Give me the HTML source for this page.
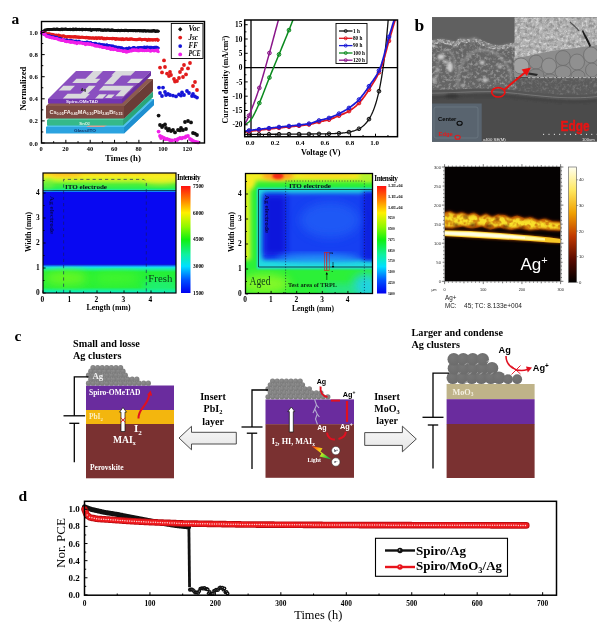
<!DOCTYPE html>
<html lang="en"><head><meta charset="utf-8"><title>Figure</title>
<style>
html,body{margin:0;padding:0;background:#fff;}
body{width:600px;height:625px;overflow:hidden;}
svg{display:block;}
text{font-weight:bold;}
.fs{font-family:"Liberation Serif",serif;}
.fn{font-family:"Liberation Sans",sans-serif;}
</style></head><body>
<svg width="600" height="625" viewBox="0 0 600 625">
<defs>
<linearGradient id="jet" x1="0" y1="1" x2="0" y2="0">
<stop offset="0" stop-color="#0000f0"/><stop offset="0.12" stop-color="#0050ff"/><stop offset="0.25" stop-color="#00e0ff"/>
<stop offset="0.36" stop-color="#10f0a0"/><stop offset="0.5" stop-color="#10f010"/><stop offset="0.62" stop-color="#90f800"/>
<stop offset="0.75" stop-color="#fff000"/><stop offset="0.87" stop-color="#ff8000"/><stop offset="1" stop-color="#ff1010"/>
</linearGradient>
<linearGradient id="h1top" x1="0" y1="0" x2="0" y2="1">
<stop offset="0" stop-color="#ffd020"/><stop offset="0.2" stop-color="#f6f020"/><stop offset="0.42" stop-color="#b0f42c"/><stop offset="0.6" stop-color="#50f038"/><stop offset="0.8" stop-color="#28f050"/><stop offset="0.9" stop-color="#18e8b0"/><stop offset="0.925" stop-color="#0a2a50"/><stop offset="0.955" stop-color="#18c8f8"/><stop offset="1" stop-color="#0a20f4"/>
</linearGradient>
<linearGradient id="h1bot" x1="0" y1="0" x2="0" y2="1">
<stop offset="0" stop-color="#0818c8"/><stop offset="0.05" stop-color="#1070f8"/><stop offset="0.1" stop-color="#18e0f0"/><stop offset="0.17" stop-color="#1cf0a0"/><stop offset="0.27" stop-color="#24f038"/><stop offset="0.8" stop-color="#28f038"/><stop offset="0.9" stop-color="#18f090"/><stop offset="1" stop-color="#08ecd0"/>
</linearGradient>
<filter id="b2" x="-30%" y="-30%" width="160%" height="160%"><feGaussianBlur stdDeviation="2"/></filter>
<filter id="b3" x="-30%" y="-30%" width="160%" height="160%"><feGaussianBlur stdDeviation="3.2"/></filter>
<filter id="b5" x="-30%" y="-30%" width="160%" height="160%"><feGaussianBlur stdDeviation="5"/></filter>
<filter id="b1" x="-30%" y="-30%" width="160%" height="160%"><feGaussianBlur stdDeviation="1.1"/></filter>
<clipPath id="ch1"><rect x="43" y="173" width="133" height="120"/></clipPath>
<clipPath id="ch2"><rect x="245.5" y="173.5" width="127" height="120"/></clipPath>

<filter id="nz2" x="0" y="0" width="100%" height="100%"><feTurbulence type="fractalNoise" baseFrequency="0.33" numOctaves="3" seed="11" result="t"/><feColorMatrix in="t" type="matrix" values="0 0 0 0 1  0 0 0 0 1  0 0 0 0 1  3.4 0 0 0 -1.55"/><feGaussianBlur stdDeviation="0.35"/><feComposite in2="SourceGraphic" operator="in"/></filter>
<filter id="nz3" x="0" y="0" width="100%" height="100%"><feTurbulence type="fractalNoise" baseFrequency="0.28" numOctaves="3" seed="7" result="t"/><feColorMatrix in="t" type="matrix" values="0 0 0 0 0.12  0 0 0 0 0.12  0 0 0 0 0.12  0 3.2 0 0 -1.4"/><feGaussianBlur stdDeviation="0.4"/><feComposite in2="SourceGraphic" operator="in"/></filter>
<filter id="nz4" x="0" y="0" width="100%" height="100%"><feTurbulence type="fractalNoise" baseFrequency="0.4" numOctaves="2" seed="21" result="t"/><feColorMatrix in="t" type="matrix" values="0 0 0 0 1  0 0 0 0 1  0 0 0 0 1  4 0 0 0 -1.6"/><feGaussianBlur stdDeviation="0.3"/><feComposite in2="SourceGraphic" operator="in"/></filter>
<filter id="nzy" x="0" y="0" width="100%" height="100%"><feTurbulence type="fractalNoise" baseFrequency="0.2" numOctaves="2" seed="5" result="t"/><feColorMatrix in="t" type="matrix" values="0 0 0 0 0.5  0 0 0 0 0.08  0 0 0 0 0  4.5 0 0 0 -2.0"/><feGaussianBlur stdDeviation="0.4"/><feComposite in2="SourceGraphic" operator="in"/></filter>
<filter id="bb" x="-20%" y="-40%" width="140%" height="180%"><feGaussianBlur stdDeviation="0.8"/></filter>
<filter id="bbs" x="-20%" y="-40%" width="140%" height="180%"><feGaussianBlur stdDeviation="0.5"/></filter>
<filter id="bb2" x="-20%" y="-40%" width="140%" height="180%"><feGaussianBlur stdDeviation="1.6"/></filter>
<clipPath id="csem"><rect x="432" y="17.3" width="165" height="124.5"/></clipPath>
<clipPath id="cins"><rect x="514.6" y="17" width="82.4" height="59.8"/></clipPath>
<clipPath id="ctof"><rect x="444.6" y="167" width="116" height="114.3"/></clipPath>
<linearGradient id="hot" x1="0" y1="1" x2="0" y2="0">
<stop offset="0" stop-color="#000"/><stop offset="0.2" stop-color="#5a0a00"/><stop offset="0.4" stop-color="#c03800"/><stop offset="0.6" stop-color="#f0a000"/><stop offset="0.8" stop-color="#ffe860"/><stop offset="1" stop-color="#fffff0"/>
</linearGradient>

<radialGradient id="ag1" cx="0.4" cy="0.35" r="0.7"><stop offset="0" stop-color="#8e8e8e"/><stop offset="1" stop-color="#777"/></radialGradient>
<radialGradient id="ag2" cx="0.4" cy="0.35" r="0.7"><stop offset="0" stop-color="#767676"/><stop offset="1" stop-color="#6b6b6b"/></radialGradient>
<linearGradient id="arr" x1="0" y1="0" x2="0" y2="1"><stop offset="0" stop-color="#f8f8f8"/><stop offset="1" stop-color="#e6e6e6"/></linearGradient>
<linearGradient id="rain" x1="0" y1="0" x2="1" y2="0.6"><stop offset="0" stop-color="#ff2010"/><stop offset="0.35" stop-color="#ffb010"/><stop offset="0.6" stop-color="#d0f020"/><stop offset="1" stop-color="#20c040"/></linearGradient>
</defs>
<rect width="600" height="625" fill="#fff"/>
<g id="pa"><polygon points="46,127 124,127 154,99 154,105 124,133.5 46,133.5" fill="#2ba3e0" stroke="none" stroke-width="1" />
<polygon points="46,127 124,127 154,99 76,99" fill="#4fc3ee" stroke="none" stroke-width="1" />
<polygon points="124,127 154,99 154,105 124,133.5" fill="#1e8fd0" stroke="none" stroke-width="1" />
<polygon points="86,127 104,127 110,123.5 92,123.5" fill="#d9a39a" stroke="none" stroke-width="1" />
<polygon points="47,120 123,120 153,92 77,92" fill="#4fcfa0" stroke="none" stroke-width="1" />
<polygon points="47,120 123,120 153,92 153,97 123,125.5 47,125.5" fill="#35b98a" stroke="none" stroke-width="1" />
<polygon points="123,120 153,92 153,97 123,125.5" fill="#2aa57a" stroke="none" stroke-width="1" />
<polygon points="46,106 124,106 153,79 153,91 124,118.5 46,118.5" fill="#7d4a42" stroke="none" stroke-width="1" />
<polygon points="124,106 153,79 153,91 124,118.5" fill="#6a3c36" stroke="none" stroke-width="1" />
<polygon points="46,106 124,106 153,79 75,79" fill="#8d5a50" stroke="none" stroke-width="1" />
<polygon points="48,99 122,99 151,71 76,71" fill="#8a4fc0" stroke="none" stroke-width="1" />
<polygon points="48,99 122,99 122,103.5 48,103.5" fill="#7335b0" stroke="none" stroke-width="1" />
<polygon points="122,99 151,71 151,75.5 122,103.5" fill="#6a2fa3" stroke="none" stroke-width="1" />
<polygon points="93.25,71 103,71 94.6,79.4 84.85,79.4" fill="#d9d9dc" stroke="none" stroke-width="1" />
<polygon points="76.41,78.84 100.41,78.84 96.21,83.04 72.21,83.04" fill="#d9d9dc" stroke="none" stroke-width="1" />
<polygon points="115.75,71 135.25,71 130.77,75.48 111.27,75.48" fill="#d9d9dc" stroke="none" stroke-width="1" />
<polygon points="113.89,74.36 122.89,74.36 113.09,84.16 104.09,84.16" fill="#d9d9dc" stroke="none" stroke-width="1" />
<polygon points="131.16,78.84 143.16,78.84 138.96,83.04 126.96,83.04" fill="#d9d9dc" stroke="none" stroke-width="1" />
<polygon points="63.41,85.84 75.03,85.84 70.28,90.6 58.65,90.6" fill="#d9d9dc" stroke="none" stroke-width="1" />
<polygon points="103.53,85.84 133.91,85.84 129.15,90.6 98.78,90.6" fill="#d9d9dc" stroke="none" stroke-width="1" />
<polygon points="122.02,89.48 130.27,89.48 123.55,96.2 115.3,96.2" fill="#d9d9dc" stroke="none" stroke-width="1" />
<polygon points="67.57,93.68 90.07,93.68 85.31,98.44 62.81,98.44" fill="#d9d9dc" stroke="none" stroke-width="1" />
<polygon points="88.91,85.84 95.66,85.84 86.7,94.8 79.95,94.8" fill="#d9d9dc" stroke="none" stroke-width="1" />
<polygon points="99.26,94.24 106.76,94.24 102.56,98.44 95.06,98.44" fill="#d9d9dc" stroke="none" stroke-width="1" />
<polygon points="108.36,94.52 114.73,94.52 111.37,97.88 105,97.88" fill="#d9d9dc" stroke="none" stroke-width="1" />
<text class="fn" x="83.5" y="90.6" font-size="4.2" text-anchor="middle" fill="#222" >Ag</text>
<text class="fn" x="82" y="103" font-size="4.4" text-anchor="middle" fill="#efe6fa" textLength="32" lengthAdjust="spacingAndGlyphs">Spiro-OMeTAD</text>
<text class="fn" x="86" y="113.8" font-size="4.6" text-anchor="middle" fill="#f6ece8" textLength="73" lengthAdjust="spacingAndGlyphs">Cs<tspan font-size="3" dy="0.8">0.05</tspan><tspan dy="-0.8">FA</tspan><tspan font-size="3" dy="0.8">0.85</tspan><tspan dy="-0.8">MA</tspan><tspan font-size="3" dy="0.8">0.10</tspan><tspan dy="-0.8">PbI</tspan><tspan font-size="3" dy="0.8">2.85</tspan><tspan dy="-0.8">Br</tspan><tspan font-size="3" dy="0.8">0.15</tspan></text>
<text class="fn" x="84.5" y="124.6" font-size="4.2" text-anchor="middle" fill="#e6f8ee" >SnO<tspan font-size="3" dy="0.8">2</tspan></text>
<text class="fn" x="85" y="132.2" font-size="4.4" text-anchor="middle" fill="#14356a" textLength="22" lengthAdjust="spacingAndGlyphs">Glass/ITO</text>
<circle cx="41.5" cy="32.48" r="1.45" fill="#111" stroke="none" stroke-width="1" /><circle cx="42.11" cy="31.86" r="1.45" fill="#111" stroke="none" stroke-width="1" /><circle cx="42.72" cy="31.97" r="1.45" fill="#111" stroke="none" stroke-width="1" /><circle cx="43.33" cy="31.18" r="1.45" fill="#111" stroke="none" stroke-width="1" /><circle cx="43.94" cy="31.08" r="1.45" fill="#111" stroke="none" stroke-width="1" /><circle cx="44.54" cy="30.72" r="1.45" fill="#111" stroke="none" stroke-width="1" /><circle cx="45.15" cy="29.87" r="1.45" fill="#111" stroke="none" stroke-width="1" /><circle cx="45.76" cy="30.14" r="1.45" fill="#111" stroke="none" stroke-width="1" /><circle cx="46.37" cy="30.08" r="1.45" fill="#111" stroke="none" stroke-width="1" /><circle cx="46.98" cy="29.8" r="1.45" fill="#111" stroke="none" stroke-width="1" /><circle cx="47.59" cy="29.6" r="1.45" fill="#111" stroke="none" stroke-width="1" /><circle cx="48.2" cy="29.74" r="1.45" fill="#111" stroke="none" stroke-width="1" /><circle cx="48.8" cy="29.5" r="1.45" fill="#111" stroke="none" stroke-width="1" /><circle cx="49.41" cy="29.73" r="1.45" fill="#111" stroke="none" stroke-width="1" /><circle cx="50.02" cy="29.49" r="1.45" fill="#111" stroke="none" stroke-width="1" /><circle cx="50.63" cy="29.39" r="1.45" fill="#111" stroke="none" stroke-width="1" /><circle cx="51.24" cy="29.48" r="1.45" fill="#111" stroke="none" stroke-width="1" /><circle cx="51.85" cy="29.52" r="1.45" fill="#111" stroke="none" stroke-width="1" /><circle cx="52.46" cy="29.55" r="1.45" fill="#111" stroke="none" stroke-width="1" /><circle cx="53.07" cy="29.25" r="1.45" fill="#111" stroke="none" stroke-width="1" /><circle cx="53.67" cy="29.24" r="1.45" fill="#111" stroke="none" stroke-width="1" /><circle cx="54.28" cy="29.28" r="1.45" fill="#111" stroke="none" stroke-width="1" /><circle cx="54.89" cy="29.2" r="1.45" fill="#111" stroke="none" stroke-width="1" /><circle cx="55.5" cy="29.52" r="1.45" fill="#111" stroke="none" stroke-width="1" /><circle cx="56.11" cy="29.24" r="1.45" fill="#111" stroke="none" stroke-width="1" /><circle cx="56.72" cy="29.18" r="1.45" fill="#111" stroke="none" stroke-width="1" /><circle cx="57.33" cy="29.07" r="1.45" fill="#111" stroke="none" stroke-width="1" /><circle cx="57.94" cy="29.43" r="1.45" fill="#111" stroke="none" stroke-width="1" /><circle cx="58.55" cy="29.33" r="1.45" fill="#111" stroke="none" stroke-width="1" /><circle cx="59.15" cy="29.7" r="1.45" fill="#111" stroke="none" stroke-width="1" /><circle cx="59.76" cy="29.37" r="1.45" fill="#111" stroke="none" stroke-width="1" /><circle cx="60.37" cy="29.75" r="1.45" fill="#111" stroke="none" stroke-width="1" /><circle cx="60.98" cy="29.58" r="1.45" fill="#111" stroke="none" stroke-width="1" /><circle cx="61.59" cy="29.03" r="1.45" fill="#111" stroke="none" stroke-width="1" /><circle cx="62.2" cy="29.76" r="1.45" fill="#111" stroke="none" stroke-width="1" /><circle cx="62.81" cy="29.1" r="1.45" fill="#111" stroke="none" stroke-width="1" /><circle cx="63.41" cy="29.21" r="1.45" fill="#111" stroke="none" stroke-width="1" /><circle cx="64.02" cy="29.36" r="1.45" fill="#111" stroke="none" stroke-width="1" /><circle cx="64.63" cy="29.19" r="1.45" fill="#111" stroke="none" stroke-width="1" /><circle cx="65.24" cy="29.18" r="1.45" fill="#111" stroke="none" stroke-width="1" /><circle cx="65.85" cy="29.07" r="1.45" fill="#111" stroke="none" stroke-width="1" /><circle cx="66.46" cy="29.36" r="1.45" fill="#111" stroke="none" stroke-width="1" /><circle cx="67.07" cy="29.45" r="1.45" fill="#111" stroke="none" stroke-width="1" /><circle cx="67.68" cy="29.45" r="1.45" fill="#111" stroke="none" stroke-width="1" /><circle cx="68.28" cy="29.54" r="1.45" fill="#111" stroke="none" stroke-width="1" /><circle cx="68.89" cy="29.34" r="1.45" fill="#111" stroke="none" stroke-width="1" /><circle cx="69.5" cy="29.51" r="1.45" fill="#111" stroke="none" stroke-width="1" /><circle cx="70.11" cy="29.1" r="1.45" fill="#111" stroke="none" stroke-width="1" /><circle cx="70.72" cy="29.76" r="1.45" fill="#111" stroke="none" stroke-width="1" /><circle cx="71.33" cy="29.59" r="1.45" fill="#111" stroke="none" stroke-width="1" /><circle cx="71.94" cy="29.57" r="1.45" fill="#111" stroke="none" stroke-width="1" /><circle cx="72.55" cy="29.82" r="1.45" fill="#111" stroke="none" stroke-width="1" /><circle cx="73.16" cy="28.95" r="1.45" fill="#111" stroke="none" stroke-width="1" /><circle cx="73.76" cy="29.9" r="1.45" fill="#111" stroke="none" stroke-width="1" /><circle cx="74.37" cy="29.44" r="1.45" fill="#111" stroke="none" stroke-width="1" /><circle cx="74.98" cy="29.5" r="1.45" fill="#111" stroke="none" stroke-width="1" /><circle cx="75.59" cy="29.02" r="1.45" fill="#111" stroke="none" stroke-width="1" /><circle cx="76.2" cy="29.83" r="1.45" fill="#111" stroke="none" stroke-width="1" /><circle cx="76.81" cy="29.16" r="1.45" fill="#111" stroke="none" stroke-width="1" /><circle cx="77.42" cy="29.56" r="1.45" fill="#111" stroke="none" stroke-width="1" /><circle cx="78.03" cy="29.44" r="1.45" fill="#111" stroke="none" stroke-width="1" /><circle cx="78.63" cy="29.57" r="1.45" fill="#111" stroke="none" stroke-width="1" /><circle cx="79.24" cy="29.29" r="1.45" fill="#111" stroke="none" stroke-width="1" /><circle cx="79.85" cy="29.7" r="1.45" fill="#111" stroke="none" stroke-width="1" /><circle cx="80.46" cy="29.48" r="1.45" fill="#111" stroke="none" stroke-width="1" /><circle cx="81.07" cy="29.4" r="1.45" fill="#111" stroke="none" stroke-width="1" /><circle cx="81.68" cy="29.09" r="1.45" fill="#111" stroke="none" stroke-width="1" /><circle cx="82.29" cy="30.04" r="1.45" fill="#111" stroke="none" stroke-width="1" /><circle cx="82.9" cy="29.19" r="1.45" fill="#111" stroke="none" stroke-width="1" /><circle cx="83.5" cy="29.33" r="1.45" fill="#111" stroke="none" stroke-width="1" /><circle cx="84.11" cy="29.66" r="1.45" fill="#111" stroke="none" stroke-width="1" /><circle cx="84.72" cy="29.5" r="1.45" fill="#111" stroke="none" stroke-width="1" /><circle cx="85.33" cy="29.69" r="1.45" fill="#111" stroke="none" stroke-width="1" /><circle cx="85.94" cy="29.23" r="1.45" fill="#111" stroke="none" stroke-width="1" /><circle cx="86.55" cy="29.57" r="1.45" fill="#111" stroke="none" stroke-width="1" /><circle cx="87.16" cy="29.67" r="1.45" fill="#111" stroke="none" stroke-width="1" /><circle cx="87.77" cy="29.69" r="1.45" fill="#111" stroke="none" stroke-width="1" /><circle cx="88.37" cy="29.7" r="1.45" fill="#111" stroke="none" stroke-width="1" /><circle cx="88.98" cy="29.71" r="1.45" fill="#111" stroke="none" stroke-width="1" /><circle cx="89.59" cy="29.88" r="1.45" fill="#111" stroke="none" stroke-width="1" /><circle cx="90.2" cy="29.25" r="1.45" fill="#111" stroke="none" stroke-width="1" /><circle cx="90.81" cy="30.14" r="1.45" fill="#111" stroke="none" stroke-width="1" /><circle cx="91.42" cy="30.53" r="1.45" fill="#111" stroke="none" stroke-width="1" /><circle cx="92.03" cy="29.77" r="1.45" fill="#111" stroke="none" stroke-width="1" /><circle cx="92.63" cy="29.79" r="1.45" fill="#111" stroke="none" stroke-width="1" /><circle cx="93.24" cy="29.69" r="1.45" fill="#111" stroke="none" stroke-width="1" /><circle cx="93.85" cy="29.83" r="1.45" fill="#111" stroke="none" stroke-width="1" /><circle cx="94.46" cy="29.84" r="1.45" fill="#111" stroke="none" stroke-width="1" /><circle cx="95.07" cy="29.75" r="1.45" fill="#111" stroke="none" stroke-width="1" /><circle cx="95.68" cy="29.62" r="1.45" fill="#111" stroke="none" stroke-width="1" /><circle cx="96.29" cy="29.95" r="1.45" fill="#111" stroke="none" stroke-width="1" /><circle cx="96.9" cy="29.95" r="1.45" fill="#111" stroke="none" stroke-width="1" /><circle cx="97.5" cy="29.45" r="1.45" fill="#111" stroke="none" stroke-width="1" /><circle cx="98.11" cy="29.78" r="1.45" fill="#111" stroke="none" stroke-width="1" /><circle cx="98.72" cy="30.12" r="1.45" fill="#111" stroke="none" stroke-width="1" /><circle cx="99.33" cy="29.41" r="1.45" fill="#111" stroke="none" stroke-width="1" /><circle cx="99.94" cy="29.76" r="1.45" fill="#111" stroke="none" stroke-width="1" /><circle cx="100.55" cy="30.08" r="1.45" fill="#111" stroke="none" stroke-width="1" /><circle cx="101.16" cy="30.23" r="1.45" fill="#111" stroke="none" stroke-width="1" /><circle cx="101.77" cy="29.91" r="1.45" fill="#111" stroke="none" stroke-width="1" /><circle cx="102.38" cy="30.18" r="1.45" fill="#111" stroke="none" stroke-width="1" /><circle cx="102.98" cy="30.24" r="1.45" fill="#111" stroke="none" stroke-width="1" /><circle cx="103.59" cy="30.31" r="1.45" fill="#111" stroke="none" stroke-width="1" /><circle cx="104.2" cy="30.15" r="1.45" fill="#111" stroke="none" stroke-width="1" /><circle cx="104.81" cy="29.81" r="1.45" fill="#111" stroke="none" stroke-width="1" /><circle cx="105.42" cy="30.16" r="1.45" fill="#111" stroke="none" stroke-width="1" /><circle cx="106.03" cy="30.4" r="1.45" fill="#111" stroke="none" stroke-width="1" /><circle cx="106.64" cy="29.95" r="1.45" fill="#111" stroke="none" stroke-width="1" /><circle cx="107.25" cy="30.1" r="1.45" fill="#111" stroke="none" stroke-width="1" /><circle cx="107.85" cy="29.94" r="1.45" fill="#111" stroke="none" stroke-width="1" /><circle cx="108.46" cy="29.88" r="1.45" fill="#111" stroke="none" stroke-width="1" /><circle cx="109.07" cy="30.19" r="1.45" fill="#111" stroke="none" stroke-width="1" /><circle cx="109.68" cy="30.2" r="1.45" fill="#111" stroke="none" stroke-width="1" /><circle cx="110.29" cy="30.2" r="1.45" fill="#111" stroke="none" stroke-width="1" /><circle cx="110.9" cy="30.45" r="1.45" fill="#111" stroke="none" stroke-width="1" /><circle cx="111.51" cy="30.07" r="1.45" fill="#111" stroke="none" stroke-width="1" /><circle cx="112.11" cy="29.93" r="1.45" fill="#111" stroke="none" stroke-width="1" /><circle cx="112.72" cy="30.21" r="1.45" fill="#111" stroke="none" stroke-width="1" /><circle cx="113.33" cy="30.31" r="1.45" fill="#111" stroke="none" stroke-width="1" /><circle cx="113.94" cy="30.33" r="1.45" fill="#111" stroke="none" stroke-width="1" /><circle cx="114.55" cy="30.46" r="1.45" fill="#111" stroke="none" stroke-width="1" /><circle cx="115.16" cy="30.48" r="1.45" fill="#111" stroke="none" stroke-width="1" /><circle cx="115.77" cy="30.4" r="1.45" fill="#111" stroke="none" stroke-width="1" /><circle cx="116.38" cy="30.51" r="1.45" fill="#111" stroke="none" stroke-width="1" /><circle cx="116.98" cy="30.44" r="1.45" fill="#111" stroke="none" stroke-width="1" /><circle cx="117.59" cy="30.7" r="1.45" fill="#111" stroke="none" stroke-width="1" /><circle cx="118.2" cy="30.29" r="1.45" fill="#111" stroke="none" stroke-width="1" /><circle cx="118.81" cy="30.37" r="1.45" fill="#111" stroke="none" stroke-width="1" /><circle cx="119.42" cy="30.64" r="1.45" fill="#111" stroke="none" stroke-width="1" /><circle cx="120.03" cy="30.91" r="1.45" fill="#111" stroke="none" stroke-width="1" /><circle cx="120.64" cy="30.41" r="1.45" fill="#111" stroke="none" stroke-width="1" /><circle cx="121.25" cy="30.18" r="1.45" fill="#111" stroke="none" stroke-width="1" /><circle cx="121.86" cy="30.6" r="1.45" fill="#111" stroke="none" stroke-width="1" /><circle cx="122.46" cy="30.56" r="1.45" fill="#111" stroke="none" stroke-width="1" /><circle cx="123.07" cy="30.59" r="1.45" fill="#111" stroke="none" stroke-width="1" /><circle cx="123.68" cy="30.33" r="1.45" fill="#111" stroke="none" stroke-width="1" /><circle cx="124.29" cy="30.69" r="1.45" fill="#111" stroke="none" stroke-width="1" /><circle cx="124.9" cy="30.28" r="1.45" fill="#111" stroke="none" stroke-width="1" /><circle cx="125.51" cy="30.58" r="1.45" fill="#111" stroke="none" stroke-width="1" /><circle cx="126.12" cy="30.32" r="1.45" fill="#111" stroke="none" stroke-width="1" /><circle cx="126.73" cy="30.53" r="1.45" fill="#111" stroke="none" stroke-width="1" /><circle cx="127.33" cy="30.6" r="1.45" fill="#111" stroke="none" stroke-width="1" /><circle cx="127.94" cy="30.89" r="1.45" fill="#111" stroke="none" stroke-width="1" /><circle cx="128.55" cy="30.72" r="1.45" fill="#111" stroke="none" stroke-width="1" /><circle cx="129.16" cy="30.64" r="1.45" fill="#111" stroke="none" stroke-width="1" /><circle cx="129.77" cy="30.45" r="1.45" fill="#111" stroke="none" stroke-width="1" /><circle cx="130.38" cy="30.56" r="1.45" fill="#111" stroke="none" stroke-width="1" /><circle cx="130.99" cy="30.78" r="1.45" fill="#111" stroke="none" stroke-width="1" /><circle cx="131.59" cy="30.54" r="1.45" fill="#111" stroke="none" stroke-width="1" /><circle cx="132.2" cy="30.43" r="1.45" fill="#111" stroke="none" stroke-width="1" /><circle cx="132.81" cy="30.69" r="1.45" fill="#111" stroke="none" stroke-width="1" /><circle cx="133.42" cy="30.77" r="1.45" fill="#111" stroke="none" stroke-width="1" /><circle cx="134.03" cy="30.77" r="1.45" fill="#111" stroke="none" stroke-width="1" /><circle cx="134.64" cy="30.52" r="1.45" fill="#111" stroke="none" stroke-width="1" /><circle cx="135.25" cy="30.59" r="1.45" fill="#111" stroke="none" stroke-width="1" /><circle cx="135.86" cy="30.93" r="1.45" fill="#111" stroke="none" stroke-width="1" /><circle cx="136.47" cy="30.65" r="1.45" fill="#111" stroke="none" stroke-width="1" /><circle cx="137.07" cy="30.85" r="1.45" fill="#111" stroke="none" stroke-width="1" /><circle cx="137.68" cy="30.92" r="1.45" fill="#111" stroke="none" stroke-width="1" /><circle cx="138.29" cy="30.49" r="1.45" fill="#111" stroke="none" stroke-width="1" /><circle cx="138.9" cy="30.6" r="1.45" fill="#111" stroke="none" stroke-width="1" /><circle cx="139.51" cy="30.95" r="1.45" fill="#111" stroke="none" stroke-width="1" /><circle cx="140.12" cy="30.79" r="1.45" fill="#111" stroke="none" stroke-width="1" /><circle cx="140.73" cy="30.71" r="1.45" fill="#111" stroke="none" stroke-width="1" /><circle cx="141.34" cy="30.97" r="1.45" fill="#111" stroke="none" stroke-width="1" /><circle cx="141.94" cy="30.87" r="1.45" fill="#111" stroke="none" stroke-width="1" /><circle cx="142.55" cy="30.71" r="1.45" fill="#111" stroke="none" stroke-width="1" /><circle cx="143.16" cy="31.26" r="1.45" fill="#111" stroke="none" stroke-width="1" /><circle cx="143.77" cy="30.81" r="1.45" fill="#111" stroke="none" stroke-width="1" /><circle cx="144.38" cy="30.73" r="1.45" fill="#111" stroke="none" stroke-width="1" /><circle cx="144.99" cy="30.79" r="1.45" fill="#111" stroke="none" stroke-width="1" /><circle cx="145.6" cy="31.21" r="1.45" fill="#111" stroke="none" stroke-width="1" /><circle cx="146.2" cy="30.86" r="1.45" fill="#111" stroke="none" stroke-width="1" /><circle cx="146.81" cy="31.13" r="1.45" fill="#111" stroke="none" stroke-width="1" /><circle cx="147.42" cy="30.83" r="1.45" fill="#111" stroke="none" stroke-width="1" /><circle cx="148.03" cy="30.83" r="1.45" fill="#111" stroke="none" stroke-width="1" /><circle cx="148.64" cy="30.93" r="1.45" fill="#111" stroke="none" stroke-width="1" /><circle cx="149.25" cy="31.16" r="1.45" fill="#111" stroke="none" stroke-width="1" /><circle cx="149.86" cy="31.13" r="1.45" fill="#111" stroke="none" stroke-width="1" /><circle cx="150.47" cy="30.83" r="1.45" fill="#111" stroke="none" stroke-width="1" /><circle cx="151.07" cy="31.23" r="1.45" fill="#111" stroke="none" stroke-width="1" /><circle cx="151.68" cy="30.93" r="1.45" fill="#111" stroke="none" stroke-width="1" /><circle cx="152.29" cy="30.94" r="1.45" fill="#111" stroke="none" stroke-width="1" /><circle cx="152.9" cy="31.13" r="1.45" fill="#111" stroke="none" stroke-width="1" /><circle cx="153.51" cy="30.55" r="1.45" fill="#111" stroke="none" stroke-width="1" /><circle cx="154.12" cy="31.07" r="1.45" fill="#111" stroke="none" stroke-width="1" /><circle cx="154.73" cy="30.63" r="1.45" fill="#111" stroke="none" stroke-width="1" /><circle cx="155.34" cy="31.56" r="1.45" fill="#111" stroke="none" stroke-width="1" /><circle cx="155.94" cy="31.62" r="1.45" fill="#111" stroke="none" stroke-width="1" /><circle cx="156.55" cy="30.92" r="1.45" fill="#111" stroke="none" stroke-width="1" /><circle cx="157.16" cy="31.01" r="1.45" fill="#111" stroke="none" stroke-width="1" /><circle cx="157.77" cy="31.23" r="1.45" fill="#111" stroke="none" stroke-width="1" /><circle cx="158.38" cy="31.19" r="1.45" fill="#111" stroke="none" stroke-width="1" />
<circle cx="41.5" cy="33.13" r="1.45" fill="#e11b1b" stroke="none" stroke-width="1" /><circle cx="42.11" cy="32.87" r="1.45" fill="#e11b1b" stroke="none" stroke-width="1" /><circle cx="42.72" cy="33.17" r="1.45" fill="#e11b1b" stroke="none" stroke-width="1" /><circle cx="43.33" cy="33.07" r="1.45" fill="#e11b1b" stroke="none" stroke-width="1" /><circle cx="43.94" cy="32.87" r="1.45" fill="#e11b1b" stroke="none" stroke-width="1" /><circle cx="44.54" cy="33.31" r="1.45" fill="#e11b1b" stroke="none" stroke-width="1" /><circle cx="45.15" cy="33.37" r="1.45" fill="#e11b1b" stroke="none" stroke-width="1" /><circle cx="45.76" cy="33.89" r="1.45" fill="#e11b1b" stroke="none" stroke-width="1" /><circle cx="46.37" cy="33.97" r="1.45" fill="#e11b1b" stroke="none" stroke-width="1" /><circle cx="46.98" cy="33.95" r="1.45" fill="#e11b1b" stroke="none" stroke-width="1" /><circle cx="47.59" cy="34.25" r="1.45" fill="#e11b1b" stroke="none" stroke-width="1" /><circle cx="48.2" cy="33.82" r="1.45" fill="#e11b1b" stroke="none" stroke-width="1" /><circle cx="48.8" cy="34.62" r="1.45" fill="#e11b1b" stroke="none" stroke-width="1" /><circle cx="49.41" cy="33.78" r="1.45" fill="#e11b1b" stroke="none" stroke-width="1" /><circle cx="50.02" cy="34.82" r="1.45" fill="#e11b1b" stroke="none" stroke-width="1" /><circle cx="50.63" cy="34.23" r="1.45" fill="#e11b1b" stroke="none" stroke-width="1" /><circle cx="51.24" cy="34.92" r="1.45" fill="#e11b1b" stroke="none" stroke-width="1" /><circle cx="51.85" cy="34.2" r="1.45" fill="#e11b1b" stroke="none" stroke-width="1" /><circle cx="52.46" cy="34.79" r="1.45" fill="#e11b1b" stroke="none" stroke-width="1" /><circle cx="53.07" cy="34.79" r="1.45" fill="#e11b1b" stroke="none" stroke-width="1" /><circle cx="53.67" cy="34.76" r="1.45" fill="#e11b1b" stroke="none" stroke-width="1" /><circle cx="54.28" cy="35.3" r="1.45" fill="#e11b1b" stroke="none" stroke-width="1" /><circle cx="54.89" cy="35.52" r="1.45" fill="#e11b1b" stroke="none" stroke-width="1" /><circle cx="55.5" cy="35.93" r="1.45" fill="#e11b1b" stroke="none" stroke-width="1" /><circle cx="56.11" cy="34.94" r="1.45" fill="#e11b1b" stroke="none" stroke-width="1" /><circle cx="56.72" cy="35.66" r="1.45" fill="#e11b1b" stroke="none" stroke-width="1" /><circle cx="57.33" cy="35.71" r="1.45" fill="#e11b1b" stroke="none" stroke-width="1" /><circle cx="57.94" cy="35.61" r="1.45" fill="#e11b1b" stroke="none" stroke-width="1" /><circle cx="58.55" cy="35.02" r="1.45" fill="#e11b1b" stroke="none" stroke-width="1" /><circle cx="59.15" cy="36.34" r="1.45" fill="#e11b1b" stroke="none" stroke-width="1" /><circle cx="59.76" cy="35.77" r="1.45" fill="#e11b1b" stroke="none" stroke-width="1" /><circle cx="60.37" cy="36.07" r="1.45" fill="#e11b1b" stroke="none" stroke-width="1" /><circle cx="60.98" cy="35.84" r="1.45" fill="#e11b1b" stroke="none" stroke-width="1" /><circle cx="61.59" cy="36.7" r="1.45" fill="#e11b1b" stroke="none" stroke-width="1" /><circle cx="62.2" cy="36.32" r="1.45" fill="#e11b1b" stroke="none" stroke-width="1" /><circle cx="62.81" cy="36" r="1.45" fill="#e11b1b" stroke="none" stroke-width="1" /><circle cx="63.41" cy="35.84" r="1.45" fill="#e11b1b" stroke="none" stroke-width="1" /><circle cx="64.02" cy="35.92" r="1.45" fill="#e11b1b" stroke="none" stroke-width="1" /><circle cx="64.63" cy="36.81" r="1.45" fill="#e11b1b" stroke="none" stroke-width="1" /><circle cx="65.24" cy="36.6" r="1.45" fill="#e11b1b" stroke="none" stroke-width="1" /><circle cx="65.85" cy="36.74" r="1.45" fill="#e11b1b" stroke="none" stroke-width="1" /><circle cx="66.46" cy="37.18" r="1.45" fill="#e11b1b" stroke="none" stroke-width="1" /><circle cx="67.07" cy="37.23" r="1.45" fill="#e11b1b" stroke="none" stroke-width="1" /><circle cx="67.68" cy="36.53" r="1.45" fill="#e11b1b" stroke="none" stroke-width="1" /><circle cx="68.28" cy="36.73" r="1.45" fill="#e11b1b" stroke="none" stroke-width="1" /><circle cx="68.89" cy="36.88" r="1.45" fill="#e11b1b" stroke="none" stroke-width="1" /><circle cx="69.5" cy="36.46" r="1.45" fill="#e11b1b" stroke="none" stroke-width="1" /><circle cx="70.11" cy="37.22" r="1.45" fill="#e11b1b" stroke="none" stroke-width="1" /><circle cx="70.72" cy="36.75" r="1.45" fill="#e11b1b" stroke="none" stroke-width="1" /><circle cx="71.33" cy="36.94" r="1.45" fill="#e11b1b" stroke="none" stroke-width="1" /><circle cx="71.94" cy="36.99" r="1.45" fill="#e11b1b" stroke="none" stroke-width="1" /><circle cx="72.55" cy="36.84" r="1.45" fill="#e11b1b" stroke="none" stroke-width="1" /><circle cx="73.16" cy="36.97" r="1.45" fill="#e11b1b" stroke="none" stroke-width="1" /><circle cx="73.76" cy="36.97" r="1.45" fill="#e11b1b" stroke="none" stroke-width="1" /><circle cx="74.37" cy="37" r="1.45" fill="#e11b1b" stroke="none" stroke-width="1" /><circle cx="74.98" cy="36.47" r="1.45" fill="#e11b1b" stroke="none" stroke-width="1" /><circle cx="75.59" cy="37.24" r="1.45" fill="#e11b1b" stroke="none" stroke-width="1" /><circle cx="76.2" cy="36.83" r="1.45" fill="#e11b1b" stroke="none" stroke-width="1" /><circle cx="76.81" cy="36.99" r="1.45" fill="#e11b1b" stroke="none" stroke-width="1" /><circle cx="77.42" cy="37.34" r="1.45" fill="#e11b1b" stroke="none" stroke-width="1" /><circle cx="78.03" cy="36.99" r="1.45" fill="#e11b1b" stroke="none" stroke-width="1" /><circle cx="78.63" cy="37.56" r="1.45" fill="#e11b1b" stroke="none" stroke-width="1" /><circle cx="79.24" cy="36.92" r="1.45" fill="#e11b1b" stroke="none" stroke-width="1" /><circle cx="79.85" cy="37.6" r="1.45" fill="#e11b1b" stroke="none" stroke-width="1" /><circle cx="80.46" cy="37.52" r="1.45" fill="#e11b1b" stroke="none" stroke-width="1" /><circle cx="81.07" cy="37.28" r="1.45" fill="#e11b1b" stroke="none" stroke-width="1" /><circle cx="81.68" cy="37.14" r="1.45" fill="#e11b1b" stroke="none" stroke-width="1" /><circle cx="82.29" cy="37.14" r="1.45" fill="#e11b1b" stroke="none" stroke-width="1" /><circle cx="82.9" cy="37.18" r="1.45" fill="#e11b1b" stroke="none" stroke-width="1" /><circle cx="83.5" cy="37.57" r="1.45" fill="#e11b1b" stroke="none" stroke-width="1" /><circle cx="84.11" cy="37.84" r="1.45" fill="#e11b1b" stroke="none" stroke-width="1" /><circle cx="84.72" cy="37.37" r="1.45" fill="#e11b1b" stroke="none" stroke-width="1" /><circle cx="85.33" cy="37.48" r="1.45" fill="#e11b1b" stroke="none" stroke-width="1" /><circle cx="85.94" cy="37.93" r="1.45" fill="#e11b1b" stroke="none" stroke-width="1" /><circle cx="86.55" cy="37.32" r="1.45" fill="#e11b1b" stroke="none" stroke-width="1" /><circle cx="87.16" cy="37.6" r="1.45" fill="#e11b1b" stroke="none" stroke-width="1" /><circle cx="87.77" cy="38.01" r="1.45" fill="#e11b1b" stroke="none" stroke-width="1" /><circle cx="88.37" cy="37.57" r="1.45" fill="#e11b1b" stroke="none" stroke-width="1" /><circle cx="88.98" cy="38.19" r="1.45" fill="#e11b1b" stroke="none" stroke-width="1" /><circle cx="89.59" cy="38.07" r="1.45" fill="#e11b1b" stroke="none" stroke-width="1" /><circle cx="90.2" cy="37.67" r="1.45" fill="#e11b1b" stroke="none" stroke-width="1" /><circle cx="90.81" cy="38.35" r="1.45" fill="#e11b1b" stroke="none" stroke-width="1" /><circle cx="91.42" cy="37.85" r="1.45" fill="#e11b1b" stroke="none" stroke-width="1" /><circle cx="92.03" cy="38.33" r="1.45" fill="#e11b1b" stroke="none" stroke-width="1" /><circle cx="92.63" cy="37.67" r="1.45" fill="#e11b1b" stroke="none" stroke-width="1" /><circle cx="93.24" cy="38.18" r="1.45" fill="#e11b1b" stroke="none" stroke-width="1" /><circle cx="93.85" cy="37.91" r="1.45" fill="#e11b1b" stroke="none" stroke-width="1" /><circle cx="94.46" cy="38.5" r="1.45" fill="#e11b1b" stroke="none" stroke-width="1" /><circle cx="95.07" cy="38.14" r="1.45" fill="#e11b1b" stroke="none" stroke-width="1" /><circle cx="95.68" cy="37.74" r="1.45" fill="#e11b1b" stroke="none" stroke-width="1" /><circle cx="96.29" cy="37.93" r="1.45" fill="#e11b1b" stroke="none" stroke-width="1" /><circle cx="96.9" cy="38.72" r="1.45" fill="#e11b1b" stroke="none" stroke-width="1" /><circle cx="97.5" cy="37.83" r="1.45" fill="#e11b1b" stroke="none" stroke-width="1" /><circle cx="98.11" cy="37.87" r="1.45" fill="#e11b1b" stroke="none" stroke-width="1" /><circle cx="98.72" cy="38.32" r="1.45" fill="#e11b1b" stroke="none" stroke-width="1" /><circle cx="99.33" cy="37.75" r="1.45" fill="#e11b1b" stroke="none" stroke-width="1" /><circle cx="99.94" cy="38.6" r="1.45" fill="#e11b1b" stroke="none" stroke-width="1" /><circle cx="100.55" cy="38.3" r="1.45" fill="#e11b1b" stroke="none" stroke-width="1" /><circle cx="101.16" cy="37.93" r="1.45" fill="#e11b1b" stroke="none" stroke-width="1" /><circle cx="101.77" cy="37.89" r="1.45" fill="#e11b1b" stroke="none" stroke-width="1" /><circle cx="102.38" cy="37.93" r="1.45" fill="#e11b1b" stroke="none" stroke-width="1" /><circle cx="102.98" cy="38.75" r="1.45" fill="#e11b1b" stroke="none" stroke-width="1" /><circle cx="103.59" cy="39" r="1.45" fill="#e11b1b" stroke="none" stroke-width="1" /><circle cx="104.2" cy="38.31" r="1.45" fill="#e11b1b" stroke="none" stroke-width="1" /><circle cx="104.81" cy="38.94" r="1.45" fill="#e11b1b" stroke="none" stroke-width="1" /><circle cx="105.42" cy="38.54" r="1.45" fill="#e11b1b" stroke="none" stroke-width="1" /><circle cx="106.03" cy="38.95" r="1.45" fill="#e11b1b" stroke="none" stroke-width="1" /><circle cx="106.64" cy="38.2" r="1.45" fill="#e11b1b" stroke="none" stroke-width="1" /><circle cx="107.25" cy="38.31" r="1.45" fill="#e11b1b" stroke="none" stroke-width="1" /><circle cx="107.85" cy="38.42" r="1.45" fill="#e11b1b" stroke="none" stroke-width="1" /><circle cx="108.46" cy="38.63" r="1.45" fill="#e11b1b" stroke="none" stroke-width="1" /><circle cx="109.07" cy="38.65" r="1.45" fill="#e11b1b" stroke="none" stroke-width="1" /><circle cx="109.68" cy="38.79" r="1.45" fill="#e11b1b" stroke="none" stroke-width="1" /><circle cx="110.29" cy="38.59" r="1.45" fill="#e11b1b" stroke="none" stroke-width="1" /><circle cx="110.9" cy="38.66" r="1.45" fill="#e11b1b" stroke="none" stroke-width="1" /><circle cx="111.51" cy="38.62" r="1.45" fill="#e11b1b" stroke="none" stroke-width="1" /><circle cx="112.11" cy="38.94" r="1.45" fill="#e11b1b" stroke="none" stroke-width="1" /><circle cx="112.72" cy="38.2" r="1.45" fill="#e11b1b" stroke="none" stroke-width="1" /><circle cx="113.33" cy="38.76" r="1.45" fill="#e11b1b" stroke="none" stroke-width="1" /><circle cx="113.94" cy="38.42" r="1.45" fill="#e11b1b" stroke="none" stroke-width="1" /><circle cx="114.55" cy="38.47" r="1.45" fill="#e11b1b" stroke="none" stroke-width="1" /><circle cx="115.16" cy="39.21" r="1.45" fill="#e11b1b" stroke="none" stroke-width="1" /><circle cx="115.77" cy="39.5" r="1.45" fill="#e11b1b" stroke="none" stroke-width="1" /><circle cx="116.38" cy="38.53" r="1.45" fill="#e11b1b" stroke="none" stroke-width="1" /><circle cx="116.98" cy="39.09" r="1.45" fill="#e11b1b" stroke="none" stroke-width="1" /><circle cx="117.59" cy="38.95" r="1.45" fill="#e11b1b" stroke="none" stroke-width="1" /><circle cx="118.2" cy="39.08" r="1.45" fill="#e11b1b" stroke="none" stroke-width="1" /><circle cx="118.81" cy="38.96" r="1.45" fill="#e11b1b" stroke="none" stroke-width="1" /><circle cx="119.42" cy="39.41" r="1.45" fill="#e11b1b" stroke="none" stroke-width="1" /><circle cx="120.03" cy="39.07" r="1.45" fill="#e11b1b" stroke="none" stroke-width="1" /><circle cx="120.64" cy="39.2" r="1.45" fill="#e11b1b" stroke="none" stroke-width="1" /><circle cx="121.25" cy="39.07" r="1.45" fill="#e11b1b" stroke="none" stroke-width="1" /><circle cx="121.86" cy="39.85" r="1.45" fill="#e11b1b" stroke="none" stroke-width="1" /><circle cx="122.46" cy="38.82" r="1.45" fill="#e11b1b" stroke="none" stroke-width="1" /><circle cx="123.07" cy="38.99" r="1.45" fill="#e11b1b" stroke="none" stroke-width="1" /><circle cx="123.68" cy="39.69" r="1.45" fill="#e11b1b" stroke="none" stroke-width="1" /><circle cx="124.29" cy="39.37" r="1.45" fill="#e11b1b" stroke="none" stroke-width="1" /><circle cx="124.9" cy="39.13" r="1.45" fill="#e11b1b" stroke="none" stroke-width="1" /><circle cx="125.51" cy="38.95" r="1.45" fill="#e11b1b" stroke="none" stroke-width="1" /><circle cx="126.12" cy="39.17" r="1.45" fill="#e11b1b" stroke="none" stroke-width="1" /><circle cx="126.73" cy="38.73" r="1.45" fill="#e11b1b" stroke="none" stroke-width="1" /><circle cx="127.33" cy="39.19" r="1.45" fill="#e11b1b" stroke="none" stroke-width="1" /><circle cx="127.94" cy="39.54" r="1.45" fill="#e11b1b" stroke="none" stroke-width="1" /><circle cx="128.55" cy="39.45" r="1.45" fill="#e11b1b" stroke="none" stroke-width="1" /><circle cx="129.16" cy="38.99" r="1.45" fill="#e11b1b" stroke="none" stroke-width="1" /><circle cx="129.77" cy="39.46" r="1.45" fill="#e11b1b" stroke="none" stroke-width="1" /><circle cx="130.38" cy="38.99" r="1.45" fill="#e11b1b" stroke="none" stroke-width="1" /><circle cx="130.99" cy="38.94" r="1.45" fill="#e11b1b" stroke="none" stroke-width="1" /><circle cx="131.59" cy="39.1" r="1.45" fill="#e11b1b" stroke="none" stroke-width="1" /><circle cx="132.2" cy="38.97" r="1.45" fill="#e11b1b" stroke="none" stroke-width="1" /><circle cx="132.81" cy="39.38" r="1.45" fill="#e11b1b" stroke="none" stroke-width="1" /><circle cx="133.42" cy="39.34" r="1.45" fill="#e11b1b" stroke="none" stroke-width="1" /><circle cx="134.03" cy="39.55" r="1.45" fill="#e11b1b" stroke="none" stroke-width="1" /><circle cx="134.64" cy="39.57" r="1.45" fill="#e11b1b" stroke="none" stroke-width="1" /><circle cx="135.25" cy="39.9" r="1.45" fill="#e11b1b" stroke="none" stroke-width="1" /><circle cx="135.86" cy="39.58" r="1.45" fill="#e11b1b" stroke="none" stroke-width="1" /><circle cx="136.47" cy="39.76" r="1.45" fill="#e11b1b" stroke="none" stroke-width="1" /><circle cx="137.07" cy="39.89" r="1.45" fill="#e11b1b" stroke="none" stroke-width="1" /><circle cx="137.68" cy="39.39" r="1.45" fill="#e11b1b" stroke="none" stroke-width="1" /><circle cx="138.29" cy="39.3" r="1.45" fill="#e11b1b" stroke="none" stroke-width="1" /><circle cx="138.9" cy="39.57" r="1.45" fill="#e11b1b" stroke="none" stroke-width="1" /><circle cx="139.51" cy="39.03" r="1.45" fill="#e11b1b" stroke="none" stroke-width="1" /><circle cx="140.12" cy="39.18" r="1.45" fill="#e11b1b" stroke="none" stroke-width="1" /><circle cx="140.73" cy="39.17" r="1.45" fill="#e11b1b" stroke="none" stroke-width="1" /><circle cx="141.34" cy="39.73" r="1.45" fill="#e11b1b" stroke="none" stroke-width="1" /><circle cx="141.94" cy="40.04" r="1.45" fill="#e11b1b" stroke="none" stroke-width="1" /><circle cx="142.55" cy="39.38" r="1.45" fill="#e11b1b" stroke="none" stroke-width="1" /><circle cx="143.16" cy="39.48" r="1.45" fill="#e11b1b" stroke="none" stroke-width="1" /><circle cx="143.77" cy="39.36" r="1.45" fill="#e11b1b" stroke="none" stroke-width="1" /><circle cx="144.38" cy="39.48" r="1.45" fill="#e11b1b" stroke="none" stroke-width="1" /><circle cx="144.99" cy="39.22" r="1.45" fill="#e11b1b" stroke="none" stroke-width="1" /><circle cx="145.6" cy="39.75" r="1.45" fill="#e11b1b" stroke="none" stroke-width="1" /><circle cx="146.2" cy="39.45" r="1.45" fill="#e11b1b" stroke="none" stroke-width="1" /><circle cx="146.81" cy="39.98" r="1.45" fill="#e11b1b" stroke="none" stroke-width="1" /><circle cx="147.42" cy="40.47" r="1.45" fill="#e11b1b" stroke="none" stroke-width="1" /><circle cx="148.03" cy="39.87" r="1.45" fill="#e11b1b" stroke="none" stroke-width="1" /><circle cx="148.64" cy="39.24" r="1.45" fill="#e11b1b" stroke="none" stroke-width="1" /><circle cx="149.25" cy="40.31" r="1.45" fill="#e11b1b" stroke="none" stroke-width="1" /><circle cx="149.86" cy="39.44" r="1.45" fill="#e11b1b" stroke="none" stroke-width="1" /><circle cx="150.47" cy="40.01" r="1.45" fill="#e11b1b" stroke="none" stroke-width="1" /><circle cx="151.07" cy="39.94" r="1.45" fill="#e11b1b" stroke="none" stroke-width="1" /><circle cx="151.68" cy="39.81" r="1.45" fill="#e11b1b" stroke="none" stroke-width="1" /><circle cx="152.29" cy="39.77" r="1.45" fill="#e11b1b" stroke="none" stroke-width="1" /><circle cx="152.9" cy="40.18" r="1.45" fill="#e11b1b" stroke="none" stroke-width="1" /><circle cx="153.51" cy="39.83" r="1.45" fill="#e11b1b" stroke="none" stroke-width="1" /><circle cx="154.12" cy="39.75" r="1.45" fill="#e11b1b" stroke="none" stroke-width="1" /><circle cx="154.73" cy="39.63" r="1.45" fill="#e11b1b" stroke="none" stroke-width="1" /><circle cx="155.34" cy="40.18" r="1.45" fill="#e11b1b" stroke="none" stroke-width="1" /><circle cx="155.94" cy="39.43" r="1.45" fill="#e11b1b" stroke="none" stroke-width="1" /><circle cx="156.55" cy="39.33" r="1.45" fill="#e11b1b" stroke="none" stroke-width="1" /><circle cx="157.16" cy="39.18" r="1.45" fill="#e11b1b" stroke="none" stroke-width="1" /><circle cx="157.77" cy="40.44" r="1.45" fill="#e11b1b" stroke="none" stroke-width="1" /><circle cx="158.38" cy="39.96" r="1.45" fill="#e11b1b" stroke="none" stroke-width="1" />
<circle cx="41.5" cy="33.32" r="1.45" fill="#1515d8" stroke="none" stroke-width="1" /><circle cx="42.11" cy="32.66" r="1.45" fill="#1515d8" stroke="none" stroke-width="1" /><circle cx="42.72" cy="32.92" r="1.45" fill="#1515d8" stroke="none" stroke-width="1" /><circle cx="43.33" cy="34" r="1.45" fill="#1515d8" stroke="none" stroke-width="1" /><circle cx="43.94" cy="34.53" r="1.45" fill="#1515d8" stroke="none" stroke-width="1" /><circle cx="44.54" cy="34.07" r="1.45" fill="#1515d8" stroke="none" stroke-width="1" /><circle cx="45.15" cy="34.21" r="1.45" fill="#1515d8" stroke="none" stroke-width="1" /><circle cx="45.76" cy="35.17" r="1.45" fill="#1515d8" stroke="none" stroke-width="1" /><circle cx="46.37" cy="35.27" r="1.45" fill="#1515d8" stroke="none" stroke-width="1" /><circle cx="46.98" cy="36.6" r="1.45" fill="#1515d8" stroke="none" stroke-width="1" /><circle cx="47.59" cy="36.13" r="1.45" fill="#1515d8" stroke="none" stroke-width="1" /><circle cx="48.2" cy="35.91" r="1.45" fill="#1515d8" stroke="none" stroke-width="1" /><circle cx="48.8" cy="36.06" r="1.45" fill="#1515d8" stroke="none" stroke-width="1" /><circle cx="49.41" cy="35.59" r="1.45" fill="#1515d8" stroke="none" stroke-width="1" /><circle cx="50.02" cy="36.95" r="1.45" fill="#1515d8" stroke="none" stroke-width="1" /><circle cx="50.63" cy="37.6" r="1.45" fill="#1515d8" stroke="none" stroke-width="1" /><circle cx="51.24" cy="36.57" r="1.45" fill="#1515d8" stroke="none" stroke-width="1" /><circle cx="51.85" cy="37.19" r="1.45" fill="#1515d8" stroke="none" stroke-width="1" /><circle cx="52.46" cy="36.96" r="1.45" fill="#1515d8" stroke="none" stroke-width="1" /><circle cx="53.07" cy="36.92" r="1.45" fill="#1515d8" stroke="none" stroke-width="1" /><circle cx="53.67" cy="37.13" r="1.45" fill="#1515d8" stroke="none" stroke-width="1" /><circle cx="54.28" cy="36.92" r="1.45" fill="#1515d8" stroke="none" stroke-width="1" /><circle cx="54.89" cy="37.12" r="1.45" fill="#1515d8" stroke="none" stroke-width="1" /><circle cx="55.5" cy="38.61" r="1.45" fill="#1515d8" stroke="none" stroke-width="1" /><circle cx="56.11" cy="38.06" r="1.45" fill="#1515d8" stroke="none" stroke-width="1" /><circle cx="56.72" cy="37.31" r="1.45" fill="#1515d8" stroke="none" stroke-width="1" /><circle cx="57.33" cy="38.53" r="1.45" fill="#1515d8" stroke="none" stroke-width="1" /><circle cx="57.94" cy="38.08" r="1.45" fill="#1515d8" stroke="none" stroke-width="1" /><circle cx="58.55" cy="38.69" r="1.45" fill="#1515d8" stroke="none" stroke-width="1" /><circle cx="59.15" cy="39.01" r="1.45" fill="#1515d8" stroke="none" stroke-width="1" /><circle cx="59.76" cy="38.28" r="1.45" fill="#1515d8" stroke="none" stroke-width="1" /><circle cx="60.37" cy="38.68" r="1.45" fill="#1515d8" stroke="none" stroke-width="1" /><circle cx="60.98" cy="39.41" r="1.45" fill="#1515d8" stroke="none" stroke-width="1" /><circle cx="61.59" cy="39.06" r="1.45" fill="#1515d8" stroke="none" stroke-width="1" /><circle cx="62.2" cy="40.2" r="1.45" fill="#1515d8" stroke="none" stroke-width="1" /><circle cx="62.81" cy="40.1" r="1.45" fill="#1515d8" stroke="none" stroke-width="1" /><circle cx="63.41" cy="39.53" r="1.45" fill="#1515d8" stroke="none" stroke-width="1" /><circle cx="64.02" cy="40.07" r="1.45" fill="#1515d8" stroke="none" stroke-width="1" /><circle cx="64.63" cy="40.72" r="1.45" fill="#1515d8" stroke="none" stroke-width="1" /><circle cx="65.24" cy="40.21" r="1.45" fill="#1515d8" stroke="none" stroke-width="1" /><circle cx="65.85" cy="40.42" r="1.45" fill="#1515d8" stroke="none" stroke-width="1" /><circle cx="66.46" cy="40.06" r="1.45" fill="#1515d8" stroke="none" stroke-width="1" /><circle cx="67.07" cy="40.27" r="1.45" fill="#1515d8" stroke="none" stroke-width="1" /><circle cx="67.68" cy="40.87" r="1.45" fill="#1515d8" stroke="none" stroke-width="1" /><circle cx="68.28" cy="41.02" r="1.45" fill="#1515d8" stroke="none" stroke-width="1" /><circle cx="68.89" cy="40.93" r="1.45" fill="#1515d8" stroke="none" stroke-width="1" /><circle cx="69.5" cy="41.03" r="1.45" fill="#1515d8" stroke="none" stroke-width="1" /><circle cx="70.11" cy="40.35" r="1.45" fill="#1515d8" stroke="none" stroke-width="1" /><circle cx="70.72" cy="40.35" r="1.45" fill="#1515d8" stroke="none" stroke-width="1" /><circle cx="71.33" cy="40.51" r="1.45" fill="#1515d8" stroke="none" stroke-width="1" /><circle cx="71.94" cy="41.01" r="1.45" fill="#1515d8" stroke="none" stroke-width="1" /><circle cx="72.55" cy="41.34" r="1.45" fill="#1515d8" stroke="none" stroke-width="1" /><circle cx="73.16" cy="40.9" r="1.45" fill="#1515d8" stroke="none" stroke-width="1" /><circle cx="73.76" cy="41.51" r="1.45" fill="#1515d8" stroke="none" stroke-width="1" /><circle cx="74.37" cy="41.31" r="1.45" fill="#1515d8" stroke="none" stroke-width="1" /><circle cx="74.98" cy="42.21" r="1.45" fill="#1515d8" stroke="none" stroke-width="1" /><circle cx="75.59" cy="41.73" r="1.45" fill="#1515d8" stroke="none" stroke-width="1" /><circle cx="76.2" cy="40.96" r="1.45" fill="#1515d8" stroke="none" stroke-width="1" /><circle cx="76.81" cy="42.11" r="1.45" fill="#1515d8" stroke="none" stroke-width="1" /><circle cx="77.42" cy="42.38" r="1.45" fill="#1515d8" stroke="none" stroke-width="1" /><circle cx="78.03" cy="41.85" r="1.45" fill="#1515d8" stroke="none" stroke-width="1" /><circle cx="78.63" cy="41.11" r="1.45" fill="#1515d8" stroke="none" stroke-width="1" /><circle cx="79.24" cy="41.26" r="1.45" fill="#1515d8" stroke="none" stroke-width="1" /><circle cx="79.85" cy="42.12" r="1.45" fill="#1515d8" stroke="none" stroke-width="1" /><circle cx="80.46" cy="42.24" r="1.45" fill="#1515d8" stroke="none" stroke-width="1" /><circle cx="81.07" cy="42.13" r="1.45" fill="#1515d8" stroke="none" stroke-width="1" /><circle cx="81.68" cy="42.56" r="1.45" fill="#1515d8" stroke="none" stroke-width="1" /><circle cx="82.29" cy="42.19" r="1.45" fill="#1515d8" stroke="none" stroke-width="1" /><circle cx="82.9" cy="42.4" r="1.45" fill="#1515d8" stroke="none" stroke-width="1" /><circle cx="83.5" cy="42.98" r="1.45" fill="#1515d8" stroke="none" stroke-width="1" /><circle cx="84.11" cy="42.65" r="1.45" fill="#1515d8" stroke="none" stroke-width="1" /><circle cx="84.72" cy="42.56" r="1.45" fill="#1515d8" stroke="none" stroke-width="1" /><circle cx="85.33" cy="42.89" r="1.45" fill="#1515d8" stroke="none" stroke-width="1" /><circle cx="85.94" cy="43.07" r="1.45" fill="#1515d8" stroke="none" stroke-width="1" /><circle cx="86.55" cy="42.23" r="1.45" fill="#1515d8" stroke="none" stroke-width="1" /><circle cx="87.16" cy="41.86" r="1.45" fill="#1515d8" stroke="none" stroke-width="1" /><circle cx="87.77" cy="42.88" r="1.45" fill="#1515d8" stroke="none" stroke-width="1" /><circle cx="88.37" cy="43" r="1.45" fill="#1515d8" stroke="none" stroke-width="1" /><circle cx="88.98" cy="42.65" r="1.45" fill="#1515d8" stroke="none" stroke-width="1" /><circle cx="89.59" cy="43.04" r="1.45" fill="#1515d8" stroke="none" stroke-width="1" /><circle cx="90.2" cy="43.34" r="1.45" fill="#1515d8" stroke="none" stroke-width="1" /><circle cx="90.81" cy="42.47" r="1.45" fill="#1515d8" stroke="none" stroke-width="1" /><circle cx="91.42" cy="43.64" r="1.45" fill="#1515d8" stroke="none" stroke-width="1" /><circle cx="92.03" cy="43.59" r="1.45" fill="#1515d8" stroke="none" stroke-width="1" /><circle cx="92.63" cy="43.66" r="1.45" fill="#1515d8" stroke="none" stroke-width="1" /><circle cx="93.24" cy="43.84" r="1.45" fill="#1515d8" stroke="none" stroke-width="1" /><circle cx="93.85" cy="43.65" r="1.45" fill="#1515d8" stroke="none" stroke-width="1" /><circle cx="94.46" cy="43.38" r="1.45" fill="#1515d8" stroke="none" stroke-width="1" /><circle cx="95.07" cy="43.09" r="1.45" fill="#1515d8" stroke="none" stroke-width="1" /><circle cx="95.68" cy="43.53" r="1.45" fill="#1515d8" stroke="none" stroke-width="1" /><circle cx="96.29" cy="43.89" r="1.45" fill="#1515d8" stroke="none" stroke-width="1" /><circle cx="96.9" cy="44.55" r="1.45" fill="#1515d8" stroke="none" stroke-width="1" /><circle cx="97.5" cy="44.12" r="1.45" fill="#1515d8" stroke="none" stroke-width="1" /><circle cx="98.11" cy="44.6" r="1.45" fill="#1515d8" stroke="none" stroke-width="1" /><circle cx="98.72" cy="44.32" r="1.45" fill="#1515d8" stroke="none" stroke-width="1" /><circle cx="99.33" cy="43.93" r="1.45" fill="#1515d8" stroke="none" stroke-width="1" /><circle cx="99.94" cy="44.37" r="1.45" fill="#1515d8" stroke="none" stroke-width="1" /><circle cx="100.55" cy="44.64" r="1.45" fill="#1515d8" stroke="none" stroke-width="1" /><circle cx="101.16" cy="44.97" r="1.45" fill="#1515d8" stroke="none" stroke-width="1" /><circle cx="101.77" cy="44.74" r="1.45" fill="#1515d8" stroke="none" stroke-width="1" /><circle cx="102.38" cy="44.77" r="1.45" fill="#1515d8" stroke="none" stroke-width="1" /><circle cx="102.98" cy="45.32" r="1.45" fill="#1515d8" stroke="none" stroke-width="1" /><circle cx="103.59" cy="45.23" r="1.45" fill="#1515d8" stroke="none" stroke-width="1" /><circle cx="104.2" cy="44.7" r="1.45" fill="#1515d8" stroke="none" stroke-width="1" /><circle cx="104.81" cy="45.92" r="1.45" fill="#1515d8" stroke="none" stroke-width="1" /><circle cx="105.42" cy="45.47" r="1.45" fill="#1515d8" stroke="none" stroke-width="1" /><circle cx="106.03" cy="45.88" r="1.45" fill="#1515d8" stroke="none" stroke-width="1" /><circle cx="106.64" cy="44.78" r="1.45" fill="#1515d8" stroke="none" stroke-width="1" /><circle cx="107.25" cy="45.28" r="1.45" fill="#1515d8" stroke="none" stroke-width="1" /><circle cx="107.85" cy="45.41" r="1.45" fill="#1515d8" stroke="none" stroke-width="1" /><circle cx="108.46" cy="45.56" r="1.45" fill="#1515d8" stroke="none" stroke-width="1" /><circle cx="109.07" cy="45.7" r="1.45" fill="#1515d8" stroke="none" stroke-width="1" /><circle cx="109.68" cy="45.79" r="1.45" fill="#1515d8" stroke="none" stroke-width="1" /><circle cx="110.29" cy="46.71" r="1.45" fill="#1515d8" stroke="none" stroke-width="1" /><circle cx="110.9" cy="45.98" r="1.45" fill="#1515d8" stroke="none" stroke-width="1" /><circle cx="111.51" cy="45.93" r="1.45" fill="#1515d8" stroke="none" stroke-width="1" /><circle cx="112.11" cy="46.91" r="1.45" fill="#1515d8" stroke="none" stroke-width="1" /><circle cx="112.72" cy="46.01" r="1.45" fill="#1515d8" stroke="none" stroke-width="1" /><circle cx="113.33" cy="46.17" r="1.45" fill="#1515d8" stroke="none" stroke-width="1" /><circle cx="113.94" cy="47.23" r="1.45" fill="#1515d8" stroke="none" stroke-width="1" /><circle cx="114.55" cy="46.85" r="1.45" fill="#1515d8" stroke="none" stroke-width="1" /><circle cx="115.16" cy="46.91" r="1.45" fill="#1515d8" stroke="none" stroke-width="1" /><circle cx="115.77" cy="47.14" r="1.45" fill="#1515d8" stroke="none" stroke-width="1" /><circle cx="116.38" cy="46.86" r="1.45" fill="#1515d8" stroke="none" stroke-width="1" /><circle cx="116.98" cy="47.73" r="1.45" fill="#1515d8" stroke="none" stroke-width="1" /><circle cx="117.59" cy="47.4" r="1.45" fill="#1515d8" stroke="none" stroke-width="1" /><circle cx="118.2" cy="47.33" r="1.45" fill="#1515d8" stroke="none" stroke-width="1" /><circle cx="118.81" cy="47.24" r="1.45" fill="#1515d8" stroke="none" stroke-width="1" /><circle cx="119.42" cy="47.67" r="1.45" fill="#1515d8" stroke="none" stroke-width="1" /><circle cx="120.03" cy="47.93" r="1.45" fill="#1515d8" stroke="none" stroke-width="1" /><circle cx="120.64" cy="47.65" r="1.45" fill="#1515d8" stroke="none" stroke-width="1" /><circle cx="121.25" cy="48.97" r="1.45" fill="#1515d8" stroke="none" stroke-width="1" /><circle cx="121.86" cy="47.81" r="1.45" fill="#1515d8" stroke="none" stroke-width="1" /><circle cx="122.46" cy="48.49" r="1.45" fill="#1515d8" stroke="none" stroke-width="1" /><circle cx="123.07" cy="49.03" r="1.45" fill="#1515d8" stroke="none" stroke-width="1" /><circle cx="123.68" cy="48.8" r="1.45" fill="#1515d8" stroke="none" stroke-width="1" /><circle cx="124.29" cy="49.55" r="1.45" fill="#1515d8" stroke="none" stroke-width="1" /><circle cx="124.9" cy="49.61" r="1.45" fill="#1515d8" stroke="none" stroke-width="1" /><circle cx="125.51" cy="48.81" r="1.45" fill="#1515d8" stroke="none" stroke-width="1" /><circle cx="126.12" cy="48.96" r="1.45" fill="#1515d8" stroke="none" stroke-width="1" /><circle cx="126.73" cy="48.25" r="1.45" fill="#1515d8" stroke="none" stroke-width="1" /><circle cx="127.33" cy="48.93" r="1.45" fill="#1515d8" stroke="none" stroke-width="1" /><circle cx="127.94" cy="49.07" r="1.45" fill="#1515d8" stroke="none" stroke-width="1" /><circle cx="128.55" cy="48.88" r="1.45" fill="#1515d8" stroke="none" stroke-width="1" /><circle cx="129.16" cy="47.65" r="1.45" fill="#1515d8" stroke="none" stroke-width="1" /><circle cx="129.77" cy="48.36" r="1.45" fill="#1515d8" stroke="none" stroke-width="1" /><circle cx="130.38" cy="48.6" r="1.45" fill="#1515d8" stroke="none" stroke-width="1" /><circle cx="130.99" cy="48.73" r="1.45" fill="#1515d8" stroke="none" stroke-width="1" /><circle cx="131.59" cy="48.73" r="1.45" fill="#1515d8" stroke="none" stroke-width="1" /><circle cx="132.2" cy="48.28" r="1.45" fill="#1515d8" stroke="none" stroke-width="1" /><circle cx="132.81" cy="47.97" r="1.45" fill="#1515d8" stroke="none" stroke-width="1" /><circle cx="133.42" cy="47.61" r="1.45" fill="#1515d8" stroke="none" stroke-width="1" /><circle cx="134.03" cy="47.57" r="1.45" fill="#1515d8" stroke="none" stroke-width="1" /><circle cx="134.64" cy="47.92" r="1.45" fill="#1515d8" stroke="none" stroke-width="1" /><circle cx="135.25" cy="48.29" r="1.45" fill="#1515d8" stroke="none" stroke-width="1" /><circle cx="135.86" cy="48.34" r="1.45" fill="#1515d8" stroke="none" stroke-width="1" /><circle cx="136.47" cy="48.94" r="1.45" fill="#1515d8" stroke="none" stroke-width="1" /><circle cx="137.07" cy="48.32" r="1.45" fill="#1515d8" stroke="none" stroke-width="1" /><circle cx="137.68" cy="47.65" r="1.45" fill="#1515d8" stroke="none" stroke-width="1" /><circle cx="138.29" cy="47.94" r="1.45" fill="#1515d8" stroke="none" stroke-width="1" /><circle cx="138.9" cy="47.59" r="1.45" fill="#1515d8" stroke="none" stroke-width="1" /><circle cx="139.51" cy="48.34" r="1.45" fill="#1515d8" stroke="none" stroke-width="1" /><circle cx="140.12" cy="47.34" r="1.45" fill="#1515d8" stroke="none" stroke-width="1" /><circle cx="140.73" cy="47.6" r="1.45" fill="#1515d8" stroke="none" stroke-width="1" /><circle cx="141.34" cy="47.7" r="1.45" fill="#1515d8" stroke="none" stroke-width="1" /><circle cx="141.94" cy="47.54" r="1.45" fill="#1515d8" stroke="none" stroke-width="1" /><circle cx="142.55" cy="48.7" r="1.45" fill="#1515d8" stroke="none" stroke-width="1" /><circle cx="143.16" cy="47.95" r="1.45" fill="#1515d8" stroke="none" stroke-width="1" /><circle cx="143.77" cy="48.09" r="1.45" fill="#1515d8" stroke="none" stroke-width="1" /><circle cx="144.38" cy="46.89" r="1.45" fill="#1515d8" stroke="none" stroke-width="1" /><circle cx="144.99" cy="47.76" r="1.45" fill="#1515d8" stroke="none" stroke-width="1" /><circle cx="145.6" cy="47.9" r="1.45" fill="#1515d8" stroke="none" stroke-width="1" /><circle cx="146.2" cy="47.29" r="1.45" fill="#1515d8" stroke="none" stroke-width="1" /><circle cx="146.81" cy="48.13" r="1.45" fill="#1515d8" stroke="none" stroke-width="1" /><circle cx="147.42" cy="47.02" r="1.45" fill="#1515d8" stroke="none" stroke-width="1" /><circle cx="148.03" cy="47.96" r="1.45" fill="#1515d8" stroke="none" stroke-width="1" /><circle cx="148.64" cy="47.66" r="1.45" fill="#1515d8" stroke="none" stroke-width="1" /><circle cx="149.25" cy="48.04" r="1.45" fill="#1515d8" stroke="none" stroke-width="1" /><circle cx="149.86" cy="47.27" r="1.45" fill="#1515d8" stroke="none" stroke-width="1" /><circle cx="150.47" cy="48.58" r="1.45" fill="#1515d8" stroke="none" stroke-width="1" /><circle cx="151.07" cy="47.31" r="1.45" fill="#1515d8" stroke="none" stroke-width="1" /><circle cx="151.68" cy="47.97" r="1.45" fill="#1515d8" stroke="none" stroke-width="1" /><circle cx="152.29" cy="47.58" r="1.45" fill="#1515d8" stroke="none" stroke-width="1" /><circle cx="152.9" cy="48.1" r="1.45" fill="#1515d8" stroke="none" stroke-width="1" /><circle cx="153.51" cy="47.48" r="1.45" fill="#1515d8" stroke="none" stroke-width="1" /><circle cx="154.12" cy="47.49" r="1.45" fill="#1515d8" stroke="none" stroke-width="1" /><circle cx="154.73" cy="47.31" r="1.45" fill="#1515d8" stroke="none" stroke-width="1" /><circle cx="155.34" cy="47.42" r="1.45" fill="#1515d8" stroke="none" stroke-width="1" /><circle cx="155.94" cy="47.28" r="1.45" fill="#1515d8" stroke="none" stroke-width="1" /><circle cx="156.55" cy="47.11" r="1.45" fill="#1515d8" stroke="none" stroke-width="1" /><circle cx="157.16" cy="47.71" r="1.45" fill="#1515d8" stroke="none" stroke-width="1" /><circle cx="157.77" cy="48.06" r="1.45" fill="#1515d8" stroke="none" stroke-width="1" /><circle cx="158.38" cy="48.09" r="1.45" fill="#1515d8" stroke="none" stroke-width="1" />
<circle cx="41.5" cy="32.2" r="1.45" fill="#f020e8" stroke="none" stroke-width="1" /><circle cx="42.11" cy="33.08" r="1.45" fill="#f020e8" stroke="none" stroke-width="1" /><circle cx="42.72" cy="32.85" r="1.45" fill="#f020e8" stroke="none" stroke-width="1" /><circle cx="43.33" cy="33.71" r="1.45" fill="#f020e8" stroke="none" stroke-width="1" /><circle cx="43.94" cy="34.58" r="1.45" fill="#f020e8" stroke="none" stroke-width="1" /><circle cx="44.54" cy="34.14" r="1.45" fill="#f020e8" stroke="none" stroke-width="1" /><circle cx="45.15" cy="34.09" r="1.45" fill="#f020e8" stroke="none" stroke-width="1" /><circle cx="45.76" cy="35.44" r="1.45" fill="#f020e8" stroke="none" stroke-width="1" /><circle cx="46.37" cy="36.19" r="1.45" fill="#f020e8" stroke="none" stroke-width="1" /><circle cx="46.98" cy="36.55" r="1.45" fill="#f020e8" stroke="none" stroke-width="1" /><circle cx="47.59" cy="36.2" r="1.45" fill="#f020e8" stroke="none" stroke-width="1" /><circle cx="48.2" cy="37.01" r="1.45" fill="#f020e8" stroke="none" stroke-width="1" /><circle cx="48.8" cy="37.08" r="1.45" fill="#f020e8" stroke="none" stroke-width="1" /><circle cx="49.41" cy="36.76" r="1.45" fill="#f020e8" stroke="none" stroke-width="1" /><circle cx="50.02" cy="37.22" r="1.45" fill="#f020e8" stroke="none" stroke-width="1" /><circle cx="50.63" cy="37.33" r="1.45" fill="#f020e8" stroke="none" stroke-width="1" /><circle cx="51.24" cy="37.78" r="1.45" fill="#f020e8" stroke="none" stroke-width="1" /><circle cx="51.85" cy="37.98" r="1.45" fill="#f020e8" stroke="none" stroke-width="1" /><circle cx="52.46" cy="37.78" r="1.45" fill="#f020e8" stroke="none" stroke-width="1" /><circle cx="53.07" cy="37.95" r="1.45" fill="#f020e8" stroke="none" stroke-width="1" /><circle cx="53.67" cy="37.91" r="1.45" fill="#f020e8" stroke="none" stroke-width="1" /><circle cx="54.28" cy="38.55" r="1.45" fill="#f020e8" stroke="none" stroke-width="1" /><circle cx="54.89" cy="38.34" r="1.45" fill="#f020e8" stroke="none" stroke-width="1" /><circle cx="55.5" cy="38.44" r="1.45" fill="#f020e8" stroke="none" stroke-width="1" /><circle cx="56.11" cy="38.77" r="1.45" fill="#f020e8" stroke="none" stroke-width="1" /><circle cx="56.72" cy="38.71" r="1.45" fill="#f020e8" stroke="none" stroke-width="1" /><circle cx="57.33" cy="38.68" r="1.45" fill="#f020e8" stroke="none" stroke-width="1" /><circle cx="57.94" cy="39.19" r="1.45" fill="#f020e8" stroke="none" stroke-width="1" /><circle cx="58.55" cy="39.4" r="1.45" fill="#f020e8" stroke="none" stroke-width="1" /><circle cx="59.15" cy="40.03" r="1.45" fill="#f020e8" stroke="none" stroke-width="1" /><circle cx="59.76" cy="39.61" r="1.45" fill="#f020e8" stroke="none" stroke-width="1" /><circle cx="60.37" cy="39.96" r="1.45" fill="#f020e8" stroke="none" stroke-width="1" /><circle cx="60.98" cy="40.21" r="1.45" fill="#f020e8" stroke="none" stroke-width="1" /><circle cx="61.59" cy="40.6" r="1.45" fill="#f020e8" stroke="none" stroke-width="1" /><circle cx="62.2" cy="40.14" r="1.45" fill="#f020e8" stroke="none" stroke-width="1" /><circle cx="62.81" cy="39.42" r="1.45" fill="#f020e8" stroke="none" stroke-width="1" /><circle cx="63.41" cy="40.52" r="1.45" fill="#f020e8" stroke="none" stroke-width="1" /><circle cx="64.02" cy="40.83" r="1.45" fill="#f020e8" stroke="none" stroke-width="1" /><circle cx="64.63" cy="40.83" r="1.45" fill="#f020e8" stroke="none" stroke-width="1" /><circle cx="65.24" cy="41.44" r="1.45" fill="#f020e8" stroke="none" stroke-width="1" /><circle cx="65.85" cy="41.3" r="1.45" fill="#f020e8" stroke="none" stroke-width="1" /><circle cx="66.46" cy="41.71" r="1.45" fill="#f020e8" stroke="none" stroke-width="1" /><circle cx="67.07" cy="41.78" r="1.45" fill="#f020e8" stroke="none" stroke-width="1" /><circle cx="67.68" cy="41.47" r="1.45" fill="#f020e8" stroke="none" stroke-width="1" /><circle cx="68.28" cy="41.55" r="1.45" fill="#f020e8" stroke="none" stroke-width="1" /><circle cx="68.89" cy="41.78" r="1.45" fill="#f020e8" stroke="none" stroke-width="1" /><circle cx="69.5" cy="42.16" r="1.45" fill="#f020e8" stroke="none" stroke-width="1" /><circle cx="70.11" cy="41.76" r="1.45" fill="#f020e8" stroke="none" stroke-width="1" /><circle cx="70.72" cy="42.44" r="1.45" fill="#f020e8" stroke="none" stroke-width="1" /><circle cx="71.33" cy="41.7" r="1.45" fill="#f020e8" stroke="none" stroke-width="1" /><circle cx="71.94" cy="42.27" r="1.45" fill="#f020e8" stroke="none" stroke-width="1" /><circle cx="72.55" cy="42.19" r="1.45" fill="#f020e8" stroke="none" stroke-width="1" /><circle cx="73.16" cy="41.92" r="1.45" fill="#f020e8" stroke="none" stroke-width="1" /><circle cx="73.76" cy="42.1" r="1.45" fill="#f020e8" stroke="none" stroke-width="1" /><circle cx="74.37" cy="42.99" r="1.45" fill="#f020e8" stroke="none" stroke-width="1" /><circle cx="74.98" cy="42.61" r="1.45" fill="#f020e8" stroke="none" stroke-width="1" /><circle cx="75.59" cy="42.42" r="1.45" fill="#f020e8" stroke="none" stroke-width="1" /><circle cx="76.2" cy="43.14" r="1.45" fill="#f020e8" stroke="none" stroke-width="1" /><circle cx="76.81" cy="43.8" r="1.45" fill="#f020e8" stroke="none" stroke-width="1" /><circle cx="77.42" cy="42.84" r="1.45" fill="#f020e8" stroke="none" stroke-width="1" /><circle cx="78.03" cy="42.91" r="1.45" fill="#f020e8" stroke="none" stroke-width="1" /><circle cx="78.63" cy="42.78" r="1.45" fill="#f020e8" stroke="none" stroke-width="1" /><circle cx="79.24" cy="43.01" r="1.45" fill="#f020e8" stroke="none" stroke-width="1" /><circle cx="79.85" cy="43.06" r="1.45" fill="#f020e8" stroke="none" stroke-width="1" /><circle cx="80.46" cy="43.09" r="1.45" fill="#f020e8" stroke="none" stroke-width="1" /><circle cx="81.07" cy="42.67" r="1.45" fill="#f020e8" stroke="none" stroke-width="1" /><circle cx="81.68" cy="43.14" r="1.45" fill="#f020e8" stroke="none" stroke-width="1" /><circle cx="82.29" cy="43.19" r="1.45" fill="#f020e8" stroke="none" stroke-width="1" /><circle cx="82.9" cy="43.68" r="1.45" fill="#f020e8" stroke="none" stroke-width="1" /><circle cx="83.5" cy="43.09" r="1.45" fill="#f020e8" stroke="none" stroke-width="1" /><circle cx="84.11" cy="43.74" r="1.45" fill="#f020e8" stroke="none" stroke-width="1" /><circle cx="84.72" cy="43.41" r="1.45" fill="#f020e8" stroke="none" stroke-width="1" /><circle cx="85.33" cy="44.75" r="1.45" fill="#f020e8" stroke="none" stroke-width="1" /><circle cx="85.94" cy="43.78" r="1.45" fill="#f020e8" stroke="none" stroke-width="1" /><circle cx="86.55" cy="44.01" r="1.45" fill="#f020e8" stroke="none" stroke-width="1" /><circle cx="87.16" cy="44.25" r="1.45" fill="#f020e8" stroke="none" stroke-width="1" /><circle cx="87.77" cy="43.56" r="1.45" fill="#f020e8" stroke="none" stroke-width="1" /><circle cx="88.37" cy="44.02" r="1.45" fill="#f020e8" stroke="none" stroke-width="1" /><circle cx="88.98" cy="44.34" r="1.45" fill="#f020e8" stroke="none" stroke-width="1" /><circle cx="89.59" cy="44.59" r="1.45" fill="#f020e8" stroke="none" stroke-width="1" /><circle cx="90.2" cy="43.61" r="1.45" fill="#f020e8" stroke="none" stroke-width="1" /><circle cx="90.81" cy="44.23" r="1.45" fill="#f020e8" stroke="none" stroke-width="1" /><circle cx="91.42" cy="44.4" r="1.45" fill="#f020e8" stroke="none" stroke-width="1" /><circle cx="92.03" cy="45.15" r="1.45" fill="#f020e8" stroke="none" stroke-width="1" /><circle cx="92.63" cy="44.37" r="1.45" fill="#f020e8" stroke="none" stroke-width="1" /><circle cx="93.24" cy="44.82" r="1.45" fill="#f020e8" stroke="none" stroke-width="1" /><circle cx="93.85" cy="45.32" r="1.45" fill="#f020e8" stroke="none" stroke-width="1" /><circle cx="94.46" cy="45.37" r="1.45" fill="#f020e8" stroke="none" stroke-width="1" /><circle cx="95.07" cy="46.17" r="1.45" fill="#f020e8" stroke="none" stroke-width="1" /><circle cx="95.68" cy="45.29" r="1.45" fill="#f020e8" stroke="none" stroke-width="1" /><circle cx="96.29" cy="46.19" r="1.45" fill="#f020e8" stroke="none" stroke-width="1" /><circle cx="96.9" cy="45.46" r="1.45" fill="#f020e8" stroke="none" stroke-width="1" /><circle cx="97.5" cy="46.15" r="1.45" fill="#f020e8" stroke="none" stroke-width="1" /><circle cx="98.11" cy="46.36" r="1.45" fill="#f020e8" stroke="none" stroke-width="1" /><circle cx="98.72" cy="46.05" r="1.45" fill="#f020e8" stroke="none" stroke-width="1" /><circle cx="99.33" cy="46.25" r="1.45" fill="#f020e8" stroke="none" stroke-width="1" /><circle cx="99.94" cy="46.96" r="1.45" fill="#f020e8" stroke="none" stroke-width="1" /><circle cx="100.55" cy="46.63" r="1.45" fill="#f020e8" stroke="none" stroke-width="1" /><circle cx="101.16" cy="46.45" r="1.45" fill="#f020e8" stroke="none" stroke-width="1" /><circle cx="101.77" cy="46.96" r="1.45" fill="#f020e8" stroke="none" stroke-width="1" /><circle cx="102.38" cy="47.57" r="1.45" fill="#f020e8" stroke="none" stroke-width="1" /><circle cx="102.98" cy="47.21" r="1.45" fill="#f020e8" stroke="none" stroke-width="1" /><circle cx="103.59" cy="47.65" r="1.45" fill="#f020e8" stroke="none" stroke-width="1" /><circle cx="104.2" cy="47.61" r="1.45" fill="#f020e8" stroke="none" stroke-width="1" /><circle cx="104.81" cy="47.46" r="1.45" fill="#f020e8" stroke="none" stroke-width="1" /><circle cx="105.42" cy="47.63" r="1.45" fill="#f020e8" stroke="none" stroke-width="1" /><circle cx="106.03" cy="47.83" r="1.45" fill="#f020e8" stroke="none" stroke-width="1" /><circle cx="106.64" cy="48.59" r="1.45" fill="#f020e8" stroke="none" stroke-width="1" /><circle cx="107.25" cy="47.84" r="1.45" fill="#f020e8" stroke="none" stroke-width="1" /><circle cx="107.85" cy="48.21" r="1.45" fill="#f020e8" stroke="none" stroke-width="1" /><circle cx="108.46" cy="48.43" r="1.45" fill="#f020e8" stroke="none" stroke-width="1" /><circle cx="109.07" cy="48.3" r="1.45" fill="#f020e8" stroke="none" stroke-width="1" /><circle cx="109.68" cy="47.65" r="1.45" fill="#f020e8" stroke="none" stroke-width="1" /><circle cx="110.29" cy="49.2" r="1.45" fill="#f020e8" stroke="none" stroke-width="1" /><circle cx="110.9" cy="49.46" r="1.45" fill="#f020e8" stroke="none" stroke-width="1" /><circle cx="111.51" cy="48.55" r="1.45" fill="#f020e8" stroke="none" stroke-width="1" /><circle cx="112.11" cy="49.36" r="1.45" fill="#f020e8" stroke="none" stroke-width="1" /><circle cx="112.72" cy="48.56" r="1.45" fill="#f020e8" stroke="none" stroke-width="1" /><circle cx="113.33" cy="49.7" r="1.45" fill="#f020e8" stroke="none" stroke-width="1" /><circle cx="113.94" cy="49.6" r="1.45" fill="#f020e8" stroke="none" stroke-width="1" /><circle cx="114.55" cy="49.15" r="1.45" fill="#f020e8" stroke="none" stroke-width="1" /><circle cx="115.16" cy="49.25" r="1.45" fill="#f020e8" stroke="none" stroke-width="1" /><circle cx="115.77" cy="49.6" r="1.45" fill="#f020e8" stroke="none" stroke-width="1" /><circle cx="116.38" cy="49.73" r="1.45" fill="#f020e8" stroke="none" stroke-width="1" /><circle cx="116.98" cy="50.13" r="1.45" fill="#f020e8" stroke="none" stroke-width="1" /><circle cx="117.59" cy="50.4" r="1.45" fill="#f020e8" stroke="none" stroke-width="1" /><circle cx="118.2" cy="50.44" r="1.45" fill="#f020e8" stroke="none" stroke-width="1" /><circle cx="118.81" cy="49.93" r="1.45" fill="#f020e8" stroke="none" stroke-width="1" /><circle cx="119.42" cy="50.31" r="1.45" fill="#f020e8" stroke="none" stroke-width="1" /><circle cx="120.03" cy="50.75" r="1.45" fill="#f020e8" stroke="none" stroke-width="1" /><circle cx="120.64" cy="50.76" r="1.45" fill="#f020e8" stroke="none" stroke-width="1" /><circle cx="121.25" cy="50.67" r="1.45" fill="#f020e8" stroke="none" stroke-width="1" /><circle cx="121.86" cy="50.65" r="1.45" fill="#f020e8" stroke="none" stroke-width="1" /><circle cx="122.46" cy="51.37" r="1.45" fill="#f020e8" stroke="none" stroke-width="1" /><circle cx="123.07" cy="51.49" r="1.45" fill="#f020e8" stroke="none" stroke-width="1" /><circle cx="123.68" cy="51.44" r="1.45" fill="#f020e8" stroke="none" stroke-width="1" /><circle cx="124.29" cy="50.58" r="1.45" fill="#f020e8" stroke="none" stroke-width="1" /><circle cx="124.9" cy="51.56" r="1.45" fill="#f020e8" stroke="none" stroke-width="1" /><circle cx="125.51" cy="51.04" r="1.45" fill="#f020e8" stroke="none" stroke-width="1" /><circle cx="126.12" cy="52.21" r="1.45" fill="#f020e8" stroke="none" stroke-width="1" /><circle cx="126.73" cy="51.1" r="1.45" fill="#f020e8" stroke="none" stroke-width="1" /><circle cx="127.33" cy="52.02" r="1.45" fill="#f020e8" stroke="none" stroke-width="1" /><circle cx="127.94" cy="51.82" r="1.45" fill="#f020e8" stroke="none" stroke-width="1" /><circle cx="128.55" cy="51.55" r="1.45" fill="#f020e8" stroke="none" stroke-width="1" /><circle cx="129.16" cy="51.27" r="1.45" fill="#f020e8" stroke="none" stroke-width="1" /><circle cx="129.77" cy="51.07" r="1.45" fill="#f020e8" stroke="none" stroke-width="1" /><circle cx="130.38" cy="50.92" r="1.45" fill="#f020e8" stroke="none" stroke-width="1" /><circle cx="130.99" cy="50.92" r="1.45" fill="#f020e8" stroke="none" stroke-width="1" /><circle cx="131.59" cy="51.15" r="1.45" fill="#f020e8" stroke="none" stroke-width="1" /><circle cx="132.2" cy="49.75" r="1.45" fill="#f020e8" stroke="none" stroke-width="1" /><circle cx="132.81" cy="50.65" r="1.45" fill="#f020e8" stroke="none" stroke-width="1" /><circle cx="133.42" cy="50.47" r="1.45" fill="#f020e8" stroke="none" stroke-width="1" /><circle cx="134.03" cy="49.81" r="1.45" fill="#f020e8" stroke="none" stroke-width="1" /><circle cx="134.64" cy="50.21" r="1.45" fill="#f020e8" stroke="none" stroke-width="1" /><circle cx="135.25" cy="50.31" r="1.45" fill="#f020e8" stroke="none" stroke-width="1" /><circle cx="135.86" cy="50.36" r="1.45" fill="#f020e8" stroke="none" stroke-width="1" /><circle cx="136.47" cy="49.62" r="1.45" fill="#f020e8" stroke="none" stroke-width="1" /><circle cx="137.07" cy="50.85" r="1.45" fill="#f020e8" stroke="none" stroke-width="1" /><circle cx="137.68" cy="50.73" r="1.45" fill="#f020e8" stroke="none" stroke-width="1" /><circle cx="138.29" cy="50.18" r="1.45" fill="#f020e8" stroke="none" stroke-width="1" /><circle cx="138.9" cy="51.07" r="1.45" fill="#f020e8" stroke="none" stroke-width="1" /><circle cx="139.51" cy="50.55" r="1.45" fill="#f020e8" stroke="none" stroke-width="1" /><circle cx="140.12" cy="49.73" r="1.45" fill="#f020e8" stroke="none" stroke-width="1" /><circle cx="140.73" cy="50.45" r="1.45" fill="#f020e8" stroke="none" stroke-width="1" /><circle cx="141.34" cy="50.2" r="1.45" fill="#f020e8" stroke="none" stroke-width="1" /><circle cx="141.94" cy="50" r="1.45" fill="#f020e8" stroke="none" stroke-width="1" /><circle cx="142.55" cy="50.84" r="1.45" fill="#f020e8" stroke="none" stroke-width="1" /><circle cx="143.16" cy="50.23" r="1.45" fill="#f020e8" stroke="none" stroke-width="1" /><circle cx="143.77" cy="50.65" r="1.45" fill="#f020e8" stroke="none" stroke-width="1" /><circle cx="144.38" cy="50.88" r="1.45" fill="#f020e8" stroke="none" stroke-width="1" /><circle cx="144.99" cy="50.54" r="1.45" fill="#f020e8" stroke="none" stroke-width="1" /><circle cx="145.6" cy="50.47" r="1.45" fill="#f020e8" stroke="none" stroke-width="1" /><circle cx="146.2" cy="50.65" r="1.45" fill="#f020e8" stroke="none" stroke-width="1" /><circle cx="146.81" cy="50.78" r="1.45" fill="#f020e8" stroke="none" stroke-width="1" /><circle cx="147.42" cy="50.1" r="1.45" fill="#f020e8" stroke="none" stroke-width="1" /><circle cx="148.03" cy="50.04" r="1.45" fill="#f020e8" stroke="none" stroke-width="1" /><circle cx="148.64" cy="50.32" r="1.45" fill="#f020e8" stroke="none" stroke-width="1" /><circle cx="149.25" cy="50.63" r="1.45" fill="#f020e8" stroke="none" stroke-width="1" /><circle cx="149.86" cy="51.08" r="1.45" fill="#f020e8" stroke="none" stroke-width="1" /><circle cx="150.47" cy="51" r="1.45" fill="#f020e8" stroke="none" stroke-width="1" /><circle cx="151.07" cy="51.15" r="1.45" fill="#f020e8" stroke="none" stroke-width="1" /><circle cx="151.68" cy="50.6" r="1.45" fill="#f020e8" stroke="none" stroke-width="1" /><circle cx="152.29" cy="50.31" r="1.45" fill="#f020e8" stroke="none" stroke-width="1" /><circle cx="152.9" cy="50.34" r="1.45" fill="#f020e8" stroke="none" stroke-width="1" /><circle cx="153.51" cy="50.77" r="1.45" fill="#f020e8" stroke="none" stroke-width="1" /><circle cx="154.12" cy="50.95" r="1.45" fill="#f020e8" stroke="none" stroke-width="1" /><circle cx="154.73" cy="50.73" r="1.45" fill="#f020e8" stroke="none" stroke-width="1" /><circle cx="155.34" cy="50.78" r="1.45" fill="#f020e8" stroke="none" stroke-width="1" /><circle cx="155.94" cy="50.6" r="1.45" fill="#f020e8" stroke="none" stroke-width="1" /><circle cx="156.55" cy="50.24" r="1.45" fill="#f020e8" stroke="none" stroke-width="1" /><circle cx="157.16" cy="51.2" r="1.45" fill="#f020e8" stroke="none" stroke-width="1" /><circle cx="157.77" cy="50.01" r="1.45" fill="#f020e8" stroke="none" stroke-width="1" /><circle cx="158.38" cy="51.87" r="1.45" fill="#f020e8" stroke="none" stroke-width="1" />
<circle cx="164" cy="60.4" r="1.9" fill="#e11b1b" stroke="none" stroke-width="1" /><circle cx="160" cy="67.6" r="1.9" fill="#e11b1b" stroke="none" stroke-width="1" /><circle cx="165" cy="67" r="1.9" fill="#e11b1b" stroke="none" stroke-width="1" /><circle cx="162" cy="72.4" r="1.9" fill="#e11b1b" stroke="none" stroke-width="1" /><circle cx="167" cy="73.6" r="1.9" fill="#e11b1b" stroke="none" stroke-width="1" /><circle cx="170" cy="72" r="1.9" fill="#e11b1b" stroke="none" stroke-width="1" /><circle cx="169" cy="76" r="1.9" fill="#e11b1b" stroke="none" stroke-width="1" /><circle cx="174" cy="79" r="1.9" fill="#e11b1b" stroke="none" stroke-width="1" /><circle cx="177" cy="81" r="1.9" fill="#e11b1b" stroke="none" stroke-width="1" /><circle cx="175" cy="81.6" r="1.9" fill="#e11b1b" stroke="none" stroke-width="1" /><circle cx="180" cy="72" r="1.9" fill="#e11b1b" stroke="none" stroke-width="1" /><circle cx="182" cy="69" r="1.9" fill="#e11b1b" stroke="none" stroke-width="1" /><circle cx="184" cy="65" r="1.9" fill="#e11b1b" stroke="none" stroke-width="1" /><circle cx="188" cy="68.4" r="1.9" fill="#e11b1b" stroke="none" stroke-width="1" /><circle cx="190" cy="63" r="1.9" fill="#e11b1b" stroke="none" stroke-width="1" /><circle cx="183" cy="77" r="1.9" fill="#e11b1b" stroke="none" stroke-width="1" /><circle cx="186" cy="74.4" r="1.9" fill="#e11b1b" stroke="none" stroke-width="1" /><circle cx="195" cy="82" r="1.9" fill="#e11b1b" stroke="none" stroke-width="1" /><circle cx="193" cy="86" r="1.9" fill="#e11b1b" stroke="none" stroke-width="1" /><circle cx="197" cy="90" r="1.9" fill="#e11b1b" stroke="none" stroke-width="1" /><circle cx="171" cy="75" r="1.9" fill="#e11b1b" stroke="none" stroke-width="1" /><circle cx="179" cy="78" r="1.9" fill="#e11b1b" stroke="none" stroke-width="1" />
<circle cx="159" cy="87.6" r="1.9" fill="#1515d8" stroke="none" stroke-width="1" /><circle cx="163" cy="87.6" r="1.9" fill="#1515d8" stroke="none" stroke-width="1" /><circle cx="160" cy="93" r="1.9" fill="#1515d8" stroke="none" stroke-width="1" /><circle cx="165" cy="92" r="1.9" fill="#1515d8" stroke="none" stroke-width="1" /><circle cx="162" cy="96" r="1.9" fill="#1515d8" stroke="none" stroke-width="1" /><circle cx="168" cy="94" r="1.9" fill="#1515d8" stroke="none" stroke-width="1" /><circle cx="170" cy="95" r="1.9" fill="#1515d8" stroke="none" stroke-width="1" /><circle cx="173" cy="95.6" r="1.9" fill="#1515d8" stroke="none" stroke-width="1" /><circle cx="176" cy="96.4" r="1.9" fill="#1515d8" stroke="none" stroke-width="1" /><circle cx="179" cy="94.4" r="1.9" fill="#1515d8" stroke="none" stroke-width="1" /><circle cx="182" cy="92.4" r="1.9" fill="#1515d8" stroke="none" stroke-width="1" /><circle cx="184" cy="95" r="1.9" fill="#1515d8" stroke="none" stroke-width="1" /><circle cx="187" cy="91" r="1.9" fill="#1515d8" stroke="none" stroke-width="1" /><circle cx="189" cy="93" r="1.9" fill="#1515d8" stroke="none" stroke-width="1" /><circle cx="192" cy="96" r="1.9" fill="#1515d8" stroke="none" stroke-width="1" /><circle cx="195" cy="96.4" r="1.9" fill="#1515d8" stroke="none" stroke-width="1" /><circle cx="197" cy="97.6" r="1.9" fill="#1515d8" stroke="none" stroke-width="1" /><circle cx="193" cy="94" r="1.9" fill="#1515d8" stroke="none" stroke-width="1" /><circle cx="166" cy="95" r="1.9" fill="#1515d8" stroke="none" stroke-width="1" /><circle cx="181" cy="95.6" r="1.9" fill="#1515d8" stroke="none" stroke-width="1" />
<circle cx="158.6" cy="115.6" r="1.9" fill="#111" stroke="none" stroke-width="1" /><circle cx="160" cy="125" r="1.9" fill="#111" stroke="none" stroke-width="1" /><circle cx="163" cy="125.6" r="1.9" fill="#111" stroke="none" stroke-width="1" /><circle cx="165" cy="124.4" r="1.9" fill="#111" stroke="none" stroke-width="1" /><circle cx="166" cy="128" r="1.9" fill="#111" stroke="none" stroke-width="1" /><circle cx="169" cy="129" r="1.9" fill="#111" stroke="none" stroke-width="1" /><circle cx="171" cy="131" r="1.9" fill="#111" stroke="none" stroke-width="1" /><circle cx="173" cy="130" r="1.9" fill="#111" stroke="none" stroke-width="1" /><circle cx="175" cy="132.4" r="1.9" fill="#111" stroke="none" stroke-width="1" /><circle cx="178" cy="130" r="1.9" fill="#111" stroke="none" stroke-width="1" /><circle cx="181" cy="128" r="1.9" fill="#111" stroke="none" stroke-width="1" /><circle cx="183" cy="130" r="1.9" fill="#111" stroke="none" stroke-width="1" /><circle cx="185" cy="122" r="1.9" fill="#111" stroke="none" stroke-width="1" /><circle cx="188" cy="121" r="1.9" fill="#111" stroke="none" stroke-width="1" /><circle cx="191" cy="122.4" r="1.9" fill="#111" stroke="none" stroke-width="1" /><circle cx="186" cy="129" r="1.9" fill="#111" stroke="none" stroke-width="1" /><circle cx="193" cy="133" r="1.9" fill="#111" stroke="none" stroke-width="1" /><circle cx="195" cy="133.6" r="1.9" fill="#111" stroke="none" stroke-width="1" /><circle cx="197" cy="135" r="1.9" fill="#111" stroke="none" stroke-width="1" /><circle cx="162" cy="127" r="1.9" fill="#111" stroke="none" stroke-width="1" /><circle cx="168" cy="130.4" r="1.9" fill="#111" stroke="none" stroke-width="1" /><circle cx="180" cy="130.4" r="1.9" fill="#111" stroke="none" stroke-width="1" />
<circle cx="158.6" cy="131.6" r="1.9" fill="#f020e8" stroke="none" stroke-width="1" /><circle cx="160" cy="136" r="1.9" fill="#f020e8" stroke="none" stroke-width="1" /><circle cx="162" cy="137" r="1.9" fill="#f020e8" stroke="none" stroke-width="1" /><circle cx="164" cy="138" r="1.9" fill="#f020e8" stroke="none" stroke-width="1" /><circle cx="167" cy="139" r="1.9" fill="#f020e8" stroke="none" stroke-width="1" /><circle cx="169" cy="139.6" r="1.9" fill="#f020e8" stroke="none" stroke-width="1" /><circle cx="172" cy="140.4" r="1.9" fill="#f020e8" stroke="none" stroke-width="1" /><circle cx="175" cy="140" r="1.9" fill="#f020e8" stroke="none" stroke-width="1" /><circle cx="178" cy="139" r="1.9" fill="#f020e8" stroke="none" stroke-width="1" /><circle cx="180" cy="138" r="1.9" fill="#f020e8" stroke="none" stroke-width="1" /><circle cx="183" cy="137.6" r="1.9" fill="#f020e8" stroke="none" stroke-width="1" /><circle cx="186" cy="136.4" r="1.9" fill="#f020e8" stroke="none" stroke-width="1" /><circle cx="188" cy="136" r="1.9" fill="#f020e8" stroke="none" stroke-width="1" /><circle cx="190" cy="139" r="1.9" fill="#f020e8" stroke="none" stroke-width="1" /><circle cx="193" cy="141" r="1.9" fill="#f020e8" stroke="none" stroke-width="1" /><circle cx="196" cy="142" r="1.9" fill="#f020e8" stroke="none" stroke-width="1" /><circle cx="198" cy="142.4" r="1.9" fill="#f020e8" stroke="none" stroke-width="1" /><circle cx="161" cy="138" r="1.9" fill="#f020e8" stroke="none" stroke-width="1" /><circle cx="165" cy="139.2" r="1.9" fill="#f020e8" stroke="none" stroke-width="1" /><circle cx="170.4" cy="140.4" r="1.9" fill="#f020e8" stroke="none" stroke-width="1" /><circle cx="177" cy="140" r="1.9" fill="#f020e8" stroke="none" stroke-width="1" /><circle cx="181.6" cy="138.4" r="1.9" fill="#f020e8" stroke="none" stroke-width="1" /><circle cx="185" cy="137.6" r="1.9" fill="#f020e8" stroke="none" stroke-width="1" /><circle cx="191.6" cy="140" r="1.9" fill="#f020e8" stroke="none" stroke-width="1" /><circle cx="194.4" cy="141.6" r="1.9" fill="#f020e8" stroke="none" stroke-width="1" />
<rect x="41.5" y="21.5" width="163" height="121.5" fill="none" stroke="#000" stroke-width="1.4" />
<line x1="41.5" y1="143" x2="41.5" y2="139.8" stroke="#000" stroke-width="1" />
<line x1="53.67" y1="143" x2="53.67" y2="141.2" stroke="#000" stroke-width="1" />
<line x1="65.85" y1="143" x2="65.85" y2="139.8" stroke="#000" stroke-width="1" />
<line x1="78.03" y1="143" x2="78.03" y2="141.2" stroke="#000" stroke-width="1" />
<line x1="90.2" y1="143" x2="90.2" y2="139.8" stroke="#000" stroke-width="1" />
<line x1="102.38" y1="143" x2="102.38" y2="141.2" stroke="#000" stroke-width="1" />
<line x1="114.55" y1="143" x2="114.55" y2="139.8" stroke="#000" stroke-width="1" />
<line x1="126.73" y1="143" x2="126.73" y2="141.2" stroke="#000" stroke-width="1" />
<line x1="138.9" y1="143" x2="138.9" y2="139.8" stroke="#000" stroke-width="1" />
<line x1="151.07" y1="143" x2="151.07" y2="141.2" stroke="#000" stroke-width="1" />
<line x1="163.25" y1="143" x2="163.25" y2="139.8" stroke="#000" stroke-width="1" />
<line x1="175.43" y1="143" x2="175.43" y2="141.2" stroke="#000" stroke-width="1" />
<line x1="187.6" y1="143" x2="187.6" y2="139.8" stroke="#000" stroke-width="1" />
<line x1="199.78" y1="143" x2="199.78" y2="141.2" stroke="#000" stroke-width="1" />
<line x1="41.5" y1="143" x2="44.7" y2="143" stroke="#000" stroke-width="1" />
<line x1="41.5" y1="131.95" x2="43.3" y2="131.95" stroke="#000" stroke-width="1" />
<line x1="41.5" y1="120.9" x2="44.7" y2="120.9" stroke="#000" stroke-width="1" />
<line x1="41.5" y1="109.85" x2="43.3" y2="109.85" stroke="#000" stroke-width="1" />
<line x1="41.5" y1="98.8" x2="44.7" y2="98.8" stroke="#000" stroke-width="1" />
<line x1="41.5" y1="87.75" x2="43.3" y2="87.75" stroke="#000" stroke-width="1" />
<line x1="41.5" y1="76.7" x2="44.7" y2="76.7" stroke="#000" stroke-width="1" />
<line x1="41.5" y1="65.65" x2="43.3" y2="65.65" stroke="#000" stroke-width="1" />
<line x1="41.5" y1="54.6" x2="44.7" y2="54.6" stroke="#000" stroke-width="1" />
<line x1="41.5" y1="43.55" x2="43.3" y2="43.55" stroke="#000" stroke-width="1" />
<line x1="41.5" y1="32.5" x2="44.7" y2="32.5" stroke="#000" stroke-width="1" />
<text class="fs" x="41.2" y="150.6" font-size="6.4" text-anchor="middle" >0</text>
<text class="fs" x="65.55" y="150.6" font-size="6.4" text-anchor="middle" >20</text>
<text class="fs" x="89.9" y="150.6" font-size="6.4" text-anchor="middle" >40</text>
<text class="fs" x="114.25" y="150.6" font-size="6.4" text-anchor="middle" >60</text>
<text class="fs" x="138.6" y="150.6" font-size="6.4" text-anchor="middle" >80</text>
<text class="fs" x="162.95" y="150.6" font-size="6.4" text-anchor="middle" >100</text>
<text class="fs" x="187.3" y="150.6" font-size="6.4" text-anchor="middle" >120</text>
<text class="fs" x="37.8" y="145.5" font-size="6.8" text-anchor="end" >0.0</text>
<text class="fs" x="37.8" y="123.4" font-size="6.8" text-anchor="end" >0.2</text>
<text class="fs" x="37.8" y="101.3" font-size="6.8" text-anchor="end" >0.4</text>
<text class="fs" x="37.8" y="79.2" font-size="6.8" text-anchor="end" >0.6</text>
<text class="fs" x="37.8" y="57.1" font-size="6.8" text-anchor="end" >0.8</text>
<text class="fs" x="37.8" y="35" font-size="6.8" text-anchor="end" >1.0</text>
<text class="fs" x="123" y="161" font-size="8.8" text-anchor="middle" >Times (h)</text>
<text class="fs" font-size="8.8" text-anchor="middle" transform="translate(25.6,88.5) rotate(-90)">Normalized</text>
<rect x="171.3" y="23.5" width="31.7" height="35" fill="#fff" stroke="#000" stroke-width="0.9" />
<polygon points="180.2,26.9 182.4,29.2 180.2,31.5 178,29.2" fill="#111" stroke="none" stroke-width="1" />
<text class="fs" x="188.5" y="31.1" font-size="7.2" font-style="italic" textLength="11.5" lengthAdjust="spacingAndGlyphs">Voc</text>
<circle cx="180.2" cy="37.6" r="1.9" fill="#e11b1b" stroke="none" stroke-width="1" />
<text class="fs" x="188.5" y="39.5" font-size="7.2" font-style="italic" textLength="9.5" lengthAdjust="spacingAndGlyphs">Jsc</text>
<circle cx="180.2" cy="46.1" r="1.9" fill="#1515d8" stroke="none" stroke-width="1" />
<text class="fs" x="188.5" y="48" font-size="7.2" font-style="italic" textLength="9.5" lengthAdjust="spacingAndGlyphs">FF</text>
<circle cx="180.2" cy="54.4" r="1.9" fill="#f020e8" stroke="none" stroke-width="1" />
<text class="fs" x="188.5" y="56.3" font-size="7.2" font-style="italic" textLength="12" lengthAdjust="spacingAndGlyphs">PCE</text>
<text class="fs" x="11.5" y="24.3" font-size="15.5" >a</text></g>
<g id="pjv"><clipPath id="cjv"><rect x="244.7" y="20" width="152.8" height="116.69999999999999"/></clipPath>
<g clip-path="url(#cjv)">
<line x1="244.7" y1="67.6" x2="397.5" y2="67.6" stroke="#000" stroke-width="1.3" />
<line x1="251" y1="20" x2="251" y2="136.7" stroke="#000" stroke-width="1.3" />
<polyline points="243.53,134.42 244.16,134.42 244.78,134.42 245.41,134.41 246.04,134.41 246.67,134.41 247.29,134.4 247.92,134.4 248.55,134.4 249.18,134.39 249.8,134.39 250.43,134.38 251.06,134.38 251.69,134.38 252.31,134.37 252.94,134.37 253.57,134.37 254.2,134.36 254.82,134.36 255.45,134.36 256.08,134.35 256.71,134.35 257.33,134.34 257.96,134.34 258.59,134.34 259.22,134.33 259.84,134.33 260.47,134.33 261.1,134.32 261.73,134.32 262.35,134.32 262.98,134.31 263.61,134.31 264.24,134.3 264.86,134.3 265.49,134.3 266.12,134.29 266.75,134.29 267.37,134.29 268,134.28 268.63,134.28 269.26,134.28 269.88,134.27 270.51,134.27 271.14,134.26 271.77,134.26 272.39,134.26 273.02,134.25 273.65,134.25 274.28,134.25 274.9,134.24 275.53,134.24 276.16,134.24 276.79,134.23 277.41,134.23 278.04,134.22 278.67,134.22 279.3,134.22 279.92,134.21 280.55,134.21 281.18,134.21 281.81,134.2 282.43,134.2 283.06,134.2 283.69,134.19 284.32,134.19 284.94,134.18 285.57,134.18 286.2,134.18 286.83,134.17 287.45,134.17 288.08,134.17 288.71,134.16 289.34,134.16 289.96,134.15 290.59,134.15 291.22,134.15 291.85,134.14 292.47,134.14 293.1,134.13 293.73,134.13 294.36,134.13 294.98,134.12 295.61,134.12 296.24,134.12 296.87,134.11 297.49,134.11 298.12,134.1 298.75,134.1 299.38,134.09 300,134.09 300.63,134.09 301.26,134.08 301.89,134.08 302.51,134.07 303.14,134.07 303.77,134.06 304.4,134.06 305.02,134.06 305.65,134.05 306.28,134.05 306.91,134.04 307.53,134.04 308.16,134.03 308.79,134.03 309.42,134.02 310.04,134.02 310.67,134.01 311.3,134 311.93,134 312.55,133.99 313.18,133.99 313.81,133.98 314.44,133.97 315.06,133.97 315.69,133.96 316.32,133.95 316.95,133.95 317.57,133.94 318.2,133.93 318.83,133.92 319.46,133.91 320.08,133.91 320.71,133.9 321.34,133.89 321.97,133.88 322.59,133.87 323.22,133.86 323.85,133.85 324.47,133.83 325.1,133.82 325.73,133.81 326.36,133.8 326.98,133.78 327.61,133.77 328.24,133.75 328.87,133.73 329.49,133.72 330.12,133.7 330.75,133.68 331.38,133.66 332,133.64 332.63,133.61 333.26,133.59 333.89,133.56 334.51,133.54 335.14,133.51 335.77,133.48 336.4,133.44 337.02,133.41 337.65,133.37 338.28,133.33 338.91,133.29 339.53,133.25 340.16,133.2 340.79,133.15 341.42,133.1 342.04,133.04 342.67,132.98 343.3,132.92 343.93,132.85 344.55,132.77 345.18,132.7 345.81,132.61 346.44,132.53 347.06,132.43 347.69,132.33 348.32,132.22 348.95,132.11 349.57,131.99 350.2,131.85 350.83,131.72 351.46,131.57 352.08,131.41 352.71,131.24 353.34,131.06 353.97,130.86 354.59,130.66 355.22,130.44 355.85,130.2 356.48,129.95 357.1,129.68 357.73,129.39 358.36,129.08 358.99,128.75 359.61,128.4 360.24,128.03 360.87,127.63 361.5,127.2 362.12,126.74 362.75,126.25 363.38,125.73 364.01,125.17 364.63,124.57 365.26,123.93 365.89,123.25 366.52,122.52 367.14,121.74 367.77,120.9 368.4,120.01 369.03,119.05 369.65,118.03 370.28,116.94 370.91,115.78 371.54,114.53 372.16,113.2 372.79,111.77 373.42,110.24 374.05,108.61 374.67,106.87 375.3,105.01 375.93,103.01 376.56,100.88 377.18,98.61 377.81,96.17 378.44,93.56 379.07,90.78 379.69,87.8 380.32,84.61 380.95,81.2 381.58,77.56 382.2,73.67 382.83,69.5 383.46,65.05 384.09,60.28 384.71,55.19 385.34,49.74 385.97,43.92 386.6,37.69 387.22,31.03 387.85,23.9 388.48,16.28 389.11,8.14 389.73,-0.57 390.36,-9.89 390.99,-19.85 391.62,-30.51 392.24,-41.9 392.87,-46.8" fill="none" stroke="#111" stroke-width="1.3" stroke-linejoin="round"/><circle cx="249.01" cy="134.39" r="1.85" fill="#111" stroke="#111" stroke-width="1" fill-opacity="0.35"/><circle cx="259.01" cy="134.33" r="1.85" fill="#111" stroke="#111" stroke-width="1" fill-opacity="0.35"/><circle cx="269" cy="134.28" r="1.85" fill="#111" stroke="#111" stroke-width="1" fill-opacity="0.35"/><circle cx="279" cy="134.22" r="1.85" fill="#111" stroke="#111" stroke-width="1" fill-opacity="0.35"/><circle cx="289" cy="134.16" r="1.85" fill="#111" stroke="#111" stroke-width="1" fill-opacity="0.35"/><circle cx="298.99" cy="134.1" r="1.85" fill="#111" stroke="#111" stroke-width="1" fill-opacity="0.35"/><circle cx="308.99" cy="134.02" r="1.85" fill="#111" stroke="#111" stroke-width="1" fill-opacity="0.35"/><circle cx="318.99" cy="133.92" r="1.85" fill="#111" stroke="#111" stroke-width="1" fill-opacity="0.35"/><circle cx="328.99" cy="133.73" r="1.85" fill="#111" stroke="#111" stroke-width="1" fill-opacity="0.35"/><circle cx="338.98" cy="133.29" r="1.85" fill="#111" stroke="#111" stroke-width="1" fill-opacity="0.35"/><circle cx="348.98" cy="132.1" r="1.85" fill="#111" stroke="#111" stroke-width="1" fill-opacity="0.35"/><circle cx="358.98" cy="128.76" r="1.85" fill="#111" stroke="#111" stroke-width="1" fill-opacity="0.35"/><circle cx="368.98" cy="119.13" r="1.85" fill="#111" stroke="#111" stroke-width="1" fill-opacity="0.35"/><circle cx="378.97" cy="91.2" r="1.85" fill="#111" stroke="#111" stroke-width="1" fill-opacity="0.35"/>
<polyline points="243.53,132.24 244.16,132.14 244.78,132.04 245.41,131.94 246.04,131.84 246.67,131.73 247.29,131.63 247.92,131.53 248.55,131.43 249.18,131.34 249.8,131.25 250.43,131.16 251.06,131.08 251.69,131.01 252.31,130.93 252.94,130.85 253.57,130.78 254.2,130.7 254.82,130.63 255.45,130.55 256.08,130.48 256.71,130.41 257.33,130.33 257.96,130.26 258.59,130.19 259.22,130.11 259.84,130.04 260.47,129.97 261.1,129.9 261.73,129.83 262.35,129.75 262.98,129.68 263.61,129.61 264.24,129.54 264.86,129.47 265.49,129.4 266.12,129.33 266.75,129.26 267.37,129.19 268,129.12 268.63,129.05 269.26,128.98 269.88,128.91 270.51,128.84 271.14,128.77 271.77,128.7 272.39,128.63 273.02,128.56 273.65,128.49 274.28,128.42 274.9,128.34 275.53,128.27 276.16,128.2 276.79,128.13 277.41,128.06 278.04,127.99 278.67,127.93 279.3,127.86 279.92,127.79 280.55,127.72 281.18,127.66 281.81,127.59 282.43,127.53 283.06,127.46 283.69,127.4 284.32,127.34 284.94,127.27 285.57,127.21 286.2,127.14 286.83,127.08 287.45,127.02 288.08,126.95 288.71,126.89 289.34,126.83 289.96,126.76 290.59,126.7 291.22,126.64 291.85,126.57 292.47,126.51 293.1,126.44 293.73,126.38 294.36,126.31 294.98,126.24 295.61,126.18 296.24,126.11 296.87,126.04 297.49,125.97 298.12,125.9 298.75,125.83 299.38,125.76 300,125.69 300.63,125.61 301.26,125.54 301.89,125.46 302.51,125.38 303.14,125.31 303.77,125.23 304.4,125.15 305.02,125.07 305.65,124.98 306.28,124.9 306.91,124.81 307.53,124.73 308.16,124.64 308.79,124.55 309.42,124.45 310.04,124.34 310.67,124.21 311.3,124.07 311.93,123.92 312.55,123.75 313.18,123.58 313.81,123.4 314.44,123.22 315.06,123.03 315.69,122.85 316.32,122.66 316.95,122.48 317.57,122.31 318.2,122.14 318.83,121.98 319.46,121.83 320.08,121.68 320.71,121.55 321.34,121.42 321.97,121.29 322.59,121.17 323.22,121.05 323.85,120.92 324.47,120.79 325.1,120.66 325.73,120.53 326.36,120.38 326.98,120.23 327.61,120.07 328.24,119.9 328.87,119.71 329.49,119.51 330.12,119.3 330.75,119.08 331.38,118.85 332,118.62 332.63,118.37 333.26,118.12 333.89,117.86 334.51,117.6 335.14,117.33 335.77,117.06 336.4,116.79 337.02,116.52 337.65,116.24 338.28,115.97 338.91,115.7 339.53,115.43 340.16,115.17 340.79,114.91 341.42,114.66 342.04,114.41 342.67,114.16 343.3,113.9 343.93,113.64 344.55,113.37 345.18,113.09 345.81,112.8 346.44,112.5 347.06,112.18 347.69,111.84 348.32,111.48 348.95,111.09 349.57,110.69 350.2,110.29 350.83,109.87 351.46,109.45 352.08,109.01 352.71,108.56 353.34,108.09 353.97,107.61 354.59,107.11 355.22,106.59 355.85,106.06 356.48,105.5 357.1,104.91 357.73,104.31 358.36,103.68 358.99,103.02 359.61,102.33 360.24,101.63 360.87,100.91 361.5,100.16 362.12,99.4 362.75,98.61 363.38,97.81 364.01,96.98 364.63,96.13 365.26,95.27 365.89,94.38 366.52,93.47 367.14,92.54 367.77,91.59 368.4,90.62 369.03,89.62 369.65,88.62 370.28,87.63 370.91,86.64 371.54,85.65 372.16,84.66 372.79,83.65 373.42,82.64 374.05,81.6 374.67,80.55 375.3,79.47 375.93,78.36 376.56,77.22 377.18,76.04 377.81,74.82 378.44,73.56 379.07,72.25 379.69,70.88 380.32,69.46 380.95,67.97 381.58,66.39 382.2,64.64 382.83,62.74 383.46,60.71 384.09,58.58 384.71,56.36 385.34,54.09 385.97,51.78 386.6,49.45 387.22,47.13 387.85,44.85 388.48,42.62 389.11,40.46 389.73,38.33 390.36,36.19 390.99,34.05 391.62,31.91 392.24,29.77 392.87,27.63 393.5,25.49 394.13,23.35 394.75,21.21 395.38,19.07 396.01,16.93 396.64,14.79 397.26,12.65 397.89,10.51 398.52,8.38 399.15,6.24 399.77,4.1 400.4,1.96" fill="none" stroke="#e0141e" stroke-width="1.7" stroke-linejoin="round"/><circle cx="249.01" cy="131.37" r="1.85" fill="#e0141e" stroke="#e0141e" stroke-width="1" fill-opacity="0.35"/><circle cx="259.01" cy="130.14" r="1.85" fill="#e0141e" stroke="#e0141e" stroke-width="1" fill-opacity="0.35"/><circle cx="269" cy="129.01" r="1.85" fill="#e0141e" stroke="#e0141e" stroke-width="1" fill-opacity="0.35"/><circle cx="279" cy="127.89" r="1.85" fill="#e0141e" stroke="#e0141e" stroke-width="1" fill-opacity="0.35"/><circle cx="289" cy="126.86" r="1.85" fill="#e0141e" stroke="#e0141e" stroke-width="1" fill-opacity="0.35"/><circle cx="298.99" cy="125.8" r="1.85" fill="#e0141e" stroke="#e0141e" stroke-width="1" fill-opacity="0.35"/><circle cx="308.99" cy="124.52" r="1.85" fill="#e0141e" stroke="#e0141e" stroke-width="1" fill-opacity="0.35"/><circle cx="318.99" cy="121.94" r="1.85" fill="#e0141e" stroke="#e0141e" stroke-width="1" fill-opacity="0.35"/><circle cx="328.99" cy="119.68" r="1.85" fill="#e0141e" stroke="#e0141e" stroke-width="1" fill-opacity="0.35"/><circle cx="338.98" cy="115.66" r="1.85" fill="#e0141e" stroke="#e0141e" stroke-width="1" fill-opacity="0.35"/><circle cx="348.98" cy="111.07" r="1.85" fill="#e0141e" stroke="#e0141e" stroke-width="1" fill-opacity="0.35"/><circle cx="358.98" cy="103.02" r="1.85" fill="#e0141e" stroke="#e0141e" stroke-width="1" fill-opacity="0.35"/><circle cx="368.98" cy="89.7" r="1.85" fill="#e0141e" stroke="#e0141e" stroke-width="1" fill-opacity="0.35"/><circle cx="378.97" cy="72.44" r="1.85" fill="#e0141e" stroke="#e0141e" stroke-width="1" fill-opacity="0.35"/><circle cx="388.97" cy="40.92" r="1.85" fill="#e0141e" stroke="#e0141e" stroke-width="1" fill-opacity="0.35"/>
<polyline points="243.53,131.38 244.16,131.28 244.78,131.18 245.41,131.08 246.04,130.98 246.67,130.88 247.29,130.77 247.92,130.67 248.55,130.58 249.18,130.48 249.8,130.39 250.43,130.31 251.06,130.23 251.69,130.15 252.31,130.07 252.94,130 253.57,129.92 254.2,129.84 254.82,129.77 255.45,129.7 256.08,129.62 256.71,129.55 257.33,129.47 257.96,129.4 258.59,129.33 259.22,129.25 259.84,129.18 260.47,129.11 261.1,129.04 261.73,128.97 262.35,128.9 262.98,128.82 263.61,128.75 264.24,128.68 264.86,128.61 265.49,128.54 266.12,128.47 266.75,128.4 267.37,128.33 268,128.26 268.63,128.19 269.26,128.12 269.88,128.05 270.51,127.98 271.14,127.91 271.77,127.84 272.39,127.77 273.02,127.7 273.65,127.63 274.28,127.56 274.9,127.49 275.53,127.42 276.16,127.34 276.79,127.27 277.41,127.21 278.04,127.14 278.67,127.07 279.3,127 279.92,126.94 280.55,126.87 281.18,126.81 281.81,126.75 282.43,126.68 283.06,126.62 283.69,126.56 284.32,126.5 284.94,126.44 285.57,126.38 286.2,126.32 286.83,126.26 287.45,126.19 288.08,126.13 288.71,126.07 289.34,126.01 289.96,125.95 290.59,125.89 291.22,125.83 291.85,125.77 292.47,125.7 293.1,125.64 293.73,125.58 294.36,125.51 294.98,125.45 295.61,125.38 296.24,125.31 296.87,125.25 297.49,125.18 298.12,125.11 298.75,125.04 299.38,124.96 300,124.89 300.63,124.82 301.26,124.74 301.89,124.66 302.51,124.58 303.14,124.5 303.77,124.42 304.4,124.34 305.02,124.25 305.65,124.16 306.28,124.07 306.91,123.98 307.53,123.89 308.16,123.79 308.79,123.69 309.42,123.59 310.04,123.46 310.67,123.31 311.3,123.14 311.93,122.95 312.55,122.74 313.18,122.53 313.81,122.31 314.44,122.08 315.06,121.85 315.69,121.62 316.32,121.39 316.95,121.16 317.57,120.95 318.2,120.74 318.83,120.55 319.46,120.38 320.08,120.21 320.71,120.05 321.34,119.9 321.97,119.76 322.59,119.61 323.22,119.47 323.85,119.33 324.47,119.19 325.1,119.05 325.73,118.89 326.36,118.74 326.98,118.57 327.61,118.39 328.24,118.2 328.87,118 329.49,117.79 330.12,117.56 330.75,117.33 331.38,117.09 332,116.84 332.63,116.59 333.26,116.33 333.89,116.06 334.51,115.78 335.14,115.5 335.77,115.22 336.4,114.92 337.02,114.63 337.65,114.32 338.28,114.02 338.91,113.7 339.53,113.39 340.16,113.07 340.79,112.75 341.42,112.43 342.04,112.1 342.67,111.76 343.3,111.42 343.93,111.08 344.55,110.72 345.18,110.36 345.81,109.99 346.44,109.6 347.06,109.21 347.69,108.8 348.32,108.38 348.95,107.95 349.57,107.51 350.2,107.06 350.83,106.62 351.46,106.16 352.08,105.7 352.71,105.23 353.34,104.75 353.97,104.25 354.59,103.74 355.22,103.21 355.85,102.66 356.48,102.1 357.1,101.51 357.73,100.89 358.36,100.25 358.99,99.58 359.61,98.89 360.24,98.17 360.87,97.43 361.5,96.66 362.12,95.88 362.75,95.07 363.38,94.25 364.01,93.41 364.63,92.55 365.26,91.68 365.89,90.79 366.52,89.9 367.14,88.98 367.77,88.06 368.4,87.13 369.03,86.19 369.65,85.26 370.28,84.36 370.91,83.48 371.54,82.61 372.16,81.75 372.79,80.88 373.42,80 374.05,79.1 374.67,78.18 375.3,77.22 375.93,76.22 376.56,75.17 377.18,74.06 377.81,72.88 378.44,71.64 379.07,70.31 379.69,68.89 380.32,67.38 380.95,65.7 381.58,63.86 382.2,61.86 382.83,59.74 383.46,57.51 384.09,55.2 384.71,52.83 385.34,50.42 385.97,48 386.6,45.59 387.22,43.2 387.85,40.87 388.48,38.62 389.11,36.46 389.73,34.35 390.36,32.26 390.99,30.19 391.62,28.14 392.24,26.1 392.87,24.08 393.5,22.06 394.13,20.04 394.75,18.02 395.38,16 396.01,13.97 396.64,11.93 397.26,9.88 397.89,7.84 398.52,5.79 399.15,3.74 399.77,1.7 400.4,-0.35" fill="none" stroke="#1a1ad6" stroke-width="1.7" stroke-linejoin="round"/><circle cx="249.01" cy="130.51" r="1.85" fill="#1a1ad6" stroke="#1a1ad6" stroke-width="1" fill-opacity="0.35"/><circle cx="259.01" cy="129.28" r="1.85" fill="#1a1ad6" stroke="#1a1ad6" stroke-width="1" fill-opacity="0.35"/><circle cx="269" cy="128.15" r="1.85" fill="#1a1ad6" stroke="#1a1ad6" stroke-width="1" fill-opacity="0.35"/><circle cx="279" cy="127.04" r="1.85" fill="#1a1ad6" stroke="#1a1ad6" stroke-width="1" fill-opacity="0.35"/><circle cx="289" cy="126.05" r="1.85" fill="#1a1ad6" stroke="#1a1ad6" stroke-width="1" fill-opacity="0.35"/><circle cx="298.99" cy="125.01" r="1.85" fill="#1a1ad6" stroke="#1a1ad6" stroke-width="1" fill-opacity="0.35"/><circle cx="308.99" cy="123.66" r="1.85" fill="#1a1ad6" stroke="#1a1ad6" stroke-width="1" fill-opacity="0.35"/><circle cx="318.99" cy="120.51" r="1.85" fill="#1a1ad6" stroke="#1a1ad6" stroke-width="1" fill-opacity="0.35"/><circle cx="328.99" cy="117.96" r="1.85" fill="#1a1ad6" stroke="#1a1ad6" stroke-width="1" fill-opacity="0.35"/><circle cx="338.98" cy="113.66" r="1.85" fill="#1a1ad6" stroke="#1a1ad6" stroke-width="1" fill-opacity="0.35"/><circle cx="348.98" cy="107.93" r="1.85" fill="#1a1ad6" stroke="#1a1ad6" stroke-width="1" fill-opacity="0.35"/><circle cx="358.98" cy="99.59" r="1.85" fill="#1a1ad6" stroke="#1a1ad6" stroke-width="1" fill-opacity="0.35"/><circle cx="368.98" cy="86.26" r="1.85" fill="#1a1ad6" stroke="#1a1ad6" stroke-width="1" fill-opacity="0.35"/><circle cx="378.97" cy="70.51" r="1.85" fill="#1a1ad6" stroke="#1a1ad6" stroke-width="1" fill-opacity="0.35"/><circle cx="388.97" cy="36.91" r="1.85" fill="#1a1ad6" stroke="#1a1ad6" stroke-width="1" fill-opacity="0.35"/>
<polyline points="243.53,125.37 244.16,124.92 244.78,124.52 245.41,124.16 246.04,123.81 246.67,123.46 247.29,123.1 247.92,122.7 248.55,122.24 249.18,121.72 249.8,121.11 250.43,120.4 251.06,119.57 251.69,118.63 252.31,117.63 252.94,116.55 253.57,115.41 254.2,114.22 254.82,112.97 255.45,111.68 256.08,110.35 256.71,108.99 257.33,107.61 257.96,106.2 258.59,104.78 259.22,103.35 259.84,101.9 260.47,100.42 261.1,98.9 261.73,97.36 262.35,95.79 262.98,94.19 263.61,92.58 264.24,90.96 264.86,89.33 265.49,87.69 266.12,86.05 266.75,84.42 267.37,82.8 268,81.19 268.63,79.6 269.26,78.03 269.88,76.48 270.51,74.94 271.14,73.41 271.77,71.89 272.39,70.37 273.02,68.85 273.65,67.34 274.28,65.84 274.9,64.33 275.53,62.83 276.16,61.32 276.79,59.82 277.41,58.31 278.04,56.8 278.67,55.28 279.3,53.75 279.92,52.23 280.55,50.71 281.18,49.19 281.81,47.66 282.43,46.14 283.06,44.61 283.69,43.09 284.32,41.56 284.94,40.03 285.57,38.5 286.2,36.96 286.83,35.42 287.45,33.88 288.08,32.34 288.71,30.79 289.34,29.23 289.96,27.65 290.59,26.04 291.22,24.43 291.85,22.81 292.47,21.18 293.1,19.57 293.73,17.96 294.36,16.35 294.98,14.75 295.61,13.14 296.24,11.54 296.87,9.93 297.49,8.32 298.12,6.72 298.75,5.11 299.38,3.5 300,1.9 300.63,0.29 301.26,-1.31 301.89,-2.92 302.51,-4.53 303.14,-6.13 303.77,-7.74 304.4,-9.34 305.02,-10.95 305.65,-12.56 306.28,-14.16 306.91,-15.77 307.53,-17.38 308.16,-18.98 308.79,-20.59 309.42,-22.19 310.04,-23.8 310.67,-25.41 311.3,-27.01 311.93,-28.62 312.55,-30.23 313.18,-31.83 313.81,-33.44 314.44,-35.04 315.06,-36.65 315.69,-38.26 316.32,-39.86 316.95,-41.47 317.57,-43.07 318.2,-44.68 318.83,-46.29 319.46,-46.8" fill="none" stroke="#0a8a1e" stroke-width="1.5" stroke-linejoin="round"/><circle cx="259.34" cy="103.06" r="1.85" fill="#0a8a1e" stroke="#0a8a1e" stroke-width="1" fill-opacity="0.35"/><circle cx="269.43" cy="77.61" r="1.85" fill="#0a8a1e" stroke="#0a8a1e" stroke-width="1" fill-opacity="0.35"/><circle cx="279.01" cy="54.44" r="1.85" fill="#0a8a1e" stroke="#0a8a1e" stroke-width="1" fill-opacity="0.35"/><circle cx="288.97" cy="30.13" r="1.85" fill="#0a8a1e" stroke="#0a8a1e" stroke-width="1" fill-opacity="0.35"/>
<polyline points="243.53,126.23 244.16,125.05 244.78,123.91 245.41,122.8 246.04,121.69 246.67,120.55 247.29,119.36 247.92,118.09 248.55,116.72 249.18,115.24 249.8,113.71 250.43,112.17 251.06,110.61 251.69,109.04 252.31,107.44 252.94,105.83 253.57,104.2 254.2,102.55 254.82,100.87 255.45,99.17 256.08,97.43 256.71,95.67 257.33,93.87 257.96,92.05 258.59,90.19 259.22,88.29 259.84,86.35 260.47,84.36 261.1,82.32 261.73,80.24 262.35,78.12 262.98,75.98 263.61,73.8 264.24,71.6 264.86,69.38 265.49,67.14 266.12,64.89 266.75,62.63 267.37,60.37 268,58.11 268.63,55.86 269.26,53.62 269.88,51.38 270.51,49.11 271.14,46.83 271.77,44.53 272.39,42.21 273.02,39.89 273.65,37.56 274.28,35.22 274.9,32.89 275.53,30.56 276.16,28.25 276.79,25.94 277.41,23.65 278.04,21.38 278.67,19.13 279.3,16.96 279.92,14.84 280.55,12.76 281.18,10.69 281.81,8.61 282.43,6.5 283.06,4.39 283.69,2.27 284.32,0.16 284.94,-1.96 285.57,-4.07 286.2,-6.18 286.83,-8.3 287.45,-10.41 288.08,-12.53 288.71,-14.64 289.34,-16.76 289.96,-18.87 290.59,-20.98 291.22,-23.1 291.85,-25.21 292.47,-27.33 293.1,-29.44 293.73,-31.55 294.36,-33.67 294.98,-35.78 295.61,-37.9 296.24,-40.01 296.87,-42.12 297.49,-44.24 298.12,-46.35 298.75,-46.8" fill="none" stroke="#8a168a" stroke-width="1.5" stroke-linejoin="round"/><circle cx="249.01" cy="115.65" r="1.85" fill="#8a168a" stroke="#8a168a" stroke-width="1" fill-opacity="0.35"/><circle cx="259.34" cy="87.91" r="1.85" fill="#8a168a" stroke="#8a168a" stroke-width="1" fill-opacity="0.35"/><circle cx="269.43" cy="53.01" r="1.85" fill="#8a168a" stroke="#8a168a" stroke-width="1" fill-opacity="0.35"/>
</g>
<rect x="244.7" y="20" width="152.8" height="116.7" fill="none" stroke="#000" stroke-width="1.5" />
<line x1="251" y1="136.7" x2="251" y2="133.7" stroke="#000" stroke-width="1" />
<line x1="263.45" y1="136.7" x2="263.45" y2="135" stroke="#000" stroke-width="1" />
<line x1="275.9" y1="136.7" x2="275.9" y2="133.7" stroke="#000" stroke-width="1" />
<line x1="288.35" y1="136.7" x2="288.35" y2="135" stroke="#000" stroke-width="1" />
<line x1="300.8" y1="136.7" x2="300.8" y2="133.7" stroke="#000" stroke-width="1" />
<line x1="313.25" y1="136.7" x2="313.25" y2="135" stroke="#000" stroke-width="1" />
<line x1="325.7" y1="136.7" x2="325.7" y2="133.7" stroke="#000" stroke-width="1" />
<line x1="338.15" y1="136.7" x2="338.15" y2="135" stroke="#000" stroke-width="1" />
<line x1="350.6" y1="136.7" x2="350.6" y2="133.7" stroke="#000" stroke-width="1" />
<line x1="363.05" y1="136.7" x2="363.05" y2="135" stroke="#000" stroke-width="1" />
<line x1="375.5" y1="136.7" x2="375.5" y2="133.7" stroke="#000" stroke-width="1" />
<line x1="387.95" y1="136.7" x2="387.95" y2="135" stroke="#000" stroke-width="1" />
<line x1="244.7" y1="131.95" x2="246.4" y2="131.95" stroke="#000" stroke-width="1" />
<line x1="244.7" y1="124.8" x2="247.7" y2="124.8" stroke="#000" stroke-width="1" />
<line x1="244.7" y1="117.65" x2="246.4" y2="117.65" stroke="#000" stroke-width="1" />
<line x1="244.7" y1="110.5" x2="247.7" y2="110.5" stroke="#000" stroke-width="1" />
<line x1="244.7" y1="103.35" x2="246.4" y2="103.35" stroke="#000" stroke-width="1" />
<line x1="244.7" y1="96.2" x2="247.7" y2="96.2" stroke="#000" stroke-width="1" />
<line x1="244.7" y1="89.05" x2="246.4" y2="89.05" stroke="#000" stroke-width="1" />
<line x1="244.7" y1="81.9" x2="247.7" y2="81.9" stroke="#000" stroke-width="1" />
<line x1="244.7" y1="74.75" x2="246.4" y2="74.75" stroke="#000" stroke-width="1" />
<line x1="244.7" y1="67.6" x2="247.7" y2="67.6" stroke="#000" stroke-width="1" />
<line x1="244.7" y1="60.45" x2="246.4" y2="60.45" stroke="#000" stroke-width="1" />
<line x1="244.7" y1="53.3" x2="247.7" y2="53.3" stroke="#000" stroke-width="1" />
<line x1="244.7" y1="46.15" x2="246.4" y2="46.15" stroke="#000" stroke-width="1" />
<line x1="244.7" y1="39" x2="247.7" y2="39" stroke="#000" stroke-width="1" />
<line x1="244.7" y1="31.85" x2="246.4" y2="31.85" stroke="#000" stroke-width="1" />
<line x1="244.7" y1="24.7" x2="247.7" y2="24.7" stroke="#000" stroke-width="1" />
<text class="fs" x="250.2" y="145.1" font-size="7" text-anchor="middle" >0.0</text>
<text class="fs" x="275.1" y="145.1" font-size="7" text-anchor="middle" >0.2</text>
<text class="fs" x="300" y="145.1" font-size="7" text-anchor="middle" >0.4</text>
<text class="fs" x="324.9" y="145.1" font-size="7" text-anchor="middle" >0.6</text>
<text class="fs" x="349.8" y="145.1" font-size="7" text-anchor="middle" >0.8</text>
<text class="fs" x="374.7" y="145.1" font-size="7" text-anchor="middle" >1.0</text>
<text class="fs" x="242.3" y="27.3" font-size="7.3" text-anchor="end" >15</text>
<text class="fs" x="242.3" y="41.6" font-size="7.3" text-anchor="end" >10</text>
<text class="fs" x="242.3" y="55.9" font-size="7.3" text-anchor="end" >5</text>
<text class="fs" x="242.3" y="70.2" font-size="7.3" text-anchor="end" >0</text>
<text class="fs" x="242.3" y="84.5" font-size="7.3" text-anchor="end" >-5</text>
<text class="fs" x="242.3" y="98.8" font-size="7.3" text-anchor="end" >-10</text>
<text class="fs" x="242.3" y="113.1" font-size="7.3" text-anchor="end" >-15</text>
<text class="fs" x="242.3" y="127.4" font-size="7.3" text-anchor="end" >-20</text>
<text class="fs" x="320.8" y="154.6" font-size="8.2" text-anchor="middle" >Voltage (V)</text>
<text class="fs" font-size="7.9" text-anchor="middle" transform="translate(227.6,79.5) rotate(-90)">Current density (mA/cm<tspan font-size="5" dy="-2.6">2</tspan><tspan dy="2.6">)</tspan></text>
<rect x="336" y="23.5" width="31" height="40" fill="#fff" stroke="#000" stroke-width="0.9" />
<line x1="339" y1="31" x2="352.5" y2="31" stroke="#111" stroke-width="1.3" />
<circle cx="345.7" cy="31" r="1.5" fill="none" stroke="#111" stroke-width="0.9" />
<text class="fs" x="353" y="32.8" font-size="5.2" >1 h</text>
<line x1="339" y1="38.3" x2="352.5" y2="38.3" stroke="#e0141e" stroke-width="1.3" />
<circle cx="345.7" cy="38.3" r="1.5" fill="none" stroke="#e0141e" stroke-width="0.9" />
<text class="fs" x="353" y="40.1" font-size="5.2" >80 h</text>
<line x1="339" y1="45.6" x2="352.5" y2="45.6" stroke="#1a1ad6" stroke-width="1.3" />
<circle cx="345.7" cy="45.6" r="1.5" fill="none" stroke="#1a1ad6" stroke-width="0.9" />
<text class="fs" x="353" y="47.4" font-size="5.2" >90 h</text>
<line x1="339" y1="53" x2="352.5" y2="53" stroke="#0a8a1e" stroke-width="1.3" />
<circle cx="345.7" cy="53" r="1.5" fill="none" stroke="#0a8a1e" stroke-width="0.9" />
<text class="fs" x="353" y="54.8" font-size="5.2" >100 h</text>
<line x1="339" y1="60.2" x2="352.5" y2="60.2" stroke="#8a168a" stroke-width="1.3" />
<circle cx="345.7" cy="60.2" r="1.5" fill="none" stroke="#8a168a" stroke-width="0.9" />
<text class="fs" x="353" y="62" font-size="5.2" >120 h</text>
<text class="fs" x="414.5" y="31" font-size="17.5" >b</text></g>
<g id="h1"><g clip-path="url(#ch1)">
<rect x="43" y="173" width="133" height="120" fill="#0808f2" stroke="none" stroke-width="1" />
<rect x="43" y="173" width="133" height="19" fill="url(#h1top)" stroke="none" stroke-width="1" />
<ellipse cx="66" cy="174.5" rx="16" ry="2.6" fill="#ffb428" filter="url(#b2)" opacity="0.8"/>
<ellipse cx="160" cy="178" rx="18" ry="6" fill="#f8f020" filter="url(#b3)" opacity="0.75"/>
<ellipse cx="48" cy="184" rx="6" ry="5" fill="#70f040" filter="url(#b2)" opacity="0.7"/>
<rect x="43" y="264.3" width="133" height="28.7" fill="url(#h1bot)" stroke="none" stroke-width="1" />
<ellipse cx="66" cy="278" rx="22" ry="7" fill="#70f820" filter="url(#b5)" opacity="0.9"/>
<ellipse cx="116" cy="278" rx="24" ry="6" fill="#50f828" filter="url(#b5)" opacity="0.7"/>
<ellipse cx="160" cy="286" rx="18" ry="6" fill="#18f0a0" filter="url(#b3)" opacity="0.55"/>
</g>
<path d="M63.6,293 V179.4 H144 L146.3,182 V293" fill="none" stroke="#181860" stroke-width="0.75" stroke-dasharray="3.2 3" opacity="0.85"/>
<text class="fs" x="65" y="188.6" font-size="7" fill="#0a0a20" textLength="42" lengthAdjust="spacingAndGlyphs">ITO electrode</text>
<text class="fs" font-size="6.2" fill="#06065a" transform="translate(50,196) rotate(90)" textLength="38" lengthAdjust="spacingAndGlyphs">Ag electrode</text>
<text class="fs" x="148.3" y="281.8" font-size="11" style="font-weight:normal" fill="#0a3a1a" textLength="24" lengthAdjust="spacingAndGlyphs">Fresh</text>
<rect x="43" y="173" width="133" height="120" fill="none" stroke="#000" stroke-width="1.2" />
<line x1="43" y1="293" x2="43" y2="290.4" stroke="#000" stroke-width="0.9" />
<line x1="56.5" y1="293" x2="56.5" y2="291.5" stroke="#000" stroke-width="0.9" />
<line x1="70" y1="293" x2="70" y2="290.4" stroke="#000" stroke-width="0.9" />
<line x1="83.5" y1="293" x2="83.5" y2="291.5" stroke="#000" stroke-width="0.9" />
<line x1="97" y1="293" x2="97" y2="290.4" stroke="#000" stroke-width="0.9" />
<line x1="110.5" y1="293" x2="110.5" y2="291.5" stroke="#000" stroke-width="0.9" />
<line x1="124" y1="293" x2="124" y2="290.4" stroke="#000" stroke-width="0.9" />
<line x1="137.5" y1="293" x2="137.5" y2="291.5" stroke="#000" stroke-width="0.9" />
<line x1="151" y1="293" x2="151" y2="290.4" stroke="#000" stroke-width="0.9" />
<line x1="164.5" y1="293" x2="164.5" y2="291.5" stroke="#000" stroke-width="0.9" />
<line x1="43" y1="293" x2="45.6" y2="293" stroke="#000" stroke-width="0.9" />
<line x1="43" y1="280.5" x2="44.5" y2="280.5" stroke="#000" stroke-width="0.9" />
<line x1="43" y1="268" x2="45.6" y2="268" stroke="#000" stroke-width="0.9" />
<line x1="43" y1="255.5" x2="44.5" y2="255.5" stroke="#000" stroke-width="0.9" />
<line x1="43" y1="243" x2="45.6" y2="243" stroke="#000" stroke-width="0.9" />
<line x1="43" y1="230.5" x2="44.5" y2="230.5" stroke="#000" stroke-width="0.9" />
<line x1="43" y1="218" x2="45.6" y2="218" stroke="#000" stroke-width="0.9" />
<line x1="43" y1="205.5" x2="44.5" y2="205.5" stroke="#000" stroke-width="0.9" />
<line x1="43" y1="193" x2="45.6" y2="193" stroke="#000" stroke-width="0.9" />
<line x1="43" y1="180.5" x2="44.5" y2="180.5" stroke="#000" stroke-width="0.9" />
<text class="fs" x="42.4" y="301.6" font-size="7.4" text-anchor="middle" >0</text>
<text class="fs" x="39.6" y="295.3" font-size="7.4" text-anchor="end" >0</text>
<text class="fs" x="69.4" y="301.6" font-size="7.4" text-anchor="middle" >1</text>
<text class="fs" x="39.6" y="270.3" font-size="7.4" text-anchor="end" >1</text>
<text class="fs" x="96.4" y="301.6" font-size="7.4" text-anchor="middle" >2</text>
<text class="fs" x="39.6" y="245.3" font-size="7.4" text-anchor="end" >2</text>
<text class="fs" x="123.4" y="301.6" font-size="7.4" text-anchor="middle" >3</text>
<text class="fs" x="39.6" y="220.3" font-size="7.4" text-anchor="end" >3</text>
<text class="fs" x="150.4" y="301.6" font-size="7.4" text-anchor="middle" >4</text>
<text class="fs" x="39.6" y="195.3" font-size="7.4" text-anchor="end" >4</text>
<text class="fs" x="108.5" y="309.6" font-size="8" text-anchor="middle" textLength="44" lengthAdjust="spacingAndGlyphs">Length (mm)</text>
<text class="fs" font-size="8" text-anchor="middle" transform="translate(31,232) rotate(-90)" textLength="40" lengthAdjust="spacingAndGlyphs">Width (mm)</text>
<rect x="181" y="186" width="9.5" height="107" fill="url(#jet)" stroke="none" stroke-width="1" /><text class="fs" x="193" y="187.78" font-size="5.4" >7500</text><text class="fs" x="193" y="214.53" font-size="5.4" >6000</text><text class="fs" x="193" y="241.28" font-size="5.4" >4500</text><text class="fs" x="193" y="268.03" font-size="5.4" >3000</text><text class="fs" x="193" y="294.78" font-size="5.4" >1500</text><text class="fs" x="177" y="180" font-size="7.2" textLength="23.5" lengthAdjust="spacing">Intensity</text></g>
<g id="h2"><g clip-path="url(#ch2)">
<rect x="245.5" y="173.5" width="127" height="120" fill="#2cf038" stroke="none" stroke-width="1" />
<rect x="236" y="164" width="144" height="17" fill="#f4ee20" filter="url(#b2)"/>
<ellipse cx="278" cy="175.5" rx="16" ry="4.6" fill="#ffa020" filter="url(#b2)"/>
<ellipse cx="278" cy="176" rx="5.6" ry="3.2" fill="#f42a18" filter="url(#b1)"/>
<ellipse cx="328" cy="174" rx="30" ry="2.6" fill="#ffcc20" filter="url(#b2)" opacity="0.8"/>
<ellipse cx="367" cy="177" rx="8" ry="5" fill="#a8f430" filter="url(#b2)" opacity="0.9"/>
<rect x="236" y="176" width="14.5" height="84" fill="#e0f424" filter="url(#b2)"/>
<ellipse cx="248" cy="181" rx="8" ry="9" fill="#f4ee20" filter="url(#b2)"/>
<ellipse cx="264" cy="284" rx="26" ry="10" fill="#88f828" filter="url(#b5)" opacity="0.95"/>
<ellipse cx="366" cy="287" rx="14" ry="13" fill="#22d4e0" filter="url(#b5)"/>
<ellipse cx="340" cy="290" rx="20" ry="6" fill="#28e0a8" filter="url(#b5)" opacity="0.8"/>
<rect x="257" y="188" width="122" height="81" fill="#24dce0" filter="url(#b1)"/>
<rect x="262.5" y="193" width="122" height="67" fill="#1440f2" filter="url(#b2)"/>
<rect x="264" y="195" width="22" height="60" fill="#1018dc" filter="url(#b3)"/>
<rect x="363" y="192" width="14" height="68" fill="#1020e0" filter="url(#b2)"/>
<ellipse cx="330" cy="220" rx="30" ry="18" fill="#2460f6" filter="url(#b5)" opacity="0.75"/>
<ellipse cx="318" cy="258" rx="42" ry="4" fill="#28a0f8" filter="url(#b3)" opacity="0.85"/>
</g>
<path d="M372.5,189.5 H258.5 V267 H372.5" fill="none" stroke="#0a2a2a" stroke-width="0.8"/>
<path d="M285.6,293 V181 H364.4 V293" fill="none" stroke="#10103a" stroke-width="0.8" stroke-dasharray="1 1.8" opacity="0.85"/>
<text class="fs" x="289" y="188.3" font-size="6.8" fill="#0a0a20" textLength="42" lengthAdjust="spacingAndGlyphs">ITO electrode</text>
<text class="fs" font-size="6.2" fill="#06064a" transform="translate(264.5,195) rotate(90)" textLength="38" lengthAdjust="spacingAndGlyphs">Ag electrode</text>
<text class="fs" x="249.5" y="284.8" font-size="11.5" style="font-weight:normal" fill="#0a3a1a" textLength="21" lengthAdjust="spacingAndGlyphs">Aged</text>
<text class="fs" x="288" y="286.8" font-size="6.4" fill="#0a2a10" textLength="49" lengthAdjust="spacingAndGlyphs">Test area of TRPL</text>
<rect x="324.4" y="252.4" width="2.4" height="18" fill="none" stroke="#d02020" stroke-width="0.6" />
<rect x="326.8" y="252.4" width="2.4" height="18" fill="none" stroke="#d02020" stroke-width="0.6" />
<line x1="329.5" y1="253" x2="333" y2="253" stroke="#000" stroke-width="0.6" />
<text class="fs" x="332" y="254" font-size="2.6" >1</text>
<line x1="333" y1="262" x2="333" y2="267" stroke="#000" stroke-width="0.6" />
<polygon points="331.8,266 334.2,266 333,268" fill="#000" stroke="none" stroke-width="1" />
<text class="fs" x="331.5" y="272" font-size="2.6" >2</text>
<line x1="326.8" y1="280" x2="326.8" y2="273.5" stroke="#000" stroke-width="0.6" />
<polygon points="325.6,274.6 328,274.6 326.8,272" fill="#000" stroke="none" stroke-width="1" />
<rect x="245.5" y="173.5" width="127" height="120" fill="none" stroke="#000" stroke-width="1.3" />
<line x1="245.5" y1="293.5" x2="245.5" y2="290.9" stroke="#000" stroke-width="0.9" />
<line x1="258.3" y1="293.5" x2="258.3" y2="292" stroke="#000" stroke-width="0.9" />
<line x1="271.1" y1="293.5" x2="271.1" y2="290.9" stroke="#000" stroke-width="0.9" />
<line x1="283.9" y1="293.5" x2="283.9" y2="292" stroke="#000" stroke-width="0.9" />
<line x1="296.7" y1="293.5" x2="296.7" y2="290.9" stroke="#000" stroke-width="0.9" />
<line x1="309.5" y1="293.5" x2="309.5" y2="292" stroke="#000" stroke-width="0.9" />
<line x1="322.3" y1="293.5" x2="322.3" y2="290.9" stroke="#000" stroke-width="0.9" />
<line x1="335.1" y1="293.5" x2="335.1" y2="292" stroke="#000" stroke-width="0.9" />
<line x1="347.9" y1="293.5" x2="347.9" y2="290.9" stroke="#000" stroke-width="0.9" />
<line x1="360.7" y1="293.5" x2="360.7" y2="292" stroke="#000" stroke-width="0.9" />
<line x1="245.5" y1="294" x2="248.1" y2="294" stroke="#000" stroke-width="0.9" />
<line x1="245.5" y1="281.5" x2="247" y2="281.5" stroke="#000" stroke-width="0.9" />
<line x1="245.5" y1="269" x2="248.1" y2="269" stroke="#000" stroke-width="0.9" />
<line x1="245.5" y1="256.5" x2="247" y2="256.5" stroke="#000" stroke-width="0.9" />
<line x1="245.5" y1="244" x2="248.1" y2="244" stroke="#000" stroke-width="0.9" />
<line x1="245.5" y1="231.5" x2="247" y2="231.5" stroke="#000" stroke-width="0.9" />
<line x1="245.5" y1="219" x2="248.1" y2="219" stroke="#000" stroke-width="0.9" />
<line x1="245.5" y1="206.5" x2="247" y2="206.5" stroke="#000" stroke-width="0.9" />
<line x1="245.5" y1="194" x2="248.1" y2="194" stroke="#000" stroke-width="0.9" />
<line x1="245.5" y1="181.5" x2="247" y2="181.5" stroke="#000" stroke-width="0.9" />
<text class="fs" x="245.2" y="302" font-size="7.4" text-anchor="middle" >0</text>
<text class="fs" x="241.6" y="296.3" font-size="7.4" text-anchor="end" >0</text>
<text class="fs" x="270.8" y="302" font-size="7.4" text-anchor="middle" >1</text>
<text class="fs" x="241.6" y="271.3" font-size="7.4" text-anchor="end" >1</text>
<text class="fs" x="296.4" y="302" font-size="7.4" text-anchor="middle" >2</text>
<text class="fs" x="241.6" y="246.3" font-size="7.4" text-anchor="end" >2</text>
<text class="fs" x="322" y="302" font-size="7.4" text-anchor="middle" >3</text>
<text class="fs" x="241.6" y="221.3" font-size="7.4" text-anchor="end" >3</text>
<text class="fs" x="347.6" y="302" font-size="7.4" text-anchor="middle" >4</text>
<text class="fs" x="241.6" y="196.3" font-size="7.4" text-anchor="end" >4</text>
<text class="fs" x="313" y="311" font-size="8" text-anchor="middle" textLength="42" lengthAdjust="spacingAndGlyphs">Length (mm)</text>
<text class="fs" font-size="8" text-anchor="middle" transform="translate(233.6,232) rotate(-90)" textLength="40" lengthAdjust="spacingAndGlyphs">Width (mm)</text>
<rect x="377" y="186" width="9.3" height="107.5" fill="url(#jet)" stroke="none" stroke-width="1" /><text class="fs" x="388" y="187.39" font-size="4.22" >1.2E+04</text><text class="fs" x="388" y="198.14" font-size="4.22" >1.1E+04</text><text class="fs" x="388" y="208.89" font-size="4.22" >1.0E+04</text><text class="fs" x="388" y="219.34" font-size="3.3" >9250</text><text class="fs" x="388" y="230.09" font-size="3.3" >8500</text><text class="fs" x="388" y="240.84" font-size="3.3" >7675</text><text class="fs" x="388" y="251.59" font-size="3.3" >6850</text><text class="fs" x="388" y="262.34" font-size="3.3" >5750</text><text class="fs" x="388" y="273.09" font-size="3.3" >5100</text><text class="fs" x="388" y="283.84" font-size="3.3" >4250</text><text class="fs" x="388" y="294.59" font-size="3.3" >3400</text><text class="fs" x="374.3" y="181.2" font-size="7.2" textLength="23.5" lengthAdjust="spacing">Intensity</text></g>
<g id="sem"><g clip-path="url(#csem)">
<rect x="432" y="17" width="165" height="125" fill="#4b4b4b" stroke="none" stroke-width="1" />
<rect x="432" y="17" width="165" height="40" fill="#606060" stroke="none" stroke-width="1" />
<polygon points="432,47 433,40.5 441.7,39 450,41 456.7,42.5 460,38.3 466.7,39 475,37.5 481.7,41 491.7,45 500,46 508,44 516,43 516,78 597,78 597,96.5 575,97.5 555,96 535,93.5 515,92.5 495,91.5 470,92 450,93 432,93.5" fill="#666" stroke="none" stroke-width="1" />
<polygon points="432,47 433,40.5 441.7,39 450,41 456.7,42.5 460,38.3 466.7,39 475,37.5 481.7,41 491.7,45 500,46 508,44 516,43 516,78 597,78 597,96.5 575,97.5 555,96 535,93.5 515,92.5 495,91.5 470,92 450,93 432,93.5" fill="#fff" stroke="none" stroke-width="1" filter="url(#nz2)" opacity="0.3"/>
<polygon points="432,47 433,40.5 441.7,39 450,41 456.7,42.5 460,38.3 466.7,39 475,37.5 481.7,41 491.7,45 500,46 508,44 516,43 516,78 597,78 597,96.5 575,97.5 555,96 535,93.5 515,92.5 495,91.5 470,92 450,93 432,93.5" fill="#fff" stroke="none" stroke-width="1" filter="url(#nz3)" opacity="0.35"/>
<rect x="516" y="78" width="81" height="20" fill="#505050" stroke="none" stroke-width="1" opacity="0.45"/>
<polyline points="432,48.8 433,42.3 441.7,40.8 450,42.8 456.7,44.3 460,40.1 466.7,40.8 475,39.3 481.7,42.8 491.7,46.8 500,47.8 508,45.8 516,44.8" fill="none" stroke="#b0b0b0" stroke-width="4.4" filter="url(#nz4)" stroke-linejoin="round" opacity="0.75"/>
<polyline points="432,48.6 433,42.1 441.7,40.6 450,42.6 456.7,44.1 460,39.9 466.7,40.6 475,39.1 481.7,42.6 491.7,46.6 500,47.6 508,45.6 516,44.6" fill="none" stroke="#8e8e8e" stroke-width="3.6" opacity="0.7" filter="url(#bb)"/>
<path d="M458,88 C456,66 468,50 482,50 C498,50 508,62 512,78" fill="none" stroke="#a8a8a8" stroke-width="2.4" opacity="0.55" filter="url(#bb)"/>
<path d="M436,84 C436,66 440,52 446,50 C452,50 455,60 456,70" fill="none" stroke="#a8a8a8" stroke-width="2" opacity="0.45" filter="url(#bb)"/>
<ellipse cx="441" cy="57" rx="3.5" ry="2.5" fill="#d6d6d6" opacity="0.9" filter="url(#bb)"/>
<ellipse cx="450" cy="67" rx="3" ry="5" fill="#d6d6d6" opacity="0.9" filter="url(#bb)"/>
<ellipse cx="446" cy="62" rx="3" ry="2" fill="#d6d6d6" opacity="0.6" filter="url(#bb)"/>
<ellipse cx="482" cy="62.5" rx="2.6" ry="2" fill="#d6d6d6" opacity="0.85" filter="url(#bb)"/>
<ellipse cx="485" cy="80" rx="2.5" ry="2.5" fill="#d6d6d6" opacity="0.8" filter="url(#bb)"/>
<ellipse cx="463" cy="85.5" rx="1.8" ry="1.5" fill="#d6d6d6" opacity="0.8" filter="url(#bb)"/>
<ellipse cx="434" cy="80" rx="2" ry="3" fill="#d6d6d6" opacity="0.6" filter="url(#bb)"/>
<ellipse cx="438" cy="70" rx="2" ry="2" fill="#d6d6d6" opacity="0.5" filter="url(#bb)"/>
<ellipse cx="500" cy="66" rx="3" ry="2" fill="#d6d6d6" opacity="0.5" filter="url(#bb)"/>
<path d="M432,90 C450,90 470,88.5 490,88.5 C510,89 525,92 545,93.5 C565,95.5 585,95 597,93.5 L597,99 C585,100.5 565,101 545,98.5 C525,96.5 510,94 490,93.5 C470,93.5 450,95.5 432,96 Z" fill="#565656"/>
<path d="M432,93.2 C450,93 470,91.4 490,91.6 C510,92 525,94.8 545,96.4 C565,98.4 585,98 597,96.6" fill="none" stroke="#7a7a7a" stroke-width="1" opacity="0.9"/>
<path d="M432,97.5 C450,97 470,95.5 490,95.5 C510,96 525,98.6 545,100.4 C565,102.4 585,102 597,100.6" fill="none" stroke="#3e3e3e" stroke-width="1.6" opacity="0.8" filter="url(#bb)"/>
<ellipse cx="452" cy="96" rx="7" ry="2.2" fill="#343434" opacity="0.8" filter="url(#bb)"/>
<g clip-path="url(#cins)">
<rect x="514" y="17" width="84" height="62" fill="#b2b2b2" stroke="none" stroke-width="1" />
<rect x="514" y="17" width="84" height="62" fill="#fff" stroke="none" stroke-width="1" filter="url(#nz2)" opacity="0.45"/>
<rect x="514" y="17" width="84" height="62" fill="#fff" stroke="none" stroke-width="1" filter="url(#nz3)" opacity="0.42"/>
<path d="M514,58.5 C525,57 540,53 555,50.5 C570,48.5 585,47 597,45 L597,79 L514,79 Z" fill="#8c8c8c"/>
<ellipse cx="521" cy="66" rx="8" ry="8" fill="#a2a2a2" stroke="#686868" stroke-width="0.7"/>
<ellipse cx="536" cy="62" rx="7" ry="7" fill="#8c8c8c" stroke="#686868" stroke-width="0.7"/>
<ellipse cx="549" cy="66" rx="7.5" ry="8" fill="#929292" stroke="#686868" stroke-width="0.7"/>
<ellipse cx="563" cy="58" rx="7.5" ry="7.5" fill="#8a8a8a" stroke="#686868" stroke-width="0.7"/>
<ellipse cx="577" cy="62" rx="7.5" ry="8" fill="#909090" stroke="#686868" stroke-width="0.7"/>
<ellipse cx="591" cy="55" rx="7.5" ry="8" fill="#949494" stroke="#686868" stroke-width="0.7"/>
<ellipse cx="563" cy="72" rx="8" ry="6.5" fill="#8e8e8e" stroke="#686868" stroke-width="0.7"/>
<ellipse cx="536" cy="75" rx="8" ry="6" fill="#868686" stroke="#686868" stroke-width="0.7"/>
<ellipse cx="578" cy="76" rx="7" ry="6" fill="#8a8a8a" stroke="#686868" stroke-width="0.7"/>
<ellipse cx="592" cy="70" rx="6.5" ry="7" fill="#8c8c8c" stroke="#686868" stroke-width="0.7"/>
<ellipse cx="550" cy="79" rx="7" ry="5" fill="#888" stroke="#686868" stroke-width="0.7"/>
<path d="M583,30 C586,36 589,40 591,46 L589.5,47 C587,41 584,37 582,31 Z" fill="#1c1c1c"/>
<path d="M570,22 C573,25 576,27 579,31" stroke="#555" stroke-width="1.2" fill="none"/>
<path d="M529,72.5 L538,74 L536.5,76 L528,74.5 Z" fill="#2a2a2a"/>
</g>
<path d="M528,77.6 H597" stroke="#d8d8d8" stroke-width="1" stroke-dasharray="2.5 1.2 4 0.8" opacity="0.75"/>
<rect x="432" y="103.5" width="49.7" height="38.5" fill="#59646f" stroke="none" stroke-width="1" />
<rect x="434" y="107" width="44" height="31" fill="none" stroke="#6d7883" stroke-width="0.8" rx="2"/>
<text class="fn" x="438" y="121.3" font-size="5.8" fill="#080808" >Center</text>
<ellipse cx="459.6" cy="123.3" rx="2.6" ry="2" fill="none" stroke="#080808" stroke-width="1.1"/>
<text class="fn" x="438.6" y="136.4" font-size="5.8" fill="#e81818" >Edge</text>
<ellipse cx="457.6" cy="137.3" rx="2.6" ry="2" fill="none" stroke="#e81818" stroke-width="1.1"/>
<text class="fn" x="483" y="140.5" font-size="4.3" style="font-weight:normal" fill="#f0f0f0" >x400 SE(M)</text>
<text class="fn" x="582" y="140.8" font-size="4.2" style="font-weight:normal" fill="#f0f0f0" >100um</text>
<rect x="543.2" y="133.8" width="0.9" height="1.2" fill="#f0f0f0" stroke="none" stroke-width="1" />
<rect x="548.55" y="133.8" width="0.9" height="1.2" fill="#f0f0f0" stroke="none" stroke-width="1" />
<rect x="553.9" y="133.8" width="0.9" height="1.2" fill="#f0f0f0" stroke="none" stroke-width="1" />
<rect x="559.25" y="133.8" width="0.9" height="1.2" fill="#f0f0f0" stroke="none" stroke-width="1" />
<rect x="564.6" y="133.8" width="0.9" height="1.2" fill="#f0f0f0" stroke="none" stroke-width="1" />
<rect x="569.95" y="133.8" width="0.9" height="1.2" fill="#f0f0f0" stroke="none" stroke-width="1" />
<rect x="575.3" y="133.8" width="0.9" height="1.2" fill="#f0f0f0" stroke="none" stroke-width="1" />
<rect x="580.65" y="133.8" width="0.9" height="1.2" fill="#f0f0f0" stroke="none" stroke-width="1" />
<rect x="586" y="133.8" width="0.9" height="1.2" fill="#f0f0f0" stroke="none" stroke-width="1" />
<rect x="591.35" y="133.8" width="0.9" height="1.2" fill="#f0f0f0" stroke="none" stroke-width="1" />
<rect x="596.7" y="133.8" width="0.9" height="1.2" fill="#f0f0f0" stroke="none" stroke-width="1" />
<text class="fn" x="560.5" y="130.6" font-size="15.5" fill="#e81414" textLength="29" lengthAdjust="spacingAndGlyphs" stroke="#e81414" stroke-width="0.5">Edge</text>
<ellipse cx="498.3" cy="92.3" rx="6.6" ry="4.7" fill="none" stroke="#ee1010" stroke-width="1.7"/>
<line x1="504.6" y1="89.4" x2="526.5" y2="71.3" stroke="#ee1010" stroke-width="1.9" />
<polygon points="531,67.6 521.6,69.6 526.8,76" fill="#ee1010" stroke="none" stroke-width="1" />
</g></g>
<g id="tof"><rect x="444.6" y="167" width="116" height="114.3" fill="#050202" stroke="none" stroke-width="1" />
<g clip-path="url(#ctof)">
<polygon points="444,212.5 450,211 456,213.5 462,212 468,214.5 474,212.5 480,216 486,213.5 492,216.5 498,214.5 505,215 511,217.5 517,215.5 524,218 531,217 538,220 545,218.5 552,221 561,221.5 561,231 550,230.5 540,229.5 530,230.5 520,228.5 510,230 500,227.5 490,229.5 482,226.5 472,228.5 462,226.5 452,228.5 444,228" fill="#8a2400" stroke="none" stroke-width="1" filter="url(#bb2)"/>
<polygon points="444,213.5 450,212 456,214.5 462,213 468,215.5 474,213.5 480,217 486,214.5 492,217.5 498,215.5 505,216 511,218.5 517,216.5 524,219 531,218 538,221 545,219.5 552,222 561,222.5 561,230 550,229.5 540,228.5 530,229.5 520,227.5 510,229 500,226.5 490,228.5 482,225.5 472,227.5 462,225.5 452,227.5 444,227" fill="#e08a10" stroke="none" stroke-width="1" filter="url(#bb)"/>
<polygon points="444,214.7 450,213.2 456,215.7 462,214.2 468,216.7 474,214.7 480,218.2 486,215.7 492,218.7 498,216.7 505,217.2 511,219.7 517,217.7 524,220.2 531,219.2 538,222.2 545,220.7 552,223.2 561,223.7 561,229 550,228.5 540,227.5 530,228.5 520,226.5 510,228 500,225.5 490,227.5 482,224.5 472,226.5 462,224.5 452,226.5 444,226" fill="#f8e02c" stroke="none" stroke-width="1" filter="url(#bb)"/>
<polygon points="444,212.5 450,211 456,213.5 462,212 468,214.5 474,212.5 480,216 486,213.5 492,216.5 498,214.5 505,215 511,217.5 517,215.5 524,218 531,217 538,220 545,218.5 552,221 561,221.5 561,231 550,230.5 540,229.5 530,230.5 520,228.5 510,230 500,227.5 490,229.5 482,226.5 472,228.5 462,226.5 452,228.5 444,228" fill="#000" stroke="none" stroke-width="1" filter="url(#nzy)" opacity="0.6"/>
<ellipse cx="473" cy="225" rx="3" ry="1.8" fill="#4a0c00" opacity="0.75" filter="url(#bb)"/>
<ellipse cx="489" cy="226" rx="3.5" ry="1.8" fill="#4a0c00" opacity="0.75" filter="url(#bb)"/>
<ellipse cx="506" cy="226.5" rx="3" ry="1.6" fill="#4a0c00" opacity="0.75" filter="url(#bb)"/>
<ellipse cx="456" cy="225" rx="2.5" ry="1.5" fill="#4a0c00" opacity="0.75" filter="url(#bb)"/>
<ellipse cx="522" cy="227.8" rx="3" ry="1.4" fill="#4a0c00" opacity="0.75" filter="url(#bb)"/>
<ellipse cx="466" cy="217" rx="2" ry="1.4" fill="#4a0c00" opacity="0.75" filter="url(#bb)"/>
<ellipse cx="497" cy="219" rx="2" ry="1.3" fill="#4a0c00" opacity="0.75" filter="url(#bb)"/>
<polygon points="444,230.3 470,231 500,233 530,235.6 550,237.6 561,239 561,243 550,242.4 530,241 500,239.2 470,237.4 444,236" fill="#c05000" stroke="none" stroke-width="1" filter="url(#bb2)" opacity="0.9"/>
<polygon points="444,230.3 470,231 500,233 530,235.6 550,237.6 561,239 561,243 550,242.4 530,241 500,239.2 470,237.4 444,236" fill="#f8c828" stroke="none" stroke-width="1" filter="url(#bbs)"/>
<polygon points="444,231 470,231.8 500,233.8 530,236.6 545,238.2 545,240.6 530,240 500,238.2 470,236.4 444,235.2" fill="#fff6a0" stroke="none" stroke-width="1" filter="url(#bbs)"/>
<polygon points="444,232 470,232.8 500,234.8 525,237 525,238.8 500,237.2 470,235.4 444,234.2" fill="#fffde4" stroke="none" stroke-width="1" filter="url(#bbs)"/>
</g>
<text class="fn" x="520.5" y="269.5" font-size="17" style="font-weight:normal" fill="#fff" >Ag<tspan font-size="11" dy="-5.8">+</tspan></text>
<rect x="444.2" y="166.6" width="116.8" height="115.1" fill="none" stroke="#999" stroke-width="0.8" />
<line x1="444.6" y1="281.3" x2="444.6" y2="284.1" stroke="#555" stroke-width="0.8" />
<line x1="444.6" y1="167" x2="444.6" y2="164.2" stroke="#555" stroke-width="0.8" />
<line x1="444.6" y1="281.3" x2="441.8" y2="281.3" stroke="#555" stroke-width="0.8" />
<line x1="560.6" y1="281.3" x2="563.4" y2="281.3" stroke="#555" stroke-width="0.8" />
<line x1="448.47" y1="281.3" x2="448.47" y2="282.7" stroke="#555" stroke-width="0.8" />
<line x1="448.47" y1="167" x2="448.47" y2="165.6" stroke="#555" stroke-width="0.8" />
<line x1="444.6" y1="277.49" x2="443.2" y2="277.49" stroke="#555" stroke-width="0.8" />
<line x1="560.6" y1="277.49" x2="562" y2="277.49" stroke="#555" stroke-width="0.8" />
<line x1="452.33" y1="281.3" x2="452.33" y2="282.7" stroke="#555" stroke-width="0.8" />
<line x1="452.33" y1="167" x2="452.33" y2="165.6" stroke="#555" stroke-width="0.8" />
<line x1="444.6" y1="273.68" x2="443.2" y2="273.68" stroke="#555" stroke-width="0.8" />
<line x1="560.6" y1="273.68" x2="562" y2="273.68" stroke="#555" stroke-width="0.8" />
<line x1="456.2" y1="281.3" x2="456.2" y2="282.7" stroke="#555" stroke-width="0.8" />
<line x1="456.2" y1="167" x2="456.2" y2="165.6" stroke="#555" stroke-width="0.8" />
<line x1="444.6" y1="269.87" x2="443.2" y2="269.87" stroke="#555" stroke-width="0.8" />
<line x1="560.6" y1="269.87" x2="562" y2="269.87" stroke="#555" stroke-width="0.8" />
<line x1="460.07" y1="281.3" x2="460.07" y2="282.7" stroke="#555" stroke-width="0.8" />
<line x1="460.07" y1="167" x2="460.07" y2="165.6" stroke="#555" stroke-width="0.8" />
<line x1="444.6" y1="266.06" x2="443.2" y2="266.06" stroke="#555" stroke-width="0.8" />
<line x1="560.6" y1="266.06" x2="562" y2="266.06" stroke="#555" stroke-width="0.8" />
<line x1="463.93" y1="281.3" x2="463.93" y2="283.3" stroke="#555" stroke-width="0.8" />
<line x1="463.93" y1="167" x2="463.93" y2="165" stroke="#555" stroke-width="0.8" />
<line x1="444.6" y1="262.25" x2="442.6" y2="262.25" stroke="#555" stroke-width="0.8" />
<line x1="560.6" y1="262.25" x2="562.6" y2="262.25" stroke="#555" stroke-width="0.8" />
<line x1="467.8" y1="281.3" x2="467.8" y2="282.7" stroke="#555" stroke-width="0.8" />
<line x1="467.8" y1="167" x2="467.8" y2="165.6" stroke="#555" stroke-width="0.8" />
<line x1="444.6" y1="258.44" x2="443.2" y2="258.44" stroke="#555" stroke-width="0.8" />
<line x1="560.6" y1="258.44" x2="562" y2="258.44" stroke="#555" stroke-width="0.8" />
<line x1="471.67" y1="281.3" x2="471.67" y2="282.7" stroke="#555" stroke-width="0.8" />
<line x1="471.67" y1="167" x2="471.67" y2="165.6" stroke="#555" stroke-width="0.8" />
<line x1="444.6" y1="254.63" x2="443.2" y2="254.63" stroke="#555" stroke-width="0.8" />
<line x1="560.6" y1="254.63" x2="562" y2="254.63" stroke="#555" stroke-width="0.8" />
<line x1="475.53" y1="281.3" x2="475.53" y2="282.7" stroke="#555" stroke-width="0.8" />
<line x1="475.53" y1="167" x2="475.53" y2="165.6" stroke="#555" stroke-width="0.8" />
<line x1="444.6" y1="250.82" x2="443.2" y2="250.82" stroke="#555" stroke-width="0.8" />
<line x1="560.6" y1="250.82" x2="562" y2="250.82" stroke="#555" stroke-width="0.8" />
<line x1="479.4" y1="281.3" x2="479.4" y2="282.7" stroke="#555" stroke-width="0.8" />
<line x1="479.4" y1="167" x2="479.4" y2="165.6" stroke="#555" stroke-width="0.8" />
<line x1="444.6" y1="247.01" x2="443.2" y2="247.01" stroke="#555" stroke-width="0.8" />
<line x1="560.6" y1="247.01" x2="562" y2="247.01" stroke="#555" stroke-width="0.8" />
<line x1="483.27" y1="281.3" x2="483.27" y2="284.1" stroke="#555" stroke-width="0.8" />
<line x1="483.27" y1="167" x2="483.27" y2="164.2" stroke="#555" stroke-width="0.8" />
<line x1="444.6" y1="243.2" x2="441.8" y2="243.2" stroke="#555" stroke-width="0.8" />
<line x1="560.6" y1="243.2" x2="563.4" y2="243.2" stroke="#555" stroke-width="0.8" />
<line x1="487.13" y1="281.3" x2="487.13" y2="282.7" stroke="#555" stroke-width="0.8" />
<line x1="487.13" y1="167" x2="487.13" y2="165.6" stroke="#555" stroke-width="0.8" />
<line x1="444.6" y1="239.39" x2="443.2" y2="239.39" stroke="#555" stroke-width="0.8" />
<line x1="560.6" y1="239.39" x2="562" y2="239.39" stroke="#555" stroke-width="0.8" />
<line x1="491" y1="281.3" x2="491" y2="282.7" stroke="#555" stroke-width="0.8" />
<line x1="491" y1="167" x2="491" y2="165.6" stroke="#555" stroke-width="0.8" />
<line x1="444.6" y1="235.58" x2="443.2" y2="235.58" stroke="#555" stroke-width="0.8" />
<line x1="560.6" y1="235.58" x2="562" y2="235.58" stroke="#555" stroke-width="0.8" />
<line x1="494.87" y1="281.3" x2="494.87" y2="282.7" stroke="#555" stroke-width="0.8" />
<line x1="494.87" y1="167" x2="494.87" y2="165.6" stroke="#555" stroke-width="0.8" />
<line x1="444.6" y1="231.77" x2="443.2" y2="231.77" stroke="#555" stroke-width="0.8" />
<line x1="560.6" y1="231.77" x2="562" y2="231.77" stroke="#555" stroke-width="0.8" />
<line x1="498.73" y1="281.3" x2="498.73" y2="282.7" stroke="#555" stroke-width="0.8" />
<line x1="498.73" y1="167" x2="498.73" y2="165.6" stroke="#555" stroke-width="0.8" />
<line x1="444.6" y1="227.96" x2="443.2" y2="227.96" stroke="#555" stroke-width="0.8" />
<line x1="560.6" y1="227.96" x2="562" y2="227.96" stroke="#555" stroke-width="0.8" />
<line x1="502.6" y1="281.3" x2="502.6" y2="283.3" stroke="#555" stroke-width="0.8" />
<line x1="502.6" y1="167" x2="502.6" y2="165" stroke="#555" stroke-width="0.8" />
<line x1="444.6" y1="224.15" x2="442.6" y2="224.15" stroke="#555" stroke-width="0.8" />
<line x1="560.6" y1="224.15" x2="562.6" y2="224.15" stroke="#555" stroke-width="0.8" />
<line x1="506.47" y1="281.3" x2="506.47" y2="282.7" stroke="#555" stroke-width="0.8" />
<line x1="506.47" y1="167" x2="506.47" y2="165.6" stroke="#555" stroke-width="0.8" />
<line x1="444.6" y1="220.34" x2="443.2" y2="220.34" stroke="#555" stroke-width="0.8" />
<line x1="560.6" y1="220.34" x2="562" y2="220.34" stroke="#555" stroke-width="0.8" />
<line x1="510.33" y1="281.3" x2="510.33" y2="282.7" stroke="#555" stroke-width="0.8" />
<line x1="510.33" y1="167" x2="510.33" y2="165.6" stroke="#555" stroke-width="0.8" />
<line x1="444.6" y1="216.53" x2="443.2" y2="216.53" stroke="#555" stroke-width="0.8" />
<line x1="560.6" y1="216.53" x2="562" y2="216.53" stroke="#555" stroke-width="0.8" />
<line x1="514.2" y1="281.3" x2="514.2" y2="282.7" stroke="#555" stroke-width="0.8" />
<line x1="514.2" y1="167" x2="514.2" y2="165.6" stroke="#555" stroke-width="0.8" />
<line x1="444.6" y1="212.72" x2="443.2" y2="212.72" stroke="#555" stroke-width="0.8" />
<line x1="560.6" y1="212.72" x2="562" y2="212.72" stroke="#555" stroke-width="0.8" />
<line x1="518.07" y1="281.3" x2="518.07" y2="282.7" stroke="#555" stroke-width="0.8" />
<line x1="518.07" y1="167" x2="518.07" y2="165.6" stroke="#555" stroke-width="0.8" />
<line x1="444.6" y1="208.91" x2="443.2" y2="208.91" stroke="#555" stroke-width="0.8" />
<line x1="560.6" y1="208.91" x2="562" y2="208.91" stroke="#555" stroke-width="0.8" />
<line x1="521.93" y1="281.3" x2="521.93" y2="284.1" stroke="#555" stroke-width="0.8" />
<line x1="521.93" y1="167" x2="521.93" y2="164.2" stroke="#555" stroke-width="0.8" />
<line x1="444.6" y1="205.1" x2="441.8" y2="205.1" stroke="#555" stroke-width="0.8" />
<line x1="560.6" y1="205.1" x2="563.4" y2="205.1" stroke="#555" stroke-width="0.8" />
<line x1="525.8" y1="281.3" x2="525.8" y2="282.7" stroke="#555" stroke-width="0.8" />
<line x1="525.8" y1="167" x2="525.8" y2="165.6" stroke="#555" stroke-width="0.8" />
<line x1="444.6" y1="201.29" x2="443.2" y2="201.29" stroke="#555" stroke-width="0.8" />
<line x1="560.6" y1="201.29" x2="562" y2="201.29" stroke="#555" stroke-width="0.8" />
<line x1="529.67" y1="281.3" x2="529.67" y2="282.7" stroke="#555" stroke-width="0.8" />
<line x1="529.67" y1="167" x2="529.67" y2="165.6" stroke="#555" stroke-width="0.8" />
<line x1="444.6" y1="197.48" x2="443.2" y2="197.48" stroke="#555" stroke-width="0.8" />
<line x1="560.6" y1="197.48" x2="562" y2="197.48" stroke="#555" stroke-width="0.8" />
<line x1="533.53" y1="281.3" x2="533.53" y2="282.7" stroke="#555" stroke-width="0.8" />
<line x1="533.53" y1="167" x2="533.53" y2="165.6" stroke="#555" stroke-width="0.8" />
<line x1="444.6" y1="193.67" x2="443.2" y2="193.67" stroke="#555" stroke-width="0.8" />
<line x1="560.6" y1="193.67" x2="562" y2="193.67" stroke="#555" stroke-width="0.8" />
<line x1="537.4" y1="281.3" x2="537.4" y2="282.7" stroke="#555" stroke-width="0.8" />
<line x1="537.4" y1="167" x2="537.4" y2="165.6" stroke="#555" stroke-width="0.8" />
<line x1="444.6" y1="189.86" x2="443.2" y2="189.86" stroke="#555" stroke-width="0.8" />
<line x1="560.6" y1="189.86" x2="562" y2="189.86" stroke="#555" stroke-width="0.8" />
<line x1="541.27" y1="281.3" x2="541.27" y2="283.3" stroke="#555" stroke-width="0.8" />
<line x1="541.27" y1="167" x2="541.27" y2="165" stroke="#555" stroke-width="0.8" />
<line x1="444.6" y1="186.05" x2="442.6" y2="186.05" stroke="#555" stroke-width="0.8" />
<line x1="560.6" y1="186.05" x2="562.6" y2="186.05" stroke="#555" stroke-width="0.8" />
<line x1="545.13" y1="281.3" x2="545.13" y2="282.7" stroke="#555" stroke-width="0.8" />
<line x1="545.13" y1="167" x2="545.13" y2="165.6" stroke="#555" stroke-width="0.8" />
<line x1="444.6" y1="182.24" x2="443.2" y2="182.24" stroke="#555" stroke-width="0.8" />
<line x1="560.6" y1="182.24" x2="562" y2="182.24" stroke="#555" stroke-width="0.8" />
<line x1="549" y1="281.3" x2="549" y2="282.7" stroke="#555" stroke-width="0.8" />
<line x1="549" y1="167" x2="549" y2="165.6" stroke="#555" stroke-width="0.8" />
<line x1="444.6" y1="178.43" x2="443.2" y2="178.43" stroke="#555" stroke-width="0.8" />
<line x1="560.6" y1="178.43" x2="562" y2="178.43" stroke="#555" stroke-width="0.8" />
<line x1="552.87" y1="281.3" x2="552.87" y2="282.7" stroke="#555" stroke-width="0.8" />
<line x1="552.87" y1="167" x2="552.87" y2="165.6" stroke="#555" stroke-width="0.8" />
<line x1="444.6" y1="174.62" x2="443.2" y2="174.62" stroke="#555" stroke-width="0.8" />
<line x1="560.6" y1="174.62" x2="562" y2="174.62" stroke="#555" stroke-width="0.8" />
<line x1="556.73" y1="281.3" x2="556.73" y2="282.7" stroke="#555" stroke-width="0.8" />
<line x1="556.73" y1="167" x2="556.73" y2="165.6" stroke="#555" stroke-width="0.8" />
<line x1="444.6" y1="170.81" x2="443.2" y2="170.81" stroke="#555" stroke-width="0.8" />
<line x1="560.6" y1="170.81" x2="562" y2="170.81" stroke="#555" stroke-width="0.8" />
<line x1="560.6" y1="281.3" x2="560.6" y2="284.1" stroke="#555" stroke-width="0.8" />
<line x1="560.6" y1="167" x2="560.6" y2="164.2" stroke="#555" stroke-width="0.8" />
<line x1="444.6" y1="167" x2="441.8" y2="167" stroke="#555" stroke-width="0.8" />
<line x1="560.6" y1="167" x2="563.4" y2="167" stroke="#555" stroke-width="0.8" />
<text class="fn" x="441" y="282.8" font-size="4.2" style="font-weight:normal" text-anchor="end" fill="#333" >0</text>
<text class="fn" x="441" y="263.75" font-size="4.2" style="font-weight:normal" text-anchor="end" fill="#333" >50</text>
<text class="fn" x="441" y="244.7" font-size="4.2" style="font-weight:normal" text-anchor="end" fill="#333" >100</text>
<text class="fn" x="441" y="225.65" font-size="4.2" style="font-weight:normal" text-anchor="end" fill="#333" >150</text>
<text class="fn" x="441" y="206.6" font-size="4.2" style="font-weight:normal" text-anchor="end" fill="#333" >200</text>
<text class="fn" x="441" y="187.55" font-size="4.2" style="font-weight:normal" text-anchor="end" fill="#333" >250</text>
<text class="fn" x="441" y="168.5" font-size="4.2" style="font-weight:normal" text-anchor="end" fill="#333" >300</text>
<text class="fn" x="444.6" y="290.7" font-size="3.8" style="font-weight:normal" text-anchor="middle" fill="#222" >0</text>
<text class="fn" x="483.27" y="290.7" font-size="3.8" style="font-weight:normal" text-anchor="middle" fill="#222" >100</text>
<text class="fn" x="521.93" y="290.7" font-size="3.8" style="font-weight:normal" text-anchor="middle" fill="#222" >200</text>
<text class="fn" x="560.6" y="290.7" font-size="3.8" style="font-weight:normal" text-anchor="middle" fill="#222" >300</text>
<text class="fn" x="431.5" y="290.7" font-size="3.6" style="font-weight:normal" fill="#222" >μm</text>
<text class="fn" x="445" y="300" font-size="6.3" style="font-weight:normal" fill="#222" >Ag+</text>
<text class="fn" x="445" y="307.6" font-size="6.3" style="font-weight:normal" fill="#222" >MC:</text>
<text class="fn" x="464" y="307.6" font-size="6.3" style="font-weight:normal" fill="#222" textLength="58" lengthAdjust="spacingAndGlyphs">45; TC: 8.133e+004</text>
<rect x="568.6" y="167" width="8" height="115.3" fill="url(#hot)" stroke="#555" stroke-width="0.6" />
<line x1="576.6" y1="282.3" x2="578.2" y2="282.3" stroke="#444" stroke-width="0.5" />
<text class="fn" x="579" y="283.8" font-size="4.2" style="font-weight:normal" fill="#222" >0</text>
<line x1="576.6" y1="256.68" x2="578.2" y2="256.68" stroke="#444" stroke-width="0.5" />
<text class="fn" x="579" y="258.18" font-size="4.2" style="font-weight:normal" fill="#222" >10</text>
<line x1="576.6" y1="231.06" x2="578.2" y2="231.06" stroke="#444" stroke-width="0.5" />
<text class="fn" x="579" y="232.56" font-size="4.2" style="font-weight:normal" fill="#222" >20</text>
<line x1="576.6" y1="205.43" x2="578.2" y2="205.43" stroke="#444" stroke-width="0.5" />
<text class="fn" x="579" y="206.93" font-size="4.2" style="font-weight:normal" fill="#222" >30</text>
<line x1="576.6" y1="179.81" x2="578.2" y2="179.81" stroke="#444" stroke-width="0.5" />
<text class="fn" x="579" y="181.31" font-size="4.2" style="font-weight:normal" fill="#222" >40</text></g>
<g id="pc"><text class="fs" x="14.5" y="340.5" font-size="15.5" >c</text>
<text class="fs" x="73" y="347" font-size="10.2" >Small and losse</text>
<text class="fs" x="73" y="359.3" font-size="10.2" >Ag clusters</text>
<rect x="86" y="385.5" width="88" height="25" fill="#6a2c9e" stroke="none" stroke-width="1" />
<rect x="86" y="410" width="88" height="14.3" fill="#f3b60e" stroke="none" stroke-width="1" />
<rect x="86" y="424" width="88" height="54.3" fill="#7a3131" stroke="none" stroke-width="1" />
<circle cx="88.5" cy="383.2" r="2.6" fill="url(#ag1)" stroke="none" stroke-width="1" />
<circle cx="93.1" cy="383.2" r="2.6" fill="url(#ag1)" stroke="none" stroke-width="1" />
<circle cx="97.7" cy="383.2" r="2.6" fill="url(#ag1)" stroke="none" stroke-width="1" />
<circle cx="102.3" cy="383.2" r="2.6" fill="url(#ag1)" stroke="none" stroke-width="1" />
<circle cx="106.9" cy="383.2" r="2.6" fill="url(#ag1)" stroke="none" stroke-width="1" />
<circle cx="111.5" cy="383.2" r="2.6" fill="url(#ag1)" stroke="none" stroke-width="1" />
<circle cx="116.1" cy="383.2" r="2.6" fill="url(#ag1)" stroke="none" stroke-width="1" />
<circle cx="120.7" cy="383.2" r="2.6" fill="url(#ag1)" stroke="none" stroke-width="1" />
<circle cx="125.3" cy="383.2" r="2.6" fill="url(#ag1)" stroke="none" stroke-width="1" />
<circle cx="129.9" cy="383.2" r="2.6" fill="url(#ag1)" stroke="none" stroke-width="1" />
<circle cx="134.5" cy="383.2" r="2.6" fill="url(#ag1)" stroke="none" stroke-width="1" />
<circle cx="139.1" cy="383.2" r="2.6" fill="url(#ag1)" stroke="none" stroke-width="1" />
<circle cx="143.7" cy="383.2" r="2.6" fill="url(#ag1)" stroke="none" stroke-width="1" />
<circle cx="148.3" cy="383.2" r="2.6" fill="url(#ag1)" stroke="none" stroke-width="1" />
<circle cx="90.8" cy="379.2" r="2.6" fill="url(#ag1)" stroke="none" stroke-width="1" />
<circle cx="95.4" cy="379.2" r="2.6" fill="url(#ag1)" stroke="none" stroke-width="1" />
<circle cx="100" cy="379.2" r="2.6" fill="url(#ag1)" stroke="none" stroke-width="1" />
<circle cx="104.6" cy="379.2" r="2.6" fill="url(#ag1)" stroke="none" stroke-width="1" />
<circle cx="109.2" cy="379.2" r="2.6" fill="url(#ag1)" stroke="none" stroke-width="1" />
<circle cx="113.8" cy="379.2" r="2.6" fill="url(#ag1)" stroke="none" stroke-width="1" />
<circle cx="118.4" cy="379.2" r="2.6" fill="url(#ag1)" stroke="none" stroke-width="1" />
<circle cx="123" cy="379.2" r="2.6" fill="url(#ag1)" stroke="none" stroke-width="1" />
<circle cx="127.6" cy="379.2" r="2.6" fill="url(#ag1)" stroke="none" stroke-width="1" />
<circle cx="132.2" cy="379.2" r="2.6" fill="url(#ag1)" stroke="none" stroke-width="1" />
<circle cx="136.8" cy="379.2" r="2.6" fill="url(#ag1)" stroke="none" stroke-width="1" />
<circle cx="88.5" cy="375.2" r="2.6" fill="url(#ag1)" stroke="none" stroke-width="1" />
<circle cx="93.1" cy="375.2" r="2.6" fill="url(#ag1)" stroke="none" stroke-width="1" />
<circle cx="97.7" cy="375.2" r="2.6" fill="url(#ag1)" stroke="none" stroke-width="1" />
<circle cx="102.3" cy="375.2" r="2.6" fill="url(#ag1)" stroke="none" stroke-width="1" />
<circle cx="106.9" cy="375.2" r="2.6" fill="url(#ag1)" stroke="none" stroke-width="1" />
<circle cx="111.5" cy="375.2" r="2.6" fill="url(#ag1)" stroke="none" stroke-width="1" />
<circle cx="116.1" cy="375.2" r="2.6" fill="url(#ag1)" stroke="none" stroke-width="1" />
<circle cx="120.7" cy="375.2" r="2.6" fill="url(#ag1)" stroke="none" stroke-width="1" />
<circle cx="125.3" cy="375.2" r="2.6" fill="url(#ag1)" stroke="none" stroke-width="1" />
<circle cx="90.8" cy="371.2" r="2.6" fill="url(#ag1)" stroke="none" stroke-width="1" />
<circle cx="95.4" cy="371.2" r="2.6" fill="url(#ag1)" stroke="none" stroke-width="1" />
<circle cx="100" cy="371.2" r="2.6" fill="url(#ag1)" stroke="none" stroke-width="1" />
<circle cx="104.6" cy="371.2" r="2.6" fill="url(#ag1)" stroke="none" stroke-width="1" />
<circle cx="109.2" cy="371.2" r="2.6" fill="url(#ag1)" stroke="none" stroke-width="1" />
<circle cx="113.8" cy="371.2" r="2.6" fill="url(#ag1)" stroke="none" stroke-width="1" />
<circle cx="118.4" cy="371.2" r="2.6" fill="url(#ag1)" stroke="none" stroke-width="1" />
<circle cx="123" cy="371.2" r="2.6" fill="url(#ag1)" stroke="none" stroke-width="1" />
<circle cx="93" cy="367.6" r="2.6" fill="url(#ag1)" stroke="none" stroke-width="1" />
<circle cx="97.6" cy="367.6" r="2.6" fill="url(#ag1)" stroke="none" stroke-width="1" />
<circle cx="102.2" cy="367.6" r="2.6" fill="url(#ag1)" stroke="none" stroke-width="1" />
<circle cx="106.8" cy="367.6" r="2.6" fill="url(#ag1)" stroke="none" stroke-width="1" />
<circle cx="111.4" cy="367.6" r="2.6" fill="url(#ag1)" stroke="none" stroke-width="1" />
<circle cx="116" cy="367.6" r="2.6" fill="url(#ag1)" stroke="none" stroke-width="1" />
<circle cx="120.6" cy="367.6" r="2.6" fill="url(#ag1)" stroke="none" stroke-width="1" />
<text class="fs" x="92.4" y="378.8" font-size="8.8" fill="#f2f2f2" >Ag</text>
<polyline points="88.5,376.8 74.3,376.8 74.3,415.8" fill="none" stroke="#000" stroke-width="1.3" /><line x1="63.5" y1="415.8" x2="85.1" y2="415.8" stroke="#000" stroke-width="1.3" /><line x1="69.3" y1="423.3" x2="79.3" y2="423.3" stroke="#000" stroke-width="1.3" /><line x1="74.3" y1="423.3" x2="74.3" y2="462.3" stroke="#000" stroke-width="1.3" />
<text class="fs" x="89" y="394.5" font-size="7.5" fill="#fff" >Spiro-OMeTAD</text>
<text class="fs" x="89" y="419.4" font-size="7.4" fill="#fbeec0" >PbI<tspan font-size="4.8" dy="1.5">2</tspan></text>
<text class="fs" x="90" y="469.8" font-size="7.5" fill="#fff" >Perovskite</text>
<polygon points="123,407.5 126.5,412.1 125,412.1 125,431.5 121,431.5 121,412.1 119.5,412.1" fill="#fff" stroke="#111" stroke-width="0.7" />
<line x1="120.6" y1="417.5" x2="125.4" y2="422.5" stroke="#e01818" stroke-width="0.9" />
<line x1="125.4" y1="417.5" x2="120.6" y2="422.5" stroke="#e01818" stroke-width="0.9" />
<text class="fs" x="134" y="432.4" font-size="11.2" fill="#fff" >I<tspan font-size="7" dy="2.2">2</tspan></text>
<text class="fs" x="113" y="443" font-size="9.6" fill="#fff" >MAI<tspan font-size="6" dy="2">x</tspan></text>
<path d="M138.5,418.5 C138,408 147.5,407 149.3,394.5" fill="none" stroke="#e01020" stroke-width="2"/>
<polygon points="150.6,390.4 147,395 152.2,395.8" fill="#e01020" stroke="none" stroke-width="1" />
<polygon points="179,438 191.5,426.3 191.5,432.3 236.3,432.3 236.3,444 191.5,444 191.5,449.8" fill="url(#arr)" stroke="#3a3a3a" stroke-width="0.9" />
<text class="fs" x="213" y="400.3" font-size="10" text-anchor="middle" >Insert</text>
<text class="fs" x="213" y="412.3" font-size="10" text-anchor="middle" >PbI<tspan font-size="6.4" dy="2">2</tspan></text>
<text class="fs" x="213" y="424.6" font-size="10" text-anchor="middle" >layer</text>
<rect x="265.5" y="399.4" width="88.5" height="25" fill="#6a2c9e" stroke="none" stroke-width="1" />
<rect x="265.5" y="424.2" width="88.5" height="53.6" fill="#7a3131" stroke="none" stroke-width="1" />
<circle cx="268" cy="396.8" r="2.6" fill="url(#ag1)" stroke="none" stroke-width="1" />
<circle cx="272.6" cy="396.8" r="2.6" fill="url(#ag1)" stroke="none" stroke-width="1" />
<circle cx="277.2" cy="396.8" r="2.6" fill="url(#ag1)" stroke="none" stroke-width="1" />
<circle cx="281.8" cy="396.8" r="2.6" fill="url(#ag1)" stroke="none" stroke-width="1" />
<circle cx="286.4" cy="396.8" r="2.6" fill="url(#ag1)" stroke="none" stroke-width="1" />
<circle cx="291" cy="396.8" r="2.6" fill="url(#ag1)" stroke="none" stroke-width="1" />
<circle cx="295.6" cy="396.8" r="2.6" fill="url(#ag1)" stroke="none" stroke-width="1" />
<circle cx="300.2" cy="396.8" r="2.6" fill="url(#ag1)" stroke="none" stroke-width="1" />
<circle cx="304.8" cy="396.8" r="2.6" fill="url(#ag1)" stroke="none" stroke-width="1" />
<circle cx="309.4" cy="396.8" r="2.6" fill="url(#ag1)" stroke="none" stroke-width="1" />
<circle cx="314" cy="396.8" r="2.6" fill="url(#ag1)" stroke="none" stroke-width="1" />
<circle cx="318.6" cy="396.8" r="2.6" fill="url(#ag1)" stroke="none" stroke-width="1" />
<circle cx="323.2" cy="396.8" r="2.6" fill="url(#ag1)" stroke="none" stroke-width="1" />
<circle cx="327.8" cy="396.8" r="2.6" fill="url(#ag1)" stroke="none" stroke-width="1" />
<circle cx="270.3" cy="392.8" r="2.6" fill="url(#ag1)" stroke="none" stroke-width="1" />
<circle cx="274.9" cy="392.8" r="2.6" fill="url(#ag1)" stroke="none" stroke-width="1" />
<circle cx="279.5" cy="392.8" r="2.6" fill="url(#ag1)" stroke="none" stroke-width="1" />
<circle cx="284.1" cy="392.8" r="2.6" fill="url(#ag1)" stroke="none" stroke-width="1" />
<circle cx="288.7" cy="392.8" r="2.6" fill="url(#ag1)" stroke="none" stroke-width="1" />
<circle cx="293.3" cy="392.8" r="2.6" fill="url(#ag1)" stroke="none" stroke-width="1" />
<circle cx="297.9" cy="392.8" r="2.6" fill="url(#ag1)" stroke="none" stroke-width="1" />
<circle cx="302.5" cy="392.8" r="2.6" fill="url(#ag1)" stroke="none" stroke-width="1" />
<circle cx="307.1" cy="392.8" r="2.6" fill="url(#ag1)" stroke="none" stroke-width="1" />
<circle cx="311.7" cy="392.8" r="2.6" fill="url(#ag1)" stroke="none" stroke-width="1" />
<circle cx="316.3" cy="392.8" r="2.6" fill="url(#ag1)" stroke="none" stroke-width="1" />
<circle cx="320.9" cy="392.8" r="2.6" fill="url(#ag1)" stroke="none" stroke-width="1" />
<circle cx="268" cy="388.8" r="2.6" fill="url(#ag1)" stroke="none" stroke-width="1" />
<circle cx="272.6" cy="388.8" r="2.6" fill="url(#ag1)" stroke="none" stroke-width="1" />
<circle cx="277.2" cy="388.8" r="2.6" fill="url(#ag1)" stroke="none" stroke-width="1" />
<circle cx="281.8" cy="388.8" r="2.6" fill="url(#ag1)" stroke="none" stroke-width="1" />
<circle cx="286.4" cy="388.8" r="2.6" fill="url(#ag1)" stroke="none" stroke-width="1" />
<circle cx="291" cy="388.8" r="2.6" fill="url(#ag1)" stroke="none" stroke-width="1" />
<circle cx="295.6" cy="388.8" r="2.6" fill="url(#ag1)" stroke="none" stroke-width="1" />
<circle cx="300.2" cy="388.8" r="2.6" fill="url(#ag1)" stroke="none" stroke-width="1" />
<circle cx="304.8" cy="388.8" r="2.6" fill="url(#ag1)" stroke="none" stroke-width="1" />
<circle cx="309.4" cy="388.8" r="2.6" fill="url(#ag1)" stroke="none" stroke-width="1" />
<circle cx="270.3" cy="384.8" r="2.6" fill="url(#ag1)" stroke="none" stroke-width="1" />
<circle cx="274.9" cy="384.8" r="2.6" fill="url(#ag1)" stroke="none" stroke-width="1" />
<circle cx="279.5" cy="384.8" r="2.6" fill="url(#ag1)" stroke="none" stroke-width="1" />
<circle cx="284.1" cy="384.8" r="2.6" fill="url(#ag1)" stroke="none" stroke-width="1" />
<circle cx="288.7" cy="384.8" r="2.6" fill="url(#ag1)" stroke="none" stroke-width="1" />
<circle cx="293.3" cy="384.8" r="2.6" fill="url(#ag1)" stroke="none" stroke-width="1" />
<circle cx="297.9" cy="384.8" r="2.6" fill="url(#ag1)" stroke="none" stroke-width="1" />
<circle cx="302.5" cy="384.8" r="2.6" fill="url(#ag1)" stroke="none" stroke-width="1" />
<circle cx="272.6" cy="381" r="2.6" fill="url(#ag1)" stroke="none" stroke-width="1" />
<circle cx="277.2" cy="381" r="2.6" fill="url(#ag1)" stroke="none" stroke-width="1" />
<circle cx="281.8" cy="381" r="2.6" fill="url(#ag1)" stroke="none" stroke-width="1" />
<circle cx="286.4" cy="381" r="2.6" fill="url(#ag1)" stroke="none" stroke-width="1" />
<circle cx="291" cy="381" r="2.6" fill="url(#ag1)" stroke="none" stroke-width="1" />
<circle cx="295.6" cy="381" r="2.6" fill="url(#ag1)" stroke="none" stroke-width="1" />
<circle cx="300.2" cy="381" r="2.6" fill="url(#ag1)" stroke="none" stroke-width="1" />
<polyline points="268,390 252,390 252,427" fill="none" stroke="#000" stroke-width="1.3" /><line x1="241.5" y1="427" x2="262.5" y2="427" stroke="#000" stroke-width="1.3" /><line x1="246.8" y1="433.2" x2="257.2" y2="433.2" stroke="#000" stroke-width="1.3" /><line x1="252" y1="433.2" x2="252" y2="469" stroke="#000" stroke-width="1.3" />
<polygon points="291.3,407 294.8,411.6 293.3,411.6 293.3,432 289.3,432 289.3,411.6 287.8,411.6" fill="#fff" stroke="#111" stroke-width="0.7" />
<text class="fs" x="271.7" y="444.2" font-size="8.2" fill="#fff" >I<tspan font-size="5.4" dy="1.7">2</tspan><tspan dy="-1.7">, HI, MAI</tspan><tspan font-size="5.4" dy="1.7">x</tspan></text>
<text class="fs" x="307.4" y="462.2" font-size="5.8" fill="#fff" >Light</text>
<polygon points="311.5,446 322.5,448.2 320.5,451.6 331.5,459.6 319.5,456.6 321.5,453.4" fill="url(#rain)" stroke="none" stroke-width="1" />
<circle cx="335.8" cy="450.6" r="4.2" fill="#fff" stroke="#333" stroke-width="0.5" />
<circle cx="335.8" cy="462" r="4.2" fill="#fff" stroke="#333" stroke-width="0.5" />
<text class="fn" x="335.8" y="452" font-size="3.8" text-anchor="middle" fill="#223" >h<tspan font-size="2.6" dy="-1.2">+</tspan></text>
<text class="fn" x="335.8" y="463.4" font-size="3.8" text-anchor="middle" fill="#223" >e<tspan font-size="2.6" dy="-1.2">-</tspan></text>
<path d="M314.5,399 L316.5,405 L314.8,409 L317.2,414 L315.5,419 L317.5,424.5 M316.5,405 L319,408 M314.8,409 L313,413 M317.2,414 L319.4,417" fill="none" stroke="#b4acd0" stroke-width="1.1"/>
<text class="fn" x="316.7" y="383.6" font-size="7.1" >Ag</text>
<text class="fn" x="342.8" y="396.6" font-size="7.3" >Ag<tspan font-size="5" dy="-2.6">+</tspan></text>
<text class="fn" x="317.2" y="429.8" font-size="7.1" fill="#fff" >Ag</text>
<text class="fn" x="340" y="428.6" font-size="7.3" fill="#fff" >Ag<tspan font-size="5" dy="-2.6">+</tspan></text>
<path d="M320.6,386.5 C319.8,392 322.5,396 327.5,397" fill="none" stroke="#e01020" stroke-width="2"/>
<path d="M331,400.6 H340" fill="none" stroke="#e01020" stroke-width="2"/>
<path d="M347,401 V422" fill="none" stroke="#e01020" stroke-width="2.2"/>
<path d="M327,432.6 C327.5,437.4 331,440 335,439.4" fill="none" stroke="#e01020" stroke-width="2"/>
<path d="M338.5,439 C342.5,438 345.5,435.4 345.8,431.8" fill="none" stroke="#e01020" stroke-width="2"/>
<polygon points="416.3,439 402.4,426.2 402.4,432.6 364.7,432.6 364.7,445.4 402.4,445.4 402.4,451.8" fill="url(#arr)" stroke="#3a3a3a" stroke-width="0.9" />
<text class="fs" x="387" y="399.5" font-size="10" text-anchor="middle" >Insert</text>
<text class="fs" x="387" y="412" font-size="10" text-anchor="middle" >MoO<tspan font-size="6.4" dy="2">3</tspan></text>
<text class="fs" x="387" y="424" font-size="10" text-anchor="middle" >layer</text>
<text class="fs" x="411.5" y="336" font-size="10.2" >Larger and condense</text>
<text class="fs" x="411.5" y="348.2" font-size="10.2" >Ag clusters</text>
<rect x="446.6" y="384" width="88" height="15.3" fill="#bfb389" stroke="none" stroke-width="1" />
<rect x="446.6" y="399.2" width="88" height="25" fill="#6a2c9e" stroke="none" stroke-width="1" />
<rect x="446.6" y="424" width="88" height="54" fill="#7a3131" stroke="none" stroke-width="1" />
<circle cx="452.8" cy="377.8" r="6.3" fill="url(#ag2)" stroke="none" stroke-width="1" />
<circle cx="462.3" cy="377.8" r="6.3" fill="url(#ag2)" stroke="none" stroke-width="1" />
<circle cx="471.8" cy="377.8" r="6.3" fill="url(#ag2)" stroke="none" stroke-width="1" />
<circle cx="481.3" cy="377.8" r="6.3" fill="url(#ag2)" stroke="none" stroke-width="1" />
<circle cx="490.8" cy="377.8" r="6.3" fill="url(#ag2)" stroke="none" stroke-width="1" />
<circle cx="499" cy="377.8" r="6.3" fill="url(#ag2)" stroke="none" stroke-width="1" />
<circle cx="454" cy="368.3" r="6.3" fill="url(#ag2)" stroke="none" stroke-width="1" />
<circle cx="463.5" cy="368.3" r="6.3" fill="url(#ag2)" stroke="none" stroke-width="1" />
<circle cx="473" cy="368.3" r="6.3" fill="url(#ag2)" stroke="none" stroke-width="1" />
<circle cx="482.5" cy="368.3" r="6.3" fill="url(#ag2)" stroke="none" stroke-width="1" />
<circle cx="492" cy="368.3" r="6.3" fill="url(#ag2)" stroke="none" stroke-width="1" />
<circle cx="453.8" cy="359.2" r="6.3" fill="url(#ag2)" stroke="none" stroke-width="1" />
<circle cx="463.3" cy="359.2" r="6.3" fill="url(#ag2)" stroke="none" stroke-width="1" />
<circle cx="472.8" cy="359.2" r="6.3" fill="url(#ag2)" stroke="none" stroke-width="1" />
<circle cx="482.6" cy="359.2" r="6.3" fill="url(#ag2)" stroke="none" stroke-width="1" />
<circle cx="508" cy="379.2" r="4.9" fill="url(#ag2)" stroke="none" stroke-width="1" />
<circle cx="517.2" cy="379.2" r="4.9" fill="url(#ag2)" stroke="none" stroke-width="1" />
<line x1="464.6" y1="364.8" x2="467.4" y2="363.2" stroke="#b8b8b8" stroke-width="0.7" />
<line x1="475.6" y1="364.8" x2="478.4" y2="363.2" stroke="#b8b8b8" stroke-width="0.7" />
<line x1="457.6" y1="374.3" x2="460.4" y2="372.7" stroke="#b8b8b8" stroke-width="0.7" />
<line x1="468.6" y1="374.3" x2="471.4" y2="372.7" stroke="#b8b8b8" stroke-width="0.7" />
<line x1="479.6" y1="374.3" x2="482.4" y2="372.7" stroke="#b8b8b8" stroke-width="0.7" />
<line x1="490.6" y1="374.3" x2="493.4" y2="372.7" stroke="#b8b8b8" stroke-width="0.7" />
<line x1="464.6" y1="382.8" x2="467.4" y2="381.2" stroke="#b8b8b8" stroke-width="0.7" />
<line x1="486.6" y1="361.8" x2="489.4" y2="360.2" stroke="#b8b8b8" stroke-width="0.7" />
<polyline points="449,373.2 433,373.2 433,417.3" fill="none" stroke="#000" stroke-width="1.3" /><line x1="422.5" y1="417.3" x2="443.5" y2="417.3" stroke="#000" stroke-width="1.3" /><line x1="427.8" y1="425" x2="438.2" y2="425" stroke="#000" stroke-width="1.3" /><line x1="433" y1="425" x2="433" y2="468.5" stroke="#000" stroke-width="1.3" />
<text class="fs" x="452.5" y="394.6" font-size="8.2" fill="#f4f0e2" >MoO<tspan font-size="5.4" dy="1.6">3</tspan></text>
<text class="fn" x="498.5" y="353.4" font-size="9.2" >Ag</text>
<text class="fn" x="532.8" y="370.8" font-size="9.2" >Ag<tspan font-size="6.4" dy="-3.2">+</tspan></text>
<path d="M506,356 C506,366 516,373 527.5,369.6" fill="none" stroke="#e01020" stroke-width="1.6"/>
<polygon points="532,367.4 526,366.6 527.8,372.6" fill="#e01020" stroke="none" stroke-width="1" />
<line x1="511.5" y1="366" x2="520.5" y2="374" stroke="#e01020" stroke-width="0.9" />
<line x1="520.5" y1="365.5" x2="511.5" y2="374.5" stroke="#e01020" stroke-width="0.9" /></g>
<g id="pd"><polyline points="84.5,506.73 85.15,506.99 85.81,507.25 86.46,507.5 87.12,507.76 87.77,508.02 88.43,508.27 89.08,508.53 89.74,508.79 90.39,509.04 91.05,509.3 91.7,509.45 92.35,509.6 93.01,509.75 93.66,509.9 94.32,510.05 94.97,510.2 95.63,510.35 96.28,510.5 96.94,510.65 97.59,510.8 98.24,510.95 98.9,511.1 99.55,511.25 100.21,511.4 100.86,511.55 101.52,511.7 102.17,511.85 102.83,512 103.48,512.15 104.13,512.3 104.79,512.4 105.44,512.51 106.1,512.62 106.75,512.72 107.41,512.83 108.06,512.94 108.72,513.04 109.37,513.15 110.03,513.26 110.68,513.37 111.33,513.47 111.99,513.58 112.64,513.69 113.3,513.79 113.95,513.9 114.61,514.01 115.26,514.12 115.92,514.22 116.57,514.33 117.22,514.44 117.88,514.56 118.53,514.69 119.19,514.82 119.84,514.95 120.5,515.08 121.15,515.21 121.81,515.33 122.46,515.46 123.12,515.59 123.77,515.72 124.42,515.85 125.08,515.98 125.73,516.11 126.39,516.23 127.04,516.36 127.7,516.49 128.35,516.62 129.01,516.75 129.66,516.88 130.31,517 130.97,517.13 131.62,517.26 132.28,517.39 132.93,517.52 133.59,517.65 134.24,517.77 134.9,517.9 135.55,518.03 136.21,518.16 136.86,518.29 137.51,518.42 138.17,518.54 138.82,518.67 139.48,518.8 140.13,518.93 140.79,519.06 141.44,519.19 142.1,519.32 142.75,519.44 143.41,519.57 144.06,519.69 144.71,519.81 145.37,519.93 146.02,520.05 146.68,520.17 147.33,520.29 147.99,520.41 148.64,520.53 149.3,520.65 149.95,520.77 150.6,520.9 151.26,521.04 151.91,521.17 152.57,521.3 153.22,521.43 153.88,521.57 154.53,521.7 155.19,521.83 155.84,521.96 156.5,522.1 157.15,522.23 157.8,522.36 158.46,522.5 159.11,522.63 159.77,522.76 160.42,522.89 161.08,523.03 161.73,523.16 162.39,523.29 163.04,523.42 163.69,523.53 164.35,523.64 165,523.75 165.66,523.85 166.31,523.96 166.97,524.07 167.62,524.17 168.28,524.28 168.93,524.39 169.58,524.49 170.24,524.6 170.89,524.71 171.55,524.81 172.2,524.92 172.86,525.03 173.51,525.14 174.17,525.24 174.82,525.35 175.48,525.46 176.13,525.56 176.78,525.64 177.44,525.71 178.09,525.78 178.75,525.85 179.4,525.92 180.06,525.99 180.71,526.06 181.37,526.13 182.02,526.21 182.68,526.28 183.33,526.35 183.98,526.42 184.64,526.49 185.29,526.56 185.95,526.63 186.6,526.71 187.26,526.78 187.91,526.85 188.57,526.85" fill="none" stroke="#111" stroke-width="5" stroke-linejoin="round" stroke-linecap="round"/>
<polyline points="188.89,527.28 189.55,587.2" fill="none" stroke="#111" stroke-width="2.8" />
<circle cx="189.87" cy="589.73" r="1.9" fill="#111" stroke="none" stroke-width="1" />
<circle cx="189.87" cy="589.73" r="0.6" fill="#ccc" stroke="none" stroke-width="1" />
<circle cx="190.92" cy="589.48" r="1.9" fill="#111" stroke="none" stroke-width="1" />
<circle cx="190.92" cy="589.48" r="0.6" fill="#ccc" stroke="none" stroke-width="1" />
<circle cx="191.97" cy="589.4" r="1.9" fill="#111" stroke="none" stroke-width="1" />
<circle cx="191.97" cy="589.4" r="0.6" fill="#ccc" stroke="none" stroke-width="1" />
<circle cx="193.02" cy="590.09" r="1.9" fill="#111" stroke="none" stroke-width="1" />
<circle cx="193.02" cy="590.09" r="0.6" fill="#ccc" stroke="none" stroke-width="1" />
<circle cx="194.06" cy="591.15" r="1.9" fill="#111" stroke="none" stroke-width="1" />
<circle cx="194.06" cy="591.15" r="0.6" fill="#ccc" stroke="none" stroke-width="1" />
<circle cx="195.11" cy="592.68" r="1.9" fill="#111" stroke="none" stroke-width="1" />
<circle cx="195.11" cy="592.68" r="0.6" fill="#ccc" stroke="none" stroke-width="1" />
<circle cx="196.16" cy="592.35" r="1.9" fill="#111" stroke="none" stroke-width="1" />
<circle cx="196.16" cy="592.35" r="0.6" fill="#ccc" stroke="none" stroke-width="1" />
<circle cx="197.2" cy="592.51" r="1.9" fill="#111" stroke="none" stroke-width="1" />
<circle cx="197.2" cy="592.51" r="0.6" fill="#ccc" stroke="none" stroke-width="1" />
<circle cx="198.25" cy="592.84" r="1.9" fill="#111" stroke="none" stroke-width="1" />
<circle cx="198.25" cy="592.84" r="0.6" fill="#ccc" stroke="none" stroke-width="1" />
<circle cx="199.3" cy="591.01" r="1.9" fill="#111" stroke="none" stroke-width="1" />
<circle cx="199.3" cy="591.01" r="0.6" fill="#ccc" stroke="none" stroke-width="1" />
<circle cx="200.35" cy="588.54" r="1.9" fill="#111" stroke="none" stroke-width="1" />
<circle cx="200.35" cy="588.54" r="0.6" fill="#ccc" stroke="none" stroke-width="1" />
<circle cx="201.39" cy="588.35" r="1.9" fill="#111" stroke="none" stroke-width="1" />
<circle cx="201.39" cy="588.35" r="0.6" fill="#ccc" stroke="none" stroke-width="1" />
<circle cx="202.44" cy="588.27" r="1.9" fill="#111" stroke="none" stroke-width="1" />
<circle cx="202.44" cy="588.27" r="0.6" fill="#ccc" stroke="none" stroke-width="1" />
<circle cx="203.49" cy="588.72" r="1.9" fill="#111" stroke="none" stroke-width="1" />
<circle cx="203.49" cy="588.72" r="0.6" fill="#ccc" stroke="none" stroke-width="1" />
<circle cx="204.54" cy="587.83" r="1.9" fill="#111" stroke="none" stroke-width="1" />
<circle cx="204.54" cy="587.83" r="0.6" fill="#ccc" stroke="none" stroke-width="1" />
<circle cx="205.58" cy="588.82" r="1.9" fill="#111" stroke="none" stroke-width="1" />
<circle cx="205.58" cy="588.82" r="0.6" fill="#ccc" stroke="none" stroke-width="1" />
<circle cx="206.63" cy="588.98" r="1.9" fill="#111" stroke="none" stroke-width="1" />
<circle cx="206.63" cy="588.98" r="0.6" fill="#ccc" stroke="none" stroke-width="1" />
<circle cx="207.68" cy="589.51" r="1.9" fill="#111" stroke="none" stroke-width="1" />
<circle cx="207.68" cy="589.51" r="0.6" fill="#ccc" stroke="none" stroke-width="1" />
<circle cx="208.72" cy="593.34" r="1.9" fill="#111" stroke="none" stroke-width="1" />
<circle cx="208.72" cy="593.34" r="0.6" fill="#ccc" stroke="none" stroke-width="1" />
<circle cx="209.77" cy="591.99" r="1.9" fill="#111" stroke="none" stroke-width="1" />
<circle cx="209.77" cy="591.99" r="0.6" fill="#ccc" stroke="none" stroke-width="1" />
<circle cx="210.82" cy="594" r="1.9" fill="#111" stroke="none" stroke-width="1" />
<circle cx="210.82" cy="594" r="0.6" fill="#ccc" stroke="none" stroke-width="1" />
<circle cx="211.87" cy="593.71" r="1.9" fill="#111" stroke="none" stroke-width="1" />
<circle cx="211.87" cy="593.71" r="0.6" fill="#ccc" stroke="none" stroke-width="1" />
<circle cx="212.91" cy="593.87" r="1.9" fill="#111" stroke="none" stroke-width="1" />
<circle cx="212.91" cy="593.87" r="0.6" fill="#ccc" stroke="none" stroke-width="1" />
<circle cx="213.96" cy="590.93" r="1.9" fill="#111" stroke="none" stroke-width="1" />
<circle cx="213.96" cy="590.93" r="0.6" fill="#ccc" stroke="none" stroke-width="1" />
<circle cx="215.01" cy="590.54" r="1.9" fill="#111" stroke="none" stroke-width="1" />
<circle cx="215.01" cy="590.54" r="0.6" fill="#ccc" stroke="none" stroke-width="1" />
<circle cx="216.05" cy="589.72" r="1.9" fill="#111" stroke="none" stroke-width="1" />
<circle cx="216.05" cy="589.72" r="0.6" fill="#ccc" stroke="none" stroke-width="1" />
<circle cx="217.1" cy="589.99" r="1.9" fill="#111" stroke="none" stroke-width="1" />
<circle cx="217.1" cy="589.99" r="0.6" fill="#ccc" stroke="none" stroke-width="1" />
<circle cx="218.15" cy="589.85" r="1.9" fill="#111" stroke="none" stroke-width="1" />
<circle cx="218.15" cy="589.85" r="0.6" fill="#ccc" stroke="none" stroke-width="1" />
<circle cx="219.2" cy="588.2" r="1.9" fill="#111" stroke="none" stroke-width="1" />
<circle cx="219.2" cy="588.2" r="0.6" fill="#ccc" stroke="none" stroke-width="1" />
<circle cx="220.24" cy="587.42" r="1.9" fill="#111" stroke="none" stroke-width="1" />
<circle cx="220.24" cy="587.42" r="0.6" fill="#ccc" stroke="none" stroke-width="1" />
<circle cx="221.29" cy="587.91" r="1.9" fill="#111" stroke="none" stroke-width="1" />
<circle cx="221.29" cy="587.91" r="0.6" fill="#ccc" stroke="none" stroke-width="1" />
<circle cx="222.34" cy="587.73" r="1.9" fill="#111" stroke="none" stroke-width="1" />
<circle cx="222.34" cy="587.73" r="0.6" fill="#ccc" stroke="none" stroke-width="1" />
<circle cx="223.38" cy="589.66" r="1.9" fill="#111" stroke="none" stroke-width="1" />
<circle cx="223.38" cy="589.66" r="0.6" fill="#ccc" stroke="none" stroke-width="1" />
<circle cx="224.43" cy="588.47" r="1.9" fill="#111" stroke="none" stroke-width="1" />
<circle cx="224.43" cy="588.47" r="0.6" fill="#ccc" stroke="none" stroke-width="1" />
<circle cx="225.48" cy="592.33" r="1.9" fill="#111" stroke="none" stroke-width="1" />
<circle cx="225.48" cy="592.33" r="0.6" fill="#ccc" stroke="none" stroke-width="1" />
<circle cx="226.53" cy="592" r="1.9" fill="#111" stroke="none" stroke-width="1" />
<circle cx="226.53" cy="592" r="0.6" fill="#ccc" stroke="none" stroke-width="1" />
<circle cx="227.57" cy="593.38" r="1.9" fill="#111" stroke="none" stroke-width="1" />
<circle cx="227.57" cy="593.38" r="0.6" fill="#ccc" stroke="none" stroke-width="1" />
<polyline points="84.5,509.3 85.48,511.87 86.46,514.44 87.45,515.33 88.43,516.23 89.41,517.13 90.39,517.55 91.37,517.74 92.35,517.92 93.34,518.1 94.32,518.28 95.3,518.46 96.28,518.64 97.26,518.83 98.24,518.93 99.23,518.99 100.21,519.06 101.19,519.12 102.17,519.19 103.15,519.25 104.13,519.32 105.12,519.38 106.1,519.44 107.08,519.51 108.06,519.57 109.04,519.64 110.03,519.7 111.01,519.77 111.99,519.83 112.97,519.9 113.95,519.97 114.93,520.04 115.92,520.11 116.9,520.18 117.88,520.25 118.86,520.31 119.84,520.38 120.82,520.45 121.81,520.52 122.79,520.59 123.77,520.66 124.75,520.72 125.73,520.79 126.72,520.86 127.7,520.93 128.68,521 129.66,521.07 130.64,521.13 131.62,521.18 132.61,521.23 133.59,521.28 134.57,521.34 135.55,521.39 136.53,521.44 137.51,521.49 138.5,521.54 139.48,521.59 140.46,521.64 141.44,521.69 142.42,521.75 143.41,521.8 144.39,521.85 145.37,521.9 146.35,521.95 147.33,522 148.31,522.05 149.3,522.11 150.28,522.15 151.26,522.19 152.24,522.23 153.22,522.27 154.2,522.31 155.19,522.35 156.17,522.38 157.15,522.42 158.13,522.46 159.11,522.5 160.09,522.54 161.08,522.58 162.06,522.62 163.04,522.65 164.02,522.69 165,522.73 165.99,522.77 166.97,522.81 167.95,522.85 168.93,522.88 169.91,522.92 170.89,522.96 171.88,523 172.86,523.04 173.84,523.08 174.82,523.12 175.8,523.15 176.78,523.19 177.77,523.23 178.75,523.27 179.73,523.31 180.71,523.35 181.69,523.39 182.68,523.42 183.66,523.44 184.64,523.46 185.62,523.47 186.6,523.49 187.58,523.51 188.57,523.52 189.55,523.54 190.53,523.56 191.51,523.57 192.49,523.59 193.47,523.61 194.46,523.62 195.44,523.64 196.42,523.66 197.4,523.67 198.38,523.69 199.36,523.71 200.35,523.72 201.33,523.74 202.31,523.76 203.29,523.77 204.27,523.79 205.26,523.81 206.24,523.82 207.22,523.84 208.2,523.86 209.18,523.87 210.16,523.89 211.15,523.91 212.13,523.92 213.11,523.94 214.09,523.96 215.07,523.97 216.05,523.99 217.04,524.01 218.02,524.02 219,524.04 219.98,524.06 220.96,524.07 221.94,524.09 222.93,524.11 223.91,524.13 224.89,524.14 225.87,524.16 226.85,524.18 227.84,524.19 228.82,524.21 229.8,524.23 230.78,524.24 231.76,524.26 232.74,524.28 233.73,524.29 234.71,524.31 235.69,524.33 236.67,524.34 237.65,524.36 238.63,524.38 239.62,524.39 240.6,524.41 241.58,524.43 242.56,524.44 243.54,524.46 244.53,524.48 245.51,524.49 246.49,524.51 247.47,524.53 248.45,524.54 249.43,524.54 250.42,524.55 251.4,524.55 252.38,524.56 253.36,524.56 254.34,524.57 255.32,524.57 256.31,524.58 257.29,524.58 258.27,524.59 259.25,524.6 260.23,524.6 261.22,524.61 262.2,524.61 263.18,524.62 264.16,524.62 265.14,524.63 266.12,524.63 267.11,524.64 268.09,524.64 269.07,524.65 270.05,524.65 271.03,524.66 272.01,524.66 273,524.67 273.98,524.67 274.96,524.68 275.94,524.68 276.92,524.69 277.9,524.69 278.89,524.7 279.87,524.7 280.85,524.71 281.83,524.71 282.81,524.72 283.8,524.72 284.78,524.73 285.76,524.73 286.74,524.74 287.72,524.74 288.7,524.75 289.69,524.75 290.67,524.76 291.65,524.76 292.63,524.77 293.61,524.77 294.59,524.78 295.58,524.79 296.56,524.79 297.54,524.8 298.52,524.8 299.5,524.81 300.49,524.81 301.47,524.82 302.45,524.82 303.43,524.83 304.41,524.83 305.39,524.84 306.38,524.84 307.36,524.85 308.34,524.85 309.32,524.86 310.3,524.86 311.28,524.87 312.27,524.87 313.25,524.88 314.23,524.88 315.21,524.89 316.19,524.89 317.17,524.9 318.16,524.9 319.14,524.91 320.12,524.91 321.1,524.92 322.08,524.92 323.07,524.93 324.05,524.93 325.03,524.94 326.01,524.94 326.99,524.95 327.97,524.95 328.96,524.96 329.94,524.96 330.92,524.97 331.9,524.98 332.88,524.98 333.86,524.99 334.85,524.99 335.83,525 336.81,525 337.79,525.01 338.77,525.01 339.75,525.02 340.74,525.02 341.72,525.03 342.7,525.03 343.68,525.04 344.66,525.04 345.65,525.05 346.63,525.05 347.61,525.05 348.59,525.05 349.57,525.06 350.55,525.06 351.54,525.06 352.52,525.06 353.5,525.06 354.48,525.07 355.46,525.07 356.44,525.07 357.43,525.07 358.41,525.07 359.39,525.08 360.37,525.08 361.35,525.08 362.34,525.08 363.32,525.08 364.3,525.08 365.28,525.09 366.26,525.09 367.24,525.09 368.23,525.09 369.21,525.09 370.19,525.1 371.17,525.1 372.15,525.1 373.13,525.1 374.12,525.1 375.1,525.11 376.08,525.11 377.06,525.11 378.04,525.11 379.02,525.11 380.01,525.11 380.99,525.12 381.97,525.12 382.95,525.12 383.93,525.12 384.92,525.12 385.9,525.13 386.88,525.13 387.86,525.13 388.84,525.13 389.82,525.13 390.81,525.14 391.79,525.14 392.77,525.14 393.75,525.14 394.73,525.14 395.71,525.14 396.7,525.15 397.68,525.15 398.66,525.15 399.64,525.15 400.62,525.15 401.61,525.16 402.59,525.16 403.57,525.16 404.55,525.16 405.53,525.16 406.51,525.16 407.5,525.17 408.48,525.17 409.46,525.17 410.44,525.17 411.42,525.17 412.4,525.18 413.39,525.18 414.37,525.18 415.35,525.18 416.33,525.18 417.31,525.19 418.29,525.19 419.28,525.19 420.26,525.19 421.24,525.19 422.22,525.19 423.2,525.2 424.19,525.2 425.17,525.2 426.15,525.2 427.13,525.2 428.11,525.21 429.09,525.21 430.08,525.21 431.06,525.21 432.04,525.21 433.02,525.22 434,525.22 434.98,525.22 435.97,525.22 436.95,525.22 437.93,525.22 438.91,525.23 439.89,525.23 440.88,525.23 441.86,525.23 442.84,525.23 443.82,525.24 444.8,525.24 445.78,525.24 446.77,525.24 447.75,525.24 448.73,525.25 449.71,525.25 450.69,525.25 451.67,525.25 452.66,525.25 453.64,525.25 454.62,525.26 455.6,525.26 456.58,525.26 457.56,525.26 458.55,525.26 459.53,525.27 460.51,525.27 461.49,525.27 462.47,525.27 463.46,525.27 464.44,525.28 465.42,525.28 466.4,525.28 467.38,525.28 468.36,525.28 469.35,525.28 470.33,525.29 471.31,525.29 472.29,525.29 473.27,525.29 474.25,525.29 475.24,525.3 476.22,525.3 477.2,525.3 478.18,525.3 479.16,525.3 480.15,525.31 481.13,525.31 482.11,525.31 483.09,525.31 484.07,525.31 485.05,525.31 486.04,525.32 487.02,525.32 488,525.32 488.98,525.32 489.96,525.32 490.94,525.33 491.93,525.33 492.91,525.33 493.89,525.33 494.87,525.33 495.85,525.33 496.83,525.34 497.82,525.34 498.8,525.34 499.78,525.34 500.76,525.34 501.74,525.35 502.73,525.35 503.71,525.35 504.69,525.35 505.67,525.35 506.65,525.36 507.63,525.36 508.62,525.36 509.6,525.36 510.58,525.36 511.56,525.36 512.54,525.37 513.52,525.37 514.51,525.37 515.49,525.37 516.47,525.37 517.45,525.38 518.43,525.38 519.42,525.38 520.4,525.38 521.38,525.38 522.36,525.39 523.34,525.39 524.32,525.39 525.31,525.39 526.29,525.39" fill="none" stroke="#b80c10" stroke-width="6.6" stroke-linejoin="round" stroke-linecap="round"/>
<polyline points="84.5,509.3 85.48,511.87 86.46,514.44 87.45,515.33 88.43,516.23 89.41,517.13 90.39,517.55 91.37,517.74 92.35,517.92 93.34,518.1 94.32,518.28 95.3,518.46 96.28,518.64 97.26,518.83 98.24,518.93 99.23,518.99 100.21,519.06 101.19,519.12 102.17,519.19 103.15,519.25 104.13,519.32 105.12,519.38 106.1,519.44 107.08,519.51 108.06,519.57 109.04,519.64 110.03,519.7 111.01,519.77 111.99,519.83 112.97,519.9 113.95,519.97 114.93,520.04 115.92,520.11 116.9,520.18 117.88,520.25 118.86,520.31 119.84,520.38 120.82,520.45 121.81,520.52 122.79,520.59 123.77,520.66 124.75,520.72 125.73,520.79 126.72,520.86 127.7,520.93 128.68,521 129.66,521.07 130.64,521.13 131.62,521.18 132.61,521.23 133.59,521.28 134.57,521.34 135.55,521.39 136.53,521.44 137.51,521.49 138.5,521.54 139.48,521.59 140.46,521.64 141.44,521.69 142.42,521.75 143.41,521.8 144.39,521.85 145.37,521.9 146.35,521.95 147.33,522 148.31,522.05 149.3,522.11 150.28,522.15 151.26,522.19 152.24,522.23 153.22,522.27 154.2,522.31 155.19,522.35 156.17,522.38 157.15,522.42 158.13,522.46 159.11,522.5 160.09,522.54 161.08,522.58 162.06,522.62 163.04,522.65 164.02,522.69 165,522.73 165.99,522.77 166.97,522.81 167.95,522.85 168.93,522.88 169.91,522.92 170.89,522.96 171.88,523 172.86,523.04 173.84,523.08 174.82,523.12 175.8,523.15 176.78,523.19 177.77,523.23 178.75,523.27 179.73,523.31 180.71,523.35 181.69,523.39 182.68,523.42 183.66,523.44 184.64,523.46 185.62,523.47 186.6,523.49 187.58,523.51 188.57,523.52 189.55,523.54 190.53,523.56 191.51,523.57 192.49,523.59 193.47,523.61 194.46,523.62 195.44,523.64 196.42,523.66 197.4,523.67 198.38,523.69 199.36,523.71 200.35,523.72 201.33,523.74 202.31,523.76 203.29,523.77 204.27,523.79 205.26,523.81 206.24,523.82 207.22,523.84 208.2,523.86 209.18,523.87 210.16,523.89 211.15,523.91 212.13,523.92 213.11,523.94 214.09,523.96 215.07,523.97 216.05,523.99 217.04,524.01 218.02,524.02 219,524.04 219.98,524.06 220.96,524.07 221.94,524.09 222.93,524.11 223.91,524.13 224.89,524.14 225.87,524.16 226.85,524.18 227.84,524.19 228.82,524.21 229.8,524.23 230.78,524.24 231.76,524.26 232.74,524.28 233.73,524.29 234.71,524.31 235.69,524.33 236.67,524.34 237.65,524.36 238.63,524.38 239.62,524.39 240.6,524.41 241.58,524.43 242.56,524.44 243.54,524.46 244.53,524.48 245.51,524.49 246.49,524.51 247.47,524.53 248.45,524.54 249.43,524.54 250.42,524.55 251.4,524.55 252.38,524.56 253.36,524.56 254.34,524.57 255.32,524.57 256.31,524.58 257.29,524.58 258.27,524.59 259.25,524.6 260.23,524.6 261.22,524.61 262.2,524.61 263.18,524.62 264.16,524.62 265.14,524.63 266.12,524.63 267.11,524.64 268.09,524.64 269.07,524.65 270.05,524.65 271.03,524.66 272.01,524.66 273,524.67 273.98,524.67 274.96,524.68 275.94,524.68 276.92,524.69 277.9,524.69 278.89,524.7 279.87,524.7 280.85,524.71 281.83,524.71 282.81,524.72 283.8,524.72 284.78,524.73 285.76,524.73 286.74,524.74 287.72,524.74 288.7,524.75 289.69,524.75 290.67,524.76 291.65,524.76 292.63,524.77 293.61,524.77 294.59,524.78 295.58,524.79 296.56,524.79 297.54,524.8 298.52,524.8 299.5,524.81 300.49,524.81 301.47,524.82 302.45,524.82 303.43,524.83 304.41,524.83 305.39,524.84 306.38,524.84 307.36,524.85 308.34,524.85 309.32,524.86 310.3,524.86 311.28,524.87 312.27,524.87 313.25,524.88 314.23,524.88 315.21,524.89 316.19,524.89 317.17,524.9 318.16,524.9 319.14,524.91 320.12,524.91 321.1,524.92 322.08,524.92 323.07,524.93 324.05,524.93 325.03,524.94 326.01,524.94 326.99,524.95 327.97,524.95 328.96,524.96 329.94,524.96 330.92,524.97 331.9,524.98 332.88,524.98 333.86,524.99 334.85,524.99 335.83,525 336.81,525 337.79,525.01 338.77,525.01 339.75,525.02 340.74,525.02 341.72,525.03 342.7,525.03 343.68,525.04 344.66,525.04 345.65,525.05 346.63,525.05 347.61,525.05 348.59,525.05 349.57,525.06 350.55,525.06 351.54,525.06 352.52,525.06 353.5,525.06 354.48,525.07 355.46,525.07 356.44,525.07 357.43,525.07 358.41,525.07 359.39,525.08 360.37,525.08 361.35,525.08 362.34,525.08 363.32,525.08 364.3,525.08 365.28,525.09 366.26,525.09 367.24,525.09 368.23,525.09 369.21,525.09 370.19,525.1 371.17,525.1 372.15,525.1 373.13,525.1 374.12,525.1 375.1,525.11 376.08,525.11 377.06,525.11 378.04,525.11 379.02,525.11 380.01,525.11 380.99,525.12 381.97,525.12 382.95,525.12 383.93,525.12 384.92,525.12 385.9,525.13 386.88,525.13 387.86,525.13 388.84,525.13 389.82,525.13 390.81,525.14 391.79,525.14 392.77,525.14 393.75,525.14 394.73,525.14 395.71,525.14 396.7,525.15 397.68,525.15 398.66,525.15 399.64,525.15 400.62,525.15 401.61,525.16 402.59,525.16 403.57,525.16 404.55,525.16 405.53,525.16 406.51,525.16 407.5,525.17 408.48,525.17 409.46,525.17 410.44,525.17 411.42,525.17 412.4,525.18 413.39,525.18 414.37,525.18 415.35,525.18 416.33,525.18 417.31,525.19 418.29,525.19 419.28,525.19 420.26,525.19 421.24,525.19 422.22,525.19 423.2,525.2 424.19,525.2 425.17,525.2 426.15,525.2 427.13,525.2 428.11,525.21 429.09,525.21 430.08,525.21 431.06,525.21 432.04,525.21 433.02,525.22 434,525.22 434.98,525.22 435.97,525.22 436.95,525.22 437.93,525.22 438.91,525.23 439.89,525.23 440.88,525.23 441.86,525.23 442.84,525.23 443.82,525.24 444.8,525.24 445.78,525.24 446.77,525.24 447.75,525.24 448.73,525.25 449.71,525.25 450.69,525.25 451.67,525.25 452.66,525.25 453.64,525.25 454.62,525.26 455.6,525.26 456.58,525.26 457.56,525.26 458.55,525.26 459.53,525.27 460.51,525.27 461.49,525.27 462.47,525.27 463.46,525.27 464.44,525.28 465.42,525.28 466.4,525.28 467.38,525.28 468.36,525.28 469.35,525.28 470.33,525.29 471.31,525.29 472.29,525.29 473.27,525.29 474.25,525.29 475.24,525.3 476.22,525.3 477.2,525.3 478.18,525.3 479.16,525.3 480.15,525.31 481.13,525.31 482.11,525.31 483.09,525.31 484.07,525.31 485.05,525.31 486.04,525.32 487.02,525.32 488,525.32 488.98,525.32 489.96,525.32 490.94,525.33 491.93,525.33 492.91,525.33 493.89,525.33 494.87,525.33 495.85,525.33 496.83,525.34 497.82,525.34 498.8,525.34 499.78,525.34 500.76,525.34 501.74,525.35 502.73,525.35 503.71,525.35 504.69,525.35 505.67,525.35 506.65,525.36 507.63,525.36 508.62,525.36 509.6,525.36 510.58,525.36 511.56,525.36 512.54,525.37 513.52,525.37 514.51,525.37 515.49,525.37 516.47,525.37 517.45,525.38 518.43,525.38 519.42,525.38 520.4,525.38 521.38,525.38 522.36,525.39 523.34,525.39 524.32,525.39 525.31,525.39 526.29,525.39" fill="none" stroke="#f01a1e" stroke-width="4.8" stroke-linejoin="round" stroke-linecap="round"/>
<circle cx="84.83" cy="510.16" r="0.75" fill="#fbd0d0" stroke="none" stroke-width="1" />
<circle cx="87.18" cy="515.1" r="0.75" fill="#fbd0d0" stroke="none" stroke-width="1" />
<circle cx="89.54" cy="517.25" r="0.75" fill="#fbd0d0" stroke="none" stroke-width="1" />
<circle cx="91.9" cy="517.83" r="0.75" fill="#fbd0d0" stroke="none" stroke-width="1" />
<circle cx="94.25" cy="518.27" r="0.75" fill="#fbd0d0" stroke="none" stroke-width="1" />
<circle cx="96.61" cy="518.71" r="0.75" fill="#fbd0d0" stroke="none" stroke-width="1" />
<circle cx="98.96" cy="518.98" r="0.75" fill="#fbd0d0" stroke="none" stroke-width="1" />
<circle cx="101.32" cy="519.13" r="0.75" fill="#fbd0d0" stroke="none" stroke-width="1" />
<circle cx="103.68" cy="519.29" r="0.75" fill="#fbd0d0" stroke="none" stroke-width="1" />
<circle cx="106.03" cy="519.44" r="0.75" fill="#fbd0d0" stroke="none" stroke-width="1" />
<circle cx="108.39" cy="519.59" r="0.75" fill="#fbd0d0" stroke="none" stroke-width="1" />
<circle cx="110.75" cy="519.75" r="0.75" fill="#fbd0d0" stroke="none" stroke-width="1" />
<circle cx="113.1" cy="519.91" r="0.75" fill="#fbd0d0" stroke="none" stroke-width="1" />
<circle cx="115.46" cy="520.08" r="0.75" fill="#fbd0d0" stroke="none" stroke-width="1" />
<circle cx="117.81" cy="520.24" r="0.75" fill="#fbd0d0" stroke="none" stroke-width="1" />
<circle cx="120.17" cy="520.41" r="0.75" fill="#fbd0d0" stroke="none" stroke-width="1" />
<circle cx="122.53" cy="520.57" r="0.75" fill="#fbd0d0" stroke="none" stroke-width="1" />
<circle cx="124.88" cy="520.73" r="0.75" fill="#fbd0d0" stroke="none" stroke-width="1" />
<circle cx="127.24" cy="520.9" r="0.75" fill="#fbd0d0" stroke="none" stroke-width="1" />
<circle cx="129.6" cy="521.06" r="0.75" fill="#fbd0d0" stroke="none" stroke-width="1" />
<circle cx="131.95" cy="521.2" r="0.75" fill="#fbd0d0" stroke="none" stroke-width="1" />
<circle cx="134.31" cy="521.32" r="0.75" fill="#fbd0d0" stroke="none" stroke-width="1" />
<circle cx="136.66" cy="521.44" r="0.75" fill="#fbd0d0" stroke="none" stroke-width="1" />
<circle cx="139.02" cy="521.57" r="0.75" fill="#fbd0d0" stroke="none" stroke-width="1" />
<circle cx="141.38" cy="521.69" r="0.75" fill="#fbd0d0" stroke="none" stroke-width="1" />
<circle cx="143.73" cy="521.81" r="0.75" fill="#fbd0d0" stroke="none" stroke-width="1" />
<circle cx="146.09" cy="521.94" r="0.75" fill="#fbd0d0" stroke="none" stroke-width="1" />
<circle cx="148.44" cy="522.06" r="0.75" fill="#fbd0d0" stroke="none" stroke-width="1" />
<circle cx="150.8" cy="522.17" r="0.75" fill="#fbd0d0" stroke="none" stroke-width="1" />
<circle cx="153.16" cy="522.27" r="0.75" fill="#fbd0d0" stroke="none" stroke-width="1" />
<circle cx="155.51" cy="522.36" r="0.75" fill="#fbd0d0" stroke="none" stroke-width="1" />
<circle cx="157.87" cy="522.45" r="0.75" fill="#fbd0d0" stroke="none" stroke-width="1" />
<circle cx="160.23" cy="522.54" r="0.75" fill="#fbd0d0" stroke="none" stroke-width="1" />
<circle cx="162.58" cy="522.64" r="0.75" fill="#fbd0d0" stroke="none" stroke-width="1" />
<circle cx="164.94" cy="522.73" r="0.75" fill="#fbd0d0" stroke="none" stroke-width="1" />
<circle cx="167.29" cy="522.82" r="0.75" fill="#fbd0d0" stroke="none" stroke-width="1" />
<circle cx="169.65" cy="522.91" r="0.75" fill="#fbd0d0" stroke="none" stroke-width="1" />
<circle cx="172.01" cy="523.01" r="0.75" fill="#fbd0d0" stroke="none" stroke-width="1" />
<circle cx="174.36" cy="523.1" r="0.75" fill="#fbd0d0" stroke="none" stroke-width="1" />
<circle cx="176.72" cy="523.19" r="0.75" fill="#fbd0d0" stroke="none" stroke-width="1" />
<circle cx="179.08" cy="523.28" r="0.75" fill="#fbd0d0" stroke="none" stroke-width="1" />
<circle cx="181.43" cy="523.38" r="0.75" fill="#fbd0d0" stroke="none" stroke-width="1" />
<circle cx="183.79" cy="523.44" r="0.75" fill="#fbd0d0" stroke="none" stroke-width="1" />
<circle cx="186.14" cy="523.48" r="0.75" fill="#fbd0d0" stroke="none" stroke-width="1" />
<circle cx="188.5" cy="523.52" r="0.75" fill="#fbd0d0" stroke="none" stroke-width="1" />
<circle cx="190.86" cy="523.56" r="0.75" fill="#fbd0d0" stroke="none" stroke-width="1" />
<circle cx="193.21" cy="523.6" r="0.75" fill="#fbd0d0" stroke="none" stroke-width="1" />
<circle cx="195.57" cy="523.64" r="0.75" fill="#fbd0d0" stroke="none" stroke-width="1" />
<circle cx="197.92" cy="523.68" r="0.75" fill="#fbd0d0" stroke="none" stroke-width="1" />
<circle cx="200.28" cy="523.72" r="0.75" fill="#fbd0d0" stroke="none" stroke-width="1" />
<circle cx="202.64" cy="523.76" r="0.75" fill="#fbd0d0" stroke="none" stroke-width="1" />
<circle cx="204.99" cy="523.8" r="0.75" fill="#fbd0d0" stroke="none" stroke-width="1" />
<circle cx="207.35" cy="523.84" r="0.75" fill="#fbd0d0" stroke="none" stroke-width="1" />
<circle cx="209.71" cy="523.88" r="0.75" fill="#fbd0d0" stroke="none" stroke-width="1" />
<circle cx="212.06" cy="523.92" r="0.75" fill="#fbd0d0" stroke="none" stroke-width="1" />
<circle cx="214.42" cy="523.96" r="0.75" fill="#fbd0d0" stroke="none" stroke-width="1" />
<circle cx="216.77" cy="524" r="0.75" fill="#fbd0d0" stroke="none" stroke-width="1" />
<circle cx="219.13" cy="524.04" r="0.75" fill="#fbd0d0" stroke="none" stroke-width="1" />
<circle cx="221.49" cy="524.08" r="0.75" fill="#fbd0d0" stroke="none" stroke-width="1" />
<circle cx="223.84" cy="524.12" r="0.75" fill="#fbd0d0" stroke="none" stroke-width="1" />
<circle cx="226.2" cy="524.16" r="0.75" fill="#fbd0d0" stroke="none" stroke-width="1" />
<circle cx="228.56" cy="524.2" r="0.75" fill="#fbd0d0" stroke="none" stroke-width="1" />
<circle cx="230.91" cy="524.24" r="0.75" fill="#fbd0d0" stroke="none" stroke-width="1" />
<circle cx="233.27" cy="524.28" r="0.75" fill="#fbd0d0" stroke="none" stroke-width="1" />
<circle cx="235.62" cy="524.32" r="0.75" fill="#fbd0d0" stroke="none" stroke-width="1" />
<circle cx="237.98" cy="524.36" r="0.75" fill="#fbd0d0" stroke="none" stroke-width="1" />
<circle cx="240.34" cy="524.4" r="0.75" fill="#fbd0d0" stroke="none" stroke-width="1" />
<circle cx="242.69" cy="524.44" r="0.75" fill="#fbd0d0" stroke="none" stroke-width="1" />
<circle cx="245.05" cy="524.48" r="0.75" fill="#fbd0d0" stroke="none" stroke-width="1" />
<circle cx="247.41" cy="524.52" r="0.75" fill="#fbd0d0" stroke="none" stroke-width="1" />
<circle cx="249.76" cy="524.55" r="0.75" fill="#fbd0d0" stroke="none" stroke-width="1" />
<circle cx="252.12" cy="524.56" r="0.75" fill="#fbd0d0" stroke="none" stroke-width="1" />
<circle cx="254.47" cy="524.57" r="0.75" fill="#fbd0d0" stroke="none" stroke-width="1" />
<circle cx="256.83" cy="524.58" r="0.75" fill="#fbd0d0" stroke="none" stroke-width="1" />
<circle cx="259.19" cy="524.59" r="0.75" fill="#fbd0d0" stroke="none" stroke-width="1" />
<circle cx="261.54" cy="524.61" r="0.75" fill="#fbd0d0" stroke="none" stroke-width="1" />
<circle cx="263.9" cy="524.62" r="0.75" fill="#fbd0d0" stroke="none" stroke-width="1" />
<circle cx="266.25" cy="524.63" r="0.75" fill="#fbd0d0" stroke="none" stroke-width="1" />
<circle cx="268.61" cy="524.64" r="0.75" fill="#fbd0d0" stroke="none" stroke-width="1" />
<circle cx="270.97" cy="524.66" r="0.75" fill="#fbd0d0" stroke="none" stroke-width="1" />
<circle cx="273.32" cy="524.67" r="0.75" fill="#fbd0d0" stroke="none" stroke-width="1" />
<circle cx="275.68" cy="524.68" r="0.75" fill="#fbd0d0" stroke="none" stroke-width="1" />
<circle cx="278.04" cy="524.69" r="0.75" fill="#fbd0d0" stroke="none" stroke-width="1" />
<circle cx="280.39" cy="524.71" r="0.75" fill="#fbd0d0" stroke="none" stroke-width="1" />
<circle cx="282.75" cy="524.72" r="0.75" fill="#fbd0d0" stroke="none" stroke-width="1" />
<circle cx="285.1" cy="524.73" r="0.75" fill="#fbd0d0" stroke="none" stroke-width="1" />
<circle cx="287.46" cy="524.74" r="0.75" fill="#fbd0d0" stroke="none" stroke-width="1" />
<circle cx="289.82" cy="524.75" r="0.75" fill="#fbd0d0" stroke="none" stroke-width="1" />
<circle cx="292.17" cy="524.77" r="0.75" fill="#fbd0d0" stroke="none" stroke-width="1" />
<circle cx="294.53" cy="524.78" r="0.75" fill="#fbd0d0" stroke="none" stroke-width="1" />
<circle cx="296.89" cy="524.79" r="0.75" fill="#fbd0d0" stroke="none" stroke-width="1" />
<circle cx="299.24" cy="524.8" r="0.75" fill="#fbd0d0" stroke="none" stroke-width="1" />
<circle cx="301.6" cy="524.82" r="0.75" fill="#fbd0d0" stroke="none" stroke-width="1" />
<circle cx="303.95" cy="524.83" r="0.75" fill="#fbd0d0" stroke="none" stroke-width="1" />
<circle cx="306.31" cy="524.84" r="0.75" fill="#fbd0d0" stroke="none" stroke-width="1" />
<circle cx="308.67" cy="524.85" r="0.75" fill="#fbd0d0" stroke="none" stroke-width="1" />
<circle cx="311.02" cy="524.87" r="0.75" fill="#fbd0d0" stroke="none" stroke-width="1" />
<circle cx="313.38" cy="524.88" r="0.75" fill="#fbd0d0" stroke="none" stroke-width="1" />
<circle cx="315.73" cy="524.89" r="0.75" fill="#fbd0d0" stroke="none" stroke-width="1" />
<circle cx="318.09" cy="524.9" r="0.75" fill="#fbd0d0" stroke="none" stroke-width="1" />
<circle cx="320.45" cy="524.92" r="0.75" fill="#fbd0d0" stroke="none" stroke-width="1" />
<circle cx="322.8" cy="524.93" r="0.75" fill="#fbd0d0" stroke="none" stroke-width="1" />
<circle cx="325.16" cy="524.94" r="0.75" fill="#fbd0d0" stroke="none" stroke-width="1" />
<circle cx="327.52" cy="524.95" r="0.75" fill="#fbd0d0" stroke="none" stroke-width="1" />
<circle cx="329.87" cy="524.96" r="0.75" fill="#fbd0d0" stroke="none" stroke-width="1" />
<circle cx="332.23" cy="524.98" r="0.75" fill="#fbd0d0" stroke="none" stroke-width="1" />
<circle cx="334.58" cy="524.99" r="0.75" fill="#fbd0d0" stroke="none" stroke-width="1" />
<circle cx="336.94" cy="525" r="0.75" fill="#fbd0d0" stroke="none" stroke-width="1" />
<circle cx="339.3" cy="525.01" r="0.75" fill="#fbd0d0" stroke="none" stroke-width="1" />
<circle cx="341.65" cy="525.03" r="0.75" fill="#fbd0d0" stroke="none" stroke-width="1" />
<circle cx="344.01" cy="525.04" r="0.75" fill="#fbd0d0" stroke="none" stroke-width="1" />
<circle cx="346.37" cy="525.05" r="0.75" fill="#fbd0d0" stroke="none" stroke-width="1" />
<circle cx="348.72" cy="525.06" r="0.75" fill="#fbd0d0" stroke="none" stroke-width="1" />
<circle cx="351.08" cy="525.06" r="0.75" fill="#fbd0d0" stroke="none" stroke-width="1" />
<circle cx="353.43" cy="525.06" r="0.75" fill="#fbd0d0" stroke="none" stroke-width="1" />
<circle cx="355.79" cy="525.07" r="0.75" fill="#fbd0d0" stroke="none" stroke-width="1" />
<circle cx="358.15" cy="525.07" r="0.75" fill="#fbd0d0" stroke="none" stroke-width="1" />
<circle cx="360.5" cy="525.08" r="0.75" fill="#fbd0d0" stroke="none" stroke-width="1" />
<circle cx="362.86" cy="525.08" r="0.75" fill="#fbd0d0" stroke="none" stroke-width="1" />
<circle cx="365.22" cy="525.09" r="0.75" fill="#fbd0d0" stroke="none" stroke-width="1" />
<circle cx="367.57" cy="525.09" r="0.75" fill="#fbd0d0" stroke="none" stroke-width="1" />
<circle cx="369.93" cy="525.1" r="0.75" fill="#fbd0d0" stroke="none" stroke-width="1" />
<circle cx="372.28" cy="525.1" r="0.75" fill="#fbd0d0" stroke="none" stroke-width="1" />
<circle cx="374.64" cy="525.1" r="0.75" fill="#fbd0d0" stroke="none" stroke-width="1" />
<circle cx="377" cy="525.11" r="0.75" fill="#fbd0d0" stroke="none" stroke-width="1" />
<circle cx="379.35" cy="525.11" r="0.75" fill="#fbd0d0" stroke="none" stroke-width="1" />
<circle cx="381.71" cy="525.12" r="0.75" fill="#fbd0d0" stroke="none" stroke-width="1" />
<circle cx="384.06" cy="525.12" r="0.75" fill="#fbd0d0" stroke="none" stroke-width="1" />
<circle cx="386.42" cy="525.13" r="0.75" fill="#fbd0d0" stroke="none" stroke-width="1" />
<circle cx="388.78" cy="525.13" r="0.75" fill="#fbd0d0" stroke="none" stroke-width="1" />
<circle cx="391.13" cy="525.14" r="0.75" fill="#fbd0d0" stroke="none" stroke-width="1" />
<circle cx="393.49" cy="525.14" r="0.75" fill="#fbd0d0" stroke="none" stroke-width="1" />
<circle cx="395.85" cy="525.14" r="0.75" fill="#fbd0d0" stroke="none" stroke-width="1" />
<circle cx="398.2" cy="525.15" r="0.75" fill="#fbd0d0" stroke="none" stroke-width="1" />
<circle cx="400.56" cy="525.15" r="0.75" fill="#fbd0d0" stroke="none" stroke-width="1" />
<circle cx="402.91" cy="525.16" r="0.75" fill="#fbd0d0" stroke="none" stroke-width="1" />
<circle cx="405.27" cy="525.16" r="0.75" fill="#fbd0d0" stroke="none" stroke-width="1" />
<circle cx="407.63" cy="525.17" r="0.75" fill="#fbd0d0" stroke="none" stroke-width="1" />
<circle cx="409.98" cy="525.17" r="0.75" fill="#fbd0d0" stroke="none" stroke-width="1" />
<circle cx="412.34" cy="525.18" r="0.75" fill="#fbd0d0" stroke="none" stroke-width="1" />
<circle cx="414.7" cy="525.18" r="0.75" fill="#fbd0d0" stroke="none" stroke-width="1" />
<circle cx="417.05" cy="525.18" r="0.75" fill="#fbd0d0" stroke="none" stroke-width="1" />
<circle cx="419.41" cy="525.19" r="0.75" fill="#fbd0d0" stroke="none" stroke-width="1" />
<circle cx="421.76" cy="525.19" r="0.75" fill="#fbd0d0" stroke="none" stroke-width="1" />
<circle cx="424.12" cy="525.2" r="0.75" fill="#fbd0d0" stroke="none" stroke-width="1" />
<circle cx="426.48" cy="525.2" r="0.75" fill="#fbd0d0" stroke="none" stroke-width="1" />
<circle cx="428.83" cy="525.21" r="0.75" fill="#fbd0d0" stroke="none" stroke-width="1" />
<circle cx="431.19" cy="525.21" r="0.75" fill="#fbd0d0" stroke="none" stroke-width="1" />
<circle cx="433.54" cy="525.22" r="0.75" fill="#fbd0d0" stroke="none" stroke-width="1" />
<circle cx="435.9" cy="525.22" r="0.75" fill="#fbd0d0" stroke="none" stroke-width="1" />
<circle cx="438.26" cy="525.23" r="0.75" fill="#fbd0d0" stroke="none" stroke-width="1" />
<circle cx="440.61" cy="525.23" r="0.75" fill="#fbd0d0" stroke="none" stroke-width="1" />
<circle cx="442.97" cy="525.23" r="0.75" fill="#fbd0d0" stroke="none" stroke-width="1" />
<circle cx="445.33" cy="525.24" r="0.75" fill="#fbd0d0" stroke="none" stroke-width="1" />
<circle cx="447.68" cy="525.24" r="0.75" fill="#fbd0d0" stroke="none" stroke-width="1" />
<circle cx="450.04" cy="525.25" r="0.75" fill="#fbd0d0" stroke="none" stroke-width="1" />
<circle cx="452.39" cy="525.25" r="0.75" fill="#fbd0d0" stroke="none" stroke-width="1" />
<circle cx="454.75" cy="525.26" r="0.75" fill="#fbd0d0" stroke="none" stroke-width="1" />
<circle cx="457.11" cy="525.26" r="0.75" fill="#fbd0d0" stroke="none" stroke-width="1" />
<circle cx="459.46" cy="525.27" r="0.75" fill="#fbd0d0" stroke="none" stroke-width="1" />
<circle cx="461.82" cy="525.27" r="0.75" fill="#fbd0d0" stroke="none" stroke-width="1" />
<circle cx="464.18" cy="525.27" r="0.75" fill="#fbd0d0" stroke="none" stroke-width="1" />
<circle cx="466.53" cy="525.28" r="0.75" fill="#fbd0d0" stroke="none" stroke-width="1" />
<circle cx="468.89" cy="525.28" r="0.75" fill="#fbd0d0" stroke="none" stroke-width="1" />
<circle cx="471.24" cy="525.29" r="0.75" fill="#fbd0d0" stroke="none" stroke-width="1" />
<circle cx="473.6" cy="525.29" r="0.75" fill="#fbd0d0" stroke="none" stroke-width="1" />
<circle cx="475.96" cy="525.3" r="0.75" fill="#fbd0d0" stroke="none" stroke-width="1" />
<circle cx="478.31" cy="525.3" r="0.75" fill="#fbd0d0" stroke="none" stroke-width="1" />
<circle cx="480.67" cy="525.31" r="0.75" fill="#fbd0d0" stroke="none" stroke-width="1" />
<circle cx="483.03" cy="525.31" r="0.75" fill="#fbd0d0" stroke="none" stroke-width="1" />
<circle cx="485.38" cy="525.31" r="0.75" fill="#fbd0d0" stroke="none" stroke-width="1" />
<circle cx="487.74" cy="525.32" r="0.75" fill="#fbd0d0" stroke="none" stroke-width="1" />
<circle cx="490.09" cy="525.32" r="0.75" fill="#fbd0d0" stroke="none" stroke-width="1" />
<circle cx="492.45" cy="525.33" r="0.75" fill="#fbd0d0" stroke="none" stroke-width="1" />
<circle cx="494.81" cy="525.33" r="0.75" fill="#fbd0d0" stroke="none" stroke-width="1" />
<circle cx="497.16" cy="525.34" r="0.75" fill="#fbd0d0" stroke="none" stroke-width="1" />
<circle cx="499.52" cy="525.34" r="0.75" fill="#fbd0d0" stroke="none" stroke-width="1" />
<circle cx="501.87" cy="525.35" r="0.75" fill="#fbd0d0" stroke="none" stroke-width="1" />
<circle cx="504.23" cy="525.35" r="0.75" fill="#fbd0d0" stroke="none" stroke-width="1" />
<circle cx="506.59" cy="525.36" r="0.75" fill="#fbd0d0" stroke="none" stroke-width="1" />
<circle cx="508.94" cy="525.36" r="0.75" fill="#fbd0d0" stroke="none" stroke-width="1" />
<circle cx="511.3" cy="525.36" r="0.75" fill="#fbd0d0" stroke="none" stroke-width="1" />
<circle cx="513.66" cy="525.37" r="0.75" fill="#fbd0d0" stroke="none" stroke-width="1" />
<circle cx="516.01" cy="525.37" r="0.75" fill="#fbd0d0" stroke="none" stroke-width="1" />
<circle cx="518.37" cy="525.38" r="0.75" fill="#fbd0d0" stroke="none" stroke-width="1" />
<circle cx="520.72" cy="525.38" r="0.75" fill="#fbd0d0" stroke="none" stroke-width="1" />
<circle cx="523.08" cy="525.39" r="0.75" fill="#fbd0d0" stroke="none" stroke-width="1" />
<circle cx="525.44" cy="525.39" r="0.75" fill="#fbd0d0" stroke="none" stroke-width="1" />
<rect x="84.5" y="501.3" width="472" height="93.9" fill="none" stroke="#000" stroke-width="1.5" />
<line x1="84.5" y1="595.2" x2="84.5" y2="592.2" stroke="#000" stroke-width="1" />
<line x1="117.22" y1="595.2" x2="117.22" y2="593.5" stroke="#000" stroke-width="1" />
<line x1="149.95" y1="595.2" x2="149.95" y2="592.2" stroke="#000" stroke-width="1" />
<line x1="182.68" y1="595.2" x2="182.68" y2="593.5" stroke="#000" stroke-width="1" />
<line x1="215.4" y1="595.2" x2="215.4" y2="592.2" stroke="#000" stroke-width="1" />
<line x1="248.12" y1="595.2" x2="248.12" y2="593.5" stroke="#000" stroke-width="1" />
<line x1="280.85" y1="595.2" x2="280.85" y2="592.2" stroke="#000" stroke-width="1" />
<line x1="313.57" y1="595.2" x2="313.57" y2="593.5" stroke="#000" stroke-width="1" />
<line x1="346.3" y1="595.2" x2="346.3" y2="592.2" stroke="#000" stroke-width="1" />
<line x1="379.02" y1="595.2" x2="379.02" y2="593.5" stroke="#000" stroke-width="1" />
<line x1="411.75" y1="595.2" x2="411.75" y2="592.2" stroke="#000" stroke-width="1" />
<line x1="444.47" y1="595.2" x2="444.47" y2="593.5" stroke="#000" stroke-width="1" />
<line x1="477.2" y1="595.2" x2="477.2" y2="592.2" stroke="#000" stroke-width="1" />
<line x1="509.92" y1="595.2" x2="509.92" y2="593.5" stroke="#000" stroke-width="1" />
<line x1="542.65" y1="595.2" x2="542.65" y2="592.2" stroke="#000" stroke-width="1" />
<line x1="84.5" y1="594.9" x2="87.5" y2="594.9" stroke="#000" stroke-width="1" />
<line x1="84.5" y1="586.34" x2="86.2" y2="586.34" stroke="#000" stroke-width="1" />
<line x1="84.5" y1="577.78" x2="87.5" y2="577.78" stroke="#000" stroke-width="1" />
<line x1="84.5" y1="569.22" x2="86.2" y2="569.22" stroke="#000" stroke-width="1" />
<line x1="84.5" y1="560.66" x2="87.5" y2="560.66" stroke="#000" stroke-width="1" />
<line x1="84.5" y1="552.1" x2="86.2" y2="552.1" stroke="#000" stroke-width="1" />
<line x1="84.5" y1="543.54" x2="87.5" y2="543.54" stroke="#000" stroke-width="1" />
<line x1="84.5" y1="534.98" x2="86.2" y2="534.98" stroke="#000" stroke-width="1" />
<line x1="84.5" y1="526.42" x2="87.5" y2="526.42" stroke="#000" stroke-width="1" />
<line x1="84.5" y1="517.86" x2="86.2" y2="517.86" stroke="#000" stroke-width="1" />
<line x1="84.5" y1="509.3" x2="87.5" y2="509.3" stroke="#000" stroke-width="1" />
<text class="fs" x="84.5" y="605.6" font-size="7.4" text-anchor="middle" >0</text>
<text class="fs" x="149.95" y="605.6" font-size="7.4" text-anchor="middle" >100</text>
<text class="fs" x="215.4" y="605.6" font-size="7.4" text-anchor="middle" >200</text>
<text class="fs" x="280.85" y="605.6" font-size="7.4" text-anchor="middle" >300</text>
<text class="fs" x="346.3" y="605.6" font-size="7.4" text-anchor="middle" >400</text>
<text class="fs" x="411.75" y="605.6" font-size="7.4" text-anchor="middle" >500</text>
<text class="fs" x="477.2" y="605.6" font-size="7.4" text-anchor="middle" >600</text>
<text class="fs" x="542.65" y="605.6" font-size="7.4" text-anchor="middle" >700</text>
<text class="fs" x="79.8" y="597.9" font-size="9" text-anchor="end" >0.0</text>
<text class="fs" x="79.8" y="580.78" font-size="9" text-anchor="end" >0.2</text>
<text class="fs" x="79.8" y="563.66" font-size="9" text-anchor="end" >0.4</text>
<text class="fs" x="79.8" y="546.54" font-size="9" text-anchor="end" >0.6</text>
<text class="fs" x="79.8" y="529.42" font-size="9" text-anchor="end" >0.8</text>
<text class="fs" x="79.8" y="512.3" font-size="9" text-anchor="end" >1.0</text>
<text class="fs" x="318.3" y="618.6" font-size="12.3" style="font-weight:normal" text-anchor="middle" textLength="48" lengthAdjust="spacingAndGlyphs">Times (h)</text>
<text class="fs" font-size="12.9" style="font-weight:normal" text-anchor="middle" transform="translate(65,543) rotate(-90)" textLength="50" lengthAdjust="spacingAndGlyphs">Nor. PCE</text>
<rect x="375.5" y="538.3" width="132" height="38" fill="#fff" stroke="#000" stroke-width="1.1" />
<line x1="385" y1="550.5" x2="415" y2="550.5" stroke="#111" stroke-width="2.4" />
<circle cx="400" cy="550.5" r="2.7" fill="#111" stroke="none" stroke-width="1" />
<circle cx="399.6" cy="550" r="0.8" fill="#bbb" stroke="none" stroke-width="1" />
<line x1="385" y1="567" x2="415" y2="567" stroke="#e8141c" stroke-width="2.4" />
<circle cx="400" cy="567" r="2.7" fill="#e8141c" stroke="none" stroke-width="1" />
<circle cx="399.6" cy="566.5" r="0.8" fill="#f6b0b0" stroke="none" stroke-width="1" />
<text class="fs" x="416" y="555" font-size="11.8" textLength="50" lengthAdjust="spacingAndGlyphs">Spiro/Ag</text>
<text class="fs" x="416" y="570.4" font-size="11.8" textLength="86" lengthAdjust="spacingAndGlyphs">Spiro/MoO<tspan font-size="7.6" dy="2.4">3</tspan><tspan dy="-2.4">/Ag</tspan></text>
<text class="fs" x="18.5" y="501.3" font-size="15.5" >d</text></g>
</svg>
</body></html>
